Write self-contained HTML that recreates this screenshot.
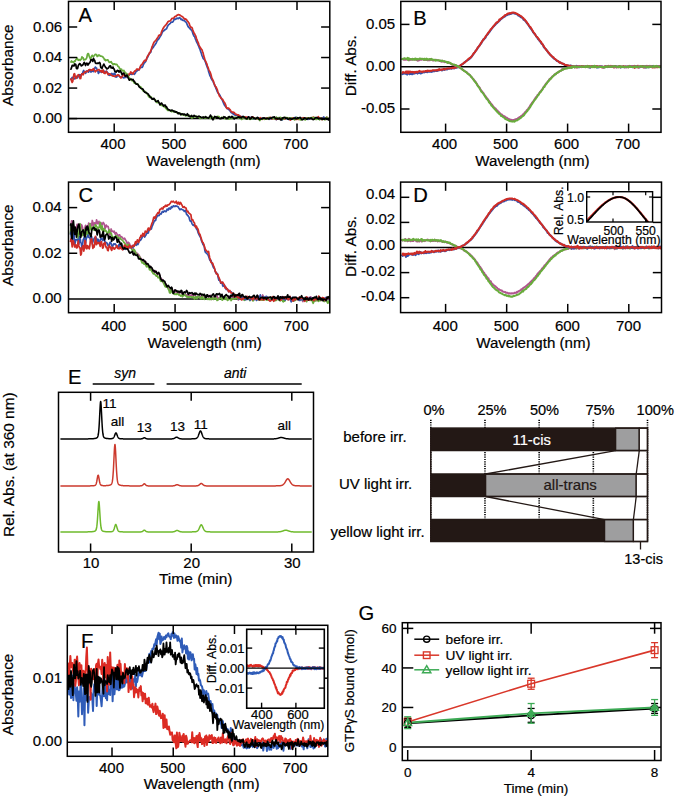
<!DOCTYPE html>
<html><head><meta charset="utf-8"><style>
html,body{margin:0;padding:0;background:#fff;}
svg{display:block;}
text{font-family:"Liberation Sans", sans-serif;}
</style></head><body>
<svg width="675" height="798" viewBox="0 0 675 798">
<defs><clipPath id="cA"><rect x="68.5" y="1.4" width="261.3" height="130.9"/></clipPath><clipPath id="cB"><rect x="400.8" y="1.4" width="260.2" height="130.9"/></clipPath><clipPath id="cC"><rect x="68.5" y="182.1" width="261.3" height="130.6"/></clipPath><clipPath id="cD"><rect x="400.6" y="182.1" width="260.9" height="130.5"/></clipPath><clipPath id="cID"><rect x="586.7" y="191.7" width="65.9" height="30.3"/></clipPath><clipPath id="cF"><rect x="67.3" y="625.3" width="260.5" height="131"/></clipPath><clipPath id="cIF"><rect x="246.7" y="629.3" width="77.6" height="78.9"/></clipPath></defs>
<rect x="0" y="0" width="675" height="798" fill="#fff"/>
<line x1="68.5" y1="118.6" x2="329.8" y2="118.6" stroke="#000" stroke-width="1.5" /><polyline points="70.33,79.71 70.94,79.11 71.55,78.67 72.16,77.34 72.77,77.46 73.37,78.72 73.98,78.75 74.59,78.84 75.2,77.59 75.81,76.82 76.42,77.14 77.03,76.24 77.64,77.83 78.25,75.59 78.86,75.69 79.47,74.64 80.08,76.63 80.69,74.89 81.3,75.68 81.91,73.55 82.51,73.55 83.12,71.45 83.73,70.47 84.34,72.01 84.95,72.38 85.56,73.4 86.17,71.88 86.78,71.05 87.39,70.79 88,71.46 88.61,72.1 89.22,70.76 89.83,70.79 90.44,70.43 91.05,72.1 91.65,70.23 92.26,71.34 92.87,70.74 93.48,71.54 94.09,70.2 94.7,68.24 95.31,67.06 95.92,67.91 96.53,68.11 97.14,70.11 97.75,70.79 98.36,73.41 98.97,72.57 99.58,71.06 100.19,71.69 100.79,71.69 101.4,72.39 102.01,70.63 102.62,71.36 103.23,70.78 103.84,71.08 104.45,71.8 105.06,71.67 105.67,72.12 106.28,71.17 106.89,71.56 107.5,72.59 108.11,73.38 108.72,74.96 109.33,75.23 109.93,75.31 110.54,74.89 111.15,73.81 111.76,73.41 112.37,73.86 112.98,75.33 113.59,74.46 114.2,73.38 114.81,73.11 115.42,75.57 116.03,77.1 116.64,76.97 117.25,75.9 117.86,75.21 118.47,75.2 119.07,76.01 119.68,76.5 120.29,76.93 120.9,76.8 121.51,76.96 122.12,76.53 122.73,77.51 123.34,77.59 123.95,77.92 124.56,77.43 125.17,77.21 125.78,77.42 126.39,77.01 127,76.87 127.61,76.28 128.21,76.02 128.82,75.14 129.43,74.69 130.04,74.04 130.65,74.17 131.26,74.28 131.87,74.5 132.48,73.88 133.09,73.38 133.7,73.37 134.31,74.25 134.92,73.57 135.53,72.68 136.14,71.35 136.75,71.22 137.35,70.64 137.96,70.23 138.57,70.04 139.18,69.4 139.79,68.43 140.4,67.14 141.01,67.21 141.62,67.45 142.23,67.49 142.84,66.17 143.45,64.55 144.06,63.08 144.67,62.7 145.28,62.03 145.89,60.86 146.49,59.38 147.1,57.69 147.71,57.14 148.32,55.49 148.93,54.23 149.54,53.33 150.15,52.73 150.76,52.21 151.37,49.48 151.98,48.86 152.59,47.73 153.2,47.65 153.81,46.09 154.42,45.52 155.03,44.77 155.63,43.73 156.24,42.9 156.85,41.19 157.46,40.53 158.07,39.3 158.68,39.17 159.29,38.02 159.9,36.94 160.51,36.08 161.12,35.13 161.73,33.67 162.34,32.16 162.95,31.32 163.56,30.76 164.17,30.58 164.77,29.59 165.38,29.64 165.99,29.02 166.6,28.68 167.21,27.05 167.82,25.9 168.43,24.77 169.04,24.53 169.65,23.89 170.26,23.36 170.87,22.58 171.48,22.1 172.09,22.03 172.7,22.04 173.31,21.15 173.91,19.82 174.52,18.88 175.13,19.46 175.74,19.04 176.35,18.83 176.96,18.07 177.57,18.49 178.18,18.69 178.79,18.07 179.4,17.58 180.01,17.98 180.62,18.87 181.23,19.6 181.84,19.06 182.45,20.17 183.05,20.31 183.66,20.57 184.27,20.27 184.88,21.12 185.49,21.83 186.1,22.2 186.71,23.35 187.32,24.97 187.93,26.28 188.54,27.19 189.15,27.71 189.76,28.51 190.37,29.01 190.98,29.83 191.59,30.14 192.19,31.25 192.8,33.39 193.41,34.81 194.02,36.26 194.63,36.56 195.24,38.59 195.85,39.84 196.46,41.69 197.07,42.91 197.68,43.93 198.29,45.47 198.9,46.74 199.51,48.45 200.12,49.69 200.73,51.89 201.33,53.23 201.94,55.52 202.55,56.74 203.16,58.53 203.77,58.92 204.38,59.67 204.99,60.82 205.6,62.39 206.21,64.45 206.82,65.94 207.43,67.86 208.04,68.92 208.65,71.71 209.26,73.5 209.87,75.63 210.47,76.35 211.08,78.34 211.69,79.32 212.3,80.42 212.91,80.74 213.52,82.63 214.13,83.88 214.74,85.74 215.35,86.61 215.96,88.51 216.57,89.65 217.18,91.34 217.79,92.6 218.4,93.45 219.01,94.1 219.61,94.78 220.22,96 220.83,97.4 221.44,98.83 222.05,99.58 222.66,100.99 223.27,102.36 223.88,103.9 224.49,105.24 225.1,105.96 225.71,106.83 226.32,107.4 226.93,108.28 227.54,108.73 228.15,109.14 228.75,109.55 229.36,110.05 229.97,110.76 230.58,111.73 231.19,112.63 231.8,112.75 232.41,113.44 233.02,113.64 233.63,114.31 234.24,114.21 234.85,115.11 235.46,115.41 236.07,115.24 236.68,115.06 237.29,114.98 237.89,115.72 238.5,115.58 239.11,115.65 239.72,115.73 240.33,117.42 240.94,118.02 241.55,117.2 242.16,116.43 242.77,116.93 243.38,117.41 243.99,117.71 244.6,117.26 245.21,117.67 245.82,118.04 246.43,118.23 247.03,118.14 247.64,117.79 248.25,117.66 248.86,118.13 249.47,117.69 250.08,117.31 250.69,117.72 251.3,118.22 251.91,118.76 252.52,118.62 253.13,118.84 253.74,119.12 254.35,119.02 254.96,118.98 255.57,118.76 256.17,118.4 256.78,117.92 257.39,117.81 258,117.68 258.61,118.44 259.22,118.72 259.83,119.08 260.44,118.42 261.05,118.95 261.66,118.35 262.27,118.85 262.88,118.19 263.49,118.59 264.1,117.89 264.71,118.22 265.31,118.67 265.92,118.92 266.53,118.47 267.14,117.96 267.75,118.11 268.36,118.56 268.97,119.35 269.58,118.71 270.19,118.95 270.8,118.23 271.41,118.75 272.02,117.99 272.63,117.9 273.24,117.52 273.85,117.81 274.45,118.01 275.06,119.17 275.67,119.14 276.28,119.6 276.89,118.96 277.5,118.54 278.11,118.18 278.72,117.74 279.33,118.25 279.94,118.14 280.55,118.67 281.16,119.5 281.77,119.89 282.38,119.84 282.99,118.89 283.59,118.63 284.2,118.58 284.81,118.31 285.42,118.09 286.03,118.18 286.64,118.21 287.25,119.13 287.86,119.09 288.47,119.45 289.08,118.29 289.69,118.37 290.3,118.84 290.91,119.24 291.52,118.45 292.13,118.01 292.73,118.1 293.34,118.77 293.95,118.68 294.56,118.18 295.17,117.42 295.78,117.27 296.39,117.77 297,117.8 297.61,117.93 298.22,117.87 298.83,118.65 299.44,118.8 300.05,118.74 300.66,118.71 301.27,118.45 301.87,118.51 302.48,118.21 303.09,118.49 303.7,118.59 304.31,118.7 304.92,118.54 305.53,118.44 306.14,118.11 306.75,118.51 307.36,119.23 307.97,119.39 308.58,119.1 309.19,117.94 309.8,118.22 310.41,118.55 311.01,118.25 311.62,118.08 312.23,117.83 312.84,118.87 313.45,118.81 314.06,118.89 314.67,118.49 315.28,118.27 315.89,118.53 316.5,118.79 317.11,119.03 317.72,117.96 318.33,117.5 318.94,117.83 319.55,117.9 320.15,118.36 320.76,118.25 321.37,118.64 321.98,118.9 322.59,117.76 323.2,117.47 323.81,117 324.42,118.29 325.03,119.12 325.64,119.07 326.25,118.62 326.86,118.35 327.47,118.55 328.08,118.6 328.69,118.48 329.29,119.07 329.9,119.03 330.51,119.01" fill="none" stroke="#3151ad" stroke-width="1.7" stroke-linejoin="round" clip-path="url(#cA)"/><polyline points="70.33,78.5 70.94,79.01 71.55,80.92 72.16,82.43 72.77,81.26 73.37,77.35 73.98,73.99 74.59,73.74 75.2,76.51 75.81,78.53 76.42,78.13 77.03,76.26 77.64,75.62 78.25,74.61 78.86,75.45 79.47,77.05 80.08,78.59 80.69,78.52 81.3,74.67 81.91,73.85 82.51,73.8 83.12,74.82 83.73,73.59 84.34,72.14 84.95,72.2 85.56,71.9 86.17,71.25 86.78,71.66 87.39,71.71 88,71.11 88.61,70.05 89.22,69.59 89.83,69.61 90.44,69.82 91.05,70.38 91.65,70.18 92.26,70.26 92.87,69.19 93.48,68.66 94.09,69.67 94.7,70.51 95.31,71.9 95.92,70.93 96.53,70.82 97.14,70.48 97.75,69.74 98.36,69.73 98.97,69.49 99.58,70.55 100.19,71.15 100.79,70.57 101.4,71.87 102.01,70.67 102.62,72.18 103.23,69.97 103.84,72.97 104.45,73.07 105.06,73.49 105.67,71.96 106.28,71.3 106.89,72.64 107.5,73.36 108.11,74.67 108.72,74.1 109.33,73.77 109.93,73.74 110.54,74.48 111.15,75.19 111.76,75.31 112.37,75.93 112.98,75.97 113.59,76.26 114.2,76.16 114.81,76.56 115.42,75.74 116.03,75.86 116.64,75.39 117.25,75.52 117.86,74.84 118.47,75.11 119.07,75.35 119.68,76.55 120.29,77.23 120.9,77.98 121.51,77.34 122.12,76.73 122.73,75.53 123.34,74.51 123.95,74.4 124.56,75.1 125.17,76.24 125.78,75.89 126.39,76.47 127,75.14 127.61,75.31 128.21,74.17 128.82,75.19 129.43,74.04 130.04,73.74 130.65,71.97 131.26,72.26 131.87,72.92 132.48,73.76 133.09,73.93 133.7,72.11 134.31,71.6 134.92,70.93 135.53,70.87 136.14,70.03 136.75,69.04 137.35,69.01 137.96,69.43 138.57,69.66 139.18,69.79 139.79,67.95 140.4,66.48 141.01,65.16 141.62,64.74 142.23,64.09 142.84,62.93 143.45,62.11 144.06,61.13 144.67,60.38 145.28,60.35 145.89,60.6 146.49,59.12 147.1,57.04 147.71,55.84 148.32,55.1 148.93,54.47 149.54,52.62 150.15,52.42 150.76,50.65 151.37,49.29 151.98,46.9 152.59,45.62 153.2,43.98 153.81,42.55 154.42,41.73 155.03,41.03 155.63,40.79 156.24,39.68 156.85,38.83 157.46,38.03 158.07,36.82 158.68,35.53 159.29,35.11 159.9,35.25 160.51,34.65 161.12,33.25 161.73,31.24 162.34,30.19 162.95,28.61 163.56,27.83 164.17,26.56 164.77,26.02 165.38,25.32 165.99,24.92 166.6,23.79 167.21,23.09 167.82,21.99 168.43,21.41 169.04,21.14 169.65,20.99 170.26,20.98 170.87,20.11 171.48,19.05 172.09,18.3 172.7,18.45 173.31,18.48 173.91,17.93 174.52,16.86 175.13,16.61 175.74,16.03 176.35,16.09 176.96,15.12 177.57,15.09 178.18,14.5 178.79,14.82 179.4,14.89 180.01,15.07 180.62,15.64 181.23,16 181.84,16.53 182.45,16.6 183.05,17.26 183.66,17.91 184.27,18.83 184.88,19.1 185.49,18.94 186.1,19.31 186.71,19.93 187.32,21.07 187.93,21.53 188.54,22.59 189.15,23.23 189.76,25.44 190.37,26.54 190.98,27.48 191.59,27.25 192.19,28.08 192.8,30.01 193.41,31.59 194.02,33.17 194.63,33.87 195.24,35.16 195.85,36.17 196.46,38.45 197.07,39.94 197.68,41.7 198.29,42.87 198.9,44.75 199.51,46.08 200.12,47.2 200.73,48.16 201.33,49.25 201.94,49.68 202.55,51.61 203.16,53.05 203.77,56.08 204.38,57.65 204.99,60.12 205.6,61.13 206.21,62.64 206.82,63.85 207.43,65.98 208.04,67.38 208.65,69.22 209.26,70.62 209.87,71.63 210.47,73.05 211.08,74.94 211.69,77.71 212.3,78.86 212.91,80.1 213.52,81.47 214.13,83.5 214.74,84.95 215.35,86.45 215.96,86.81 216.57,88.26 217.18,89.32 217.79,91.41 218.4,93.27 219.01,94.98 219.61,96.29 220.22,96.85 220.83,97.93 221.44,98.32 222.05,99.24 222.66,99.39 223.27,100.59 223.88,101.8 224.49,102.33 225.1,103.6 225.71,105.05 226.32,107.56 226.93,108.39 227.54,108.16 228.15,108.02 228.75,108.08 229.36,109.13 229.97,109.56 230.58,110.48 231.19,111.27 231.8,111.87 232.41,112.49 233.02,112.19 233.63,112.31 234.24,112.5 234.85,113.54 235.46,114.07 236.07,114.38 236.68,114.42 237.29,114.71 237.89,115.1 238.5,114.95 239.11,115.43 239.72,115.76 240.33,116.32 240.94,116.51 241.55,117.06 242.16,117.4 242.77,117.96 243.38,117.93 243.99,117.68 244.6,117.16 245.21,116.91 245.82,117.28 246.43,117.08 247.03,117.57 247.64,117.33 248.25,117.73 248.86,117.88 249.47,118.45 250.08,118.38 250.69,118.14 251.3,117.84 251.91,117.05 252.52,116.9 253.13,116.98 253.74,117.83 254.35,118.27 254.96,118.4 255.57,118.52 256.17,118.62 256.78,118.59 257.39,118.83 258,118.52 258.61,119.14 259.22,118.46 259.83,118.54 260.44,117.72 261.05,118.72 261.66,119.15 262.27,119.33 262.88,119.08 263.49,118.39 264.1,118.73 264.71,118.96 265.31,119.07 265.92,118.5 266.53,117.83 267.14,117.96 267.75,118.11 268.36,118.72 268.97,118.24 269.58,117.93 270.19,117.26 270.8,118.29 271.41,118.38 272.02,119.03 272.63,118.29 273.24,118.45 273.85,117.77 274.45,118.01 275.06,118.28 275.67,119.07 276.28,119.42 276.89,119.09 277.5,119.06 278.11,118.41 278.72,118.75 279.33,118.63 279.94,118.53 280.55,118.09 281.16,118.24 281.77,118.64 282.38,118.95 282.99,118.36 283.59,118.56 284.2,118.71 284.81,118.98 285.42,118.48 286.03,118.02 286.64,118.17 287.25,117.8 287.86,117.96 288.47,118.05 289.08,119.22 289.69,119.54 290.3,120.1 290.91,119.49 291.52,119.12 292.13,117.84 292.73,117.73 293.34,118.52 293.95,119.07 294.56,119 295.17,119.16 295.78,119.35 296.39,119.38 297,118.6 297.61,119.02 298.22,119.41 298.83,119.43 299.44,117.99 300.05,117.96 300.66,118.29 301.27,118.94 301.87,118.66 302.48,118.14 303.09,117.72 303.7,117.86 304.31,118.55 304.92,119.04 305.53,119.01 306.14,118.18 306.75,117.9 307.36,118.17 307.97,118.24 308.58,118.18 309.19,117.99 309.8,117.92 310.41,118.22 311.01,118.09 311.62,118.47 312.23,118.25 312.84,117.3 313.45,117.17 314.06,117.86 314.67,118.95 315.28,119.24 315.89,118.71 316.5,118.68 317.11,117.58 317.72,117.43 318.33,116.73 318.94,117.87 319.55,118.21 320.15,118.14 320.76,118.48 321.37,118.36 321.98,119.63 322.59,118.5 323.2,119.04 323.81,118.61 324.42,119.21 325.03,119.31 325.64,118.33 326.25,118.33 326.86,117.15 327.47,118.27 328.08,118.73 328.69,119.23 329.29,118.92 329.9,117.38 330.51,117.47" fill="none" stroke="#cf2c26" stroke-width="1.7" stroke-linejoin="round" clip-path="url(#cA)"/><polyline points="70.33,61.36 70.94,62.04 71.55,60.92 72.16,61.99 72.77,61.76 73.37,62.61 73.98,61.88 74.59,60.83 75.2,61.25 75.81,59.72 76.42,59.14 77.03,58.07 77.64,59.22 78.25,60.35 78.86,59.7 79.47,59.72 80.08,60.29 80.69,59.68 81.3,59.08 81.91,56.89 82.51,57.48 83.12,57.74 83.73,59.91 84.34,59.61 84.95,59.75 85.56,59.29 86.17,58.99 86.78,57.74 87.39,54.44 88,53.53 88.61,53.96 89.22,56.41 89.83,57.64 90.44,59.05 91.05,57.69 91.65,56.02 92.26,55.28 92.87,56.41 93.48,56.63 94.09,55.84 94.7,54.99 95.31,54.26 95.92,54.58 96.53,54.6 97.14,56.36 97.75,56.34 98.36,55.53 98.97,54.94 99.58,55.22 100.19,56.09 100.79,56.21 101.4,56.19 102.01,56.41 102.62,56.48 103.23,57.64 103.84,58.09 104.45,59.81 105.06,59.41 105.67,60.68 106.28,59.99 106.89,60.15 107.5,59.91 108.11,60.11 108.72,61.71 109.33,62.28 109.93,62.22 110.54,62.24 111.15,61.66 111.76,63.21 112.37,63.39 112.98,64.73 113.59,64.24 114.2,63.75 114.81,64.08 115.42,64.54 116.03,64.31 116.64,64.3 117.25,65.08 117.86,66.21 118.47,66.65 119.07,67.12 119.68,68.86 120.29,68.91 120.9,69.48 121.51,69.2 122.12,70.85 122.73,70.57 123.34,70.87 123.95,70.5 124.56,71.86 125.17,72.63 125.78,73.28 126.39,73.32 127,73.97 127.61,74.99 128.21,76.2 128.82,77.25 129.43,78.22 130.04,78.45 130.65,78.8 131.26,79.86 131.87,80.69 132.48,80.73 133.09,80.6 133.7,81.98 134.31,83.11 134.92,83.28 135.53,83.02 136.14,83.75 136.75,83.89 137.35,83.78 137.96,84.21 138.57,85.19 139.18,86.33 139.79,86.53 140.4,86.83 141.01,87.22 141.62,88.04 142.23,89.38 142.84,90.54 143.45,91.14 144.06,91.05 144.67,91.23 145.28,91.77 145.89,92.66 146.49,93.31 147.1,93.69 147.71,94.72 148.32,95.96 148.93,96.82 149.54,97.33 150.15,96.55 150.76,96.93 151.37,97.07 151.98,98.63 152.59,98.91 153.2,99.47 153.81,98.96 154.42,99.19 155.03,99.67 155.63,100.34 156.24,102.02 156.85,102.42 157.46,102.56 158.07,101.75 158.68,101.89 159.29,102.78 159.9,104 160.51,104.99 161.12,105.35 161.73,104.68 162.34,105.42 162.95,105.74 163.56,106.61 164.17,105.98 164.77,106.97 165.38,107.83 165.99,108.59 166.6,109.06 167.21,109.71 167.82,110.41 168.43,110.42 169.04,110.19 169.65,110.19 170.26,110.43 170.87,111.08 171.48,111.59 172.09,111.48 172.7,111.51 173.31,111.52 173.91,111.81 174.52,111.58 175.13,111.31 175.74,111.7 176.35,112.36 176.96,112.9 177.57,113.16 178.18,112.83 178.79,113.01 179.4,113.02 180.01,113.69 180.62,113.47 181.23,114.58 181.84,114.6 182.45,114.97 183.05,114.82 183.66,114.34 184.27,114.82 184.88,114.61 185.49,115.9 186.1,115.67 186.71,115.68 187.32,115.64 187.93,116 188.54,115.96 189.15,115.44 189.76,115.56 190.37,116.25 190.98,116.98 191.59,117.96 192.19,117.97 192.8,117.6 193.41,116.7 194.02,116.55 194.63,116.99 195.24,116.65 195.85,116.57 196.46,116.17 197.07,116.64 197.68,117.02 198.29,116.83 198.9,117.44 199.51,117.67 200.12,118.4 200.73,118.26 201.33,118.06 201.94,118.16 202.55,117.58 203.16,117.39 203.77,117.09 204.38,118.02 204.99,118.36 205.6,118.13 206.21,118.02 206.82,117.32 207.43,118.09 208.04,117.58 208.65,118.31 209.26,117.9 209.87,118.34 210.47,118.14 211.08,117.64 211.69,117.47 212.3,116.67 212.91,117.44 213.52,117.73 214.13,118.43 214.74,118.43 215.35,117.4 215.96,117.14 216.57,116.59 217.18,116.99 217.79,116.43 218.4,116.58 219.01,116.62 219.61,117.8 220.22,118.41 220.83,118.54 221.44,117.9 222.05,117.19 222.66,117.6 223.27,117.77 223.88,118.1 224.49,118.17 225.1,118.19 225.71,119.06 226.32,118.58 226.93,117.9 227.54,117.46 228.15,117.56 228.75,119.1 229.36,119.01 229.97,118.76 230.58,118.46 231.19,118.21 231.8,118.61 232.41,118.38 233.02,118.31 233.63,118.02 234.24,117.46 234.85,117.23 235.46,117.61 236.07,117.55 236.68,117.41 237.29,117.76 237.89,118.03 238.5,118.18 239.11,117.3 239.72,117.35 240.33,118.1 240.94,118.54 241.55,119.47 242.16,119.07 242.77,118.26 243.38,117.3 243.99,116.95 244.6,117.85 245.21,118.46 245.82,119.13 246.43,118.91 247.03,118.84 247.64,118.69 248.25,118.34 248.86,118.64 249.47,118.88 250.08,119.47 250.69,118.93 251.3,118.52 251.91,118.83 252.52,118.73 253.13,118.74 253.74,118.13 254.35,118.58 254.96,118.45 255.57,118.5 256.17,118.36 256.78,118.53 257.39,118.81 258,118.1 258.61,119.13 259.22,119.44 259.83,120.53 260.44,119.57 261.05,119.3 261.66,118.85 262.27,118.46 262.88,118.8 263.49,118.96 264.1,119.3 264.71,119.15 265.31,118.73 265.92,118.53 266.53,118.36 267.14,119.12 267.75,118.68 268.36,118.27 268.97,117.5 269.58,118.04 270.19,118.21 270.8,118.07 271.41,118.11 272.02,118.33 272.63,118.38 273.24,118.35 273.85,118.41 274.45,118.98 275.06,118.6 275.67,118.1 276.28,117.09 276.89,117.69 277.5,118.18 278.11,118.74 278.72,118.07 279.33,117.6 279.94,117.59 280.55,117.42 281.16,117.89 281.77,118.49 282.38,119.42 282.99,119.27 283.59,118.71 284.2,118.09 284.81,117.83 285.42,117.43 286.03,118.09 286.64,117.56 287.25,118.39 287.86,117.69 288.47,118.69 289.08,118.29 289.69,118.69 290.3,118.18 290.91,118.03 291.52,118.13 292.13,118.34 292.73,118.52 293.34,118.91 293.95,119.15 294.56,119.81 295.17,119.35 295.78,118.31 296.39,117.48 297,117.79 297.61,118.82 298.22,118.74 298.83,118.61 299.44,118.93 300.05,119.63 300.66,119.84 301.27,119.64 301.87,119.04 302.48,118.64 303.09,118.81 303.7,119.24 304.31,119.67 304.92,119.57 305.53,119.92 306.14,118.9 306.75,118.59 307.36,117.85 307.97,118.16 308.58,118.19 309.19,118.21 309.8,118.33 310.41,118.11 311.01,117.54 311.62,117.63 312.23,117.79 312.84,118.33 313.45,117.81 314.06,117.38 314.67,117.77 315.28,118.7 315.89,119.38 316.5,119.45 317.11,119.01 317.72,118.39 318.33,118.96 318.94,119.1 319.55,119.79 320.15,118.75 320.76,118.42 321.37,118.31 321.98,118.71 322.59,119.36 323.2,118.95 323.81,119.36 324.42,119.42 325.03,119.8 325.64,118.8 326.25,117.56 326.86,117.31 327.47,118.18 328.08,119 328.69,119.31 329.29,118.72 329.9,119.14 330.51,118.83" fill="none" stroke="#68ac3c" stroke-width="1.7" stroke-linejoin="round" clip-path="url(#cA)"/><polyline points="70.33,68.56 70.94,69.19 71.55,67.68 72.16,65.36 72.77,65.33 73.37,65.94 73.98,65.89 74.59,63.94 75.2,64.16 75.81,64.55 76.42,68.42 77.03,68.75 77.64,68.4 78.25,65.6 78.86,64.78 79.47,63.57 80.08,63.81 80.69,64.66 81.3,65.97 81.91,65.41 82.51,65.38 83.12,64.52 83.73,62.99 84.34,62.35 84.95,63.99 85.56,65.51 86.17,63.63 86.78,63.17 87.39,63.58 88,65.07 88.61,64.14 89.22,63.1 89.83,62.54 90.44,61.5 91.05,59.53 91.65,59.76 92.26,59.79 92.87,61.42 93.48,58.24 94.09,59.87 94.7,60.4 95.31,62.9 95.92,63.44 96.53,63.46 97.14,63.13 97.75,63.38 98.36,63.38 98.97,62.83 99.58,62.5 100.19,63.72 100.79,67.59 101.4,67.58 102.01,68.53 102.62,66.44 103.23,65.42 103.84,64.05 104.45,65.4 105.06,66.43 105.67,67.45 106.28,67.91 106.89,68.96 107.5,68.6 108.11,68.18 108.72,67.58 109.33,66.33 109.93,65.78 110.54,65.78 111.15,67.96 111.76,67.61 112.37,68.05 112.98,67.05 113.59,68.69 114.2,68.94 114.81,71.41 115.42,71.29 116.03,72.2 116.64,71.48 117.25,70.31 117.86,71 118.47,70.69 119.07,72.19 119.68,71.16 120.29,70.76 120.9,72.05 121.51,73.1 122.12,74.56 122.73,73.55 123.34,73.09 123.95,73.36 124.56,74.57 125.17,76.19 125.78,76.2 126.39,75.38 127,75.06 127.61,76.17 128.21,78.09 128.82,79.2 129.43,80.22 130.04,79.3 130.65,79.39 131.26,79.21 131.87,79.47 132.48,79.93 133.09,79.52 133.7,81.08 134.31,81.15 134.92,82.4 135.53,83.23 136.14,84.08 136.75,84.27 137.35,84.06 137.96,84.66 138.57,85.63 139.18,86.82 139.79,87.26 140.4,87.87 141.01,88.36 141.62,88.77 142.23,88.81 142.84,88.98 143.45,90.09 144.06,91.51 144.67,92.15 145.28,92.34 145.89,92.44 146.49,93.02 147.1,93.26 147.71,93.72 148.32,94.16 148.93,95.44 149.54,95.95 150.15,96.95 150.76,97.62 151.37,97.8 151.98,99.1 152.59,98.95 153.2,99.23 153.81,98.29 154.42,99.35 155.03,100 155.63,101.37 156.24,101.52 156.85,101.44 157.46,101.03 158.07,100.6 158.68,102.11 159.29,103.49 159.9,104.75 160.51,104.19 161.12,103.37 161.73,103.05 162.34,104.11 162.95,105 163.56,106 164.17,105.18 164.77,105.57 165.38,105.19 165.99,106.93 166.6,106.81 167.21,108.41 167.82,108.92 168.43,109.71 169.04,109.82 169.65,110.08 170.26,110.59 170.87,110.86 171.48,110.29 172.09,110 172.7,110.61 173.31,110.77 173.91,111.5 174.52,111.14 175.13,112.15 175.74,111.96 176.35,111.85 176.96,112.19 177.57,112.73 178.18,113.76 178.79,112.93 179.4,113.48 180.01,113.47 180.62,114.73 181.23,114.47 181.84,113.93 182.45,113.94 183.05,114.14 183.66,114.75 184.27,114.21 184.88,114.27 185.49,114.99 186.1,115.05 186.71,115.14 187.32,113.74 187.93,114.75 188.54,115.23 189.15,116.24 189.76,116.69 190.37,116.74 190.98,116.24 191.59,115.44 192.19,116.39 192.8,116.46 193.41,116.68 194.02,115.38 194.63,115.97 195.24,116.1 195.85,116.48 196.46,116.52 197.07,117.08 197.68,116.71 198.29,116.68 198.9,116.11 199.51,116.44 200.12,116.7 200.73,116.92 201.33,117.67 201.94,117.46 202.55,117.34 203.16,116.91 203.77,117.77 204.38,117.35 204.99,117.34 205.6,116.65 206.21,117.37 206.82,117.57 207.43,117.76 208.04,118.12 208.65,118.13 209.26,117.1 209.87,116.15 210.47,115.07 211.08,116.23 211.69,117.55 212.3,118.99 212.91,119.86 213.52,118.61 214.13,117.53 214.74,116.39 215.35,116.7 215.96,117.08 216.57,117.19 217.18,117.05 217.79,117.65 218.4,117.8 219.01,118.19 219.61,118.49 220.22,118.74 220.83,118.51 221.44,117.65 222.05,118.29 222.66,118.09 223.27,118.1 223.88,116.74 224.49,117.17 225.1,117.08 225.71,117.97 226.32,118.04 226.93,118.75 227.54,118.43 228.15,117.85 228.75,116.72 229.36,116.5 229.97,117.19 230.58,117.56 231.19,117.39 231.8,116.4 232.41,116.47 233.02,117.66 233.63,118.46 234.24,118.87 234.85,118.23 235.46,118.2 236.07,118.05 236.68,117.87 237.29,117.29 237.89,117.17 238.5,116.85 239.11,117.43 239.72,117.08 240.33,117.73 240.94,117.29 241.55,117.92 242.16,116.82 242.77,116.74 243.38,116.44 243.99,117.27 244.6,117.76 245.21,117.82 245.82,118.26 246.43,118.52 247.03,118.97 247.64,117.78 248.25,116.93 248.86,116.95 249.47,117.76 250.08,119.05 250.69,118.64 251.3,118.08 251.91,116.77 252.52,117.43 253.13,117.39 253.74,118.22 254.35,117.99 254.96,118.53 255.57,118.8 256.17,118.31 256.78,118.18 257.39,117.36 258,117.78 258.61,118.58 259.22,119.5 259.83,119.14 260.44,118.98 261.05,118.89 261.66,118.82 262.27,118.78 262.88,118.11 263.49,118.21 264.1,117.88 264.71,118.26 265.31,118.62 265.92,118.55 266.53,118.68 267.14,118.47 267.75,118.34 268.36,118.53 268.97,118.95 269.58,118.05 270.19,118.21 270.8,117.87 271.41,118.24 272.02,117.36 272.63,117.61 273.24,117.28 273.85,116.96 274.45,116.79 275.06,118.16 275.67,118.65 276.28,118.6 276.89,118.21 277.5,118.82 278.11,119 278.72,118.81 279.33,118.1 279.94,118.73 280.55,119.8 281.16,119.78 281.77,119.27 282.38,117.98 282.99,118.35 283.59,117.47 284.2,117.39 284.81,117.55 285.42,118.15 286.03,118.41 286.64,117.98 287.25,118.18 287.86,118.96 288.47,119.24 289.08,119 289.69,118.43 290.3,118.9 290.91,118.63 291.52,119.3 292.13,119.08 292.73,118.8 293.34,118.54 293.95,118.17 294.56,118.53 295.17,117.88 295.78,118.77 296.39,118.54 297,118.66 297.61,117.75 298.22,118.05 298.83,118.09 299.44,117.79 300.05,117.31 300.66,118.13 301.27,118.97 301.87,119.65 302.48,119.79 303.09,118.84 303.7,119.1 304.31,117.95 304.92,118.48 305.53,118.25 306.14,118.92 306.75,119.16 307.36,119.04 307.97,118.28 308.58,118.22 309.19,118.43 309.8,118.86 310.41,118.23 311.01,117.94 311.62,118.13 312.23,119.21 312.84,119.51 313.45,119.61 314.06,119.26 314.67,118.51 315.28,117.84 315.89,117.57 316.5,117.97 317.11,117.54 317.72,118.12 318.33,118.1 318.94,118.92 319.55,118.38 320.15,118.54 320.76,118.59 321.37,118.42 321.98,119.36 322.59,119.11 323.2,119.05 323.81,118.54 324.42,119.08 325.03,118.56 325.64,118.54 326.25,118.29 326.86,119.42 327.47,119.3 328.08,119.42 328.69,119.98 329.29,118.72 329.9,118.75 330.51,117.87" fill="none" stroke="#000" stroke-width="1.7" stroke-linejoin="round" clip-path="url(#cA)"/><rect x="68.5" y="1.4" width="261.3" height="130.9" fill="none" stroke="#000" stroke-width="1.5"/><line x1="114.2" y1="132.3" x2="114.2" y2="123.6" stroke="#000" stroke-width="1.5" /><line x1="114.2" y1="1.4" x2="114.2" y2="10.1" stroke="#000" stroke-width="1.5" /><line x1="175.13" y1="132.3" x2="175.13" y2="123.6" stroke="#000" stroke-width="1.5" /><line x1="175.13" y1="1.4" x2="175.13" y2="10.1" stroke="#000" stroke-width="1.5" /><line x1="236.07" y1="132.3" x2="236.07" y2="123.6" stroke="#000" stroke-width="1.5" /><line x1="236.07" y1="1.4" x2="236.07" y2="10.1" stroke="#000" stroke-width="1.5" /><line x1="297" y1="132.3" x2="297" y2="123.6" stroke="#000" stroke-width="1.5" /><line x1="297" y1="1.4" x2="297" y2="10.1" stroke="#000" stroke-width="1.5" /><line x1="68.5" y1="118.6" x2="77.2" y2="118.6" stroke="#000" stroke-width="1.5" /><line x1="329.8" y1="118.6" x2="321.1" y2="118.6" stroke="#000" stroke-width="1.5" /><line x1="68.5" y1="88.07" x2="77.2" y2="88.07" stroke="#000" stroke-width="1.5" /><line x1="329.8" y1="88.07" x2="321.1" y2="88.07" stroke="#000" stroke-width="1.5" /><line x1="68.5" y1="57.53" x2="77.2" y2="57.53" stroke="#000" stroke-width="1.5" /><line x1="329.8" y1="57.53" x2="321.1" y2="57.53" stroke="#000" stroke-width="1.5" /><line x1="68.5" y1="27" x2="77.2" y2="27" stroke="#000" stroke-width="1.5" /><line x1="329.8" y1="27" x2="321.1" y2="27" stroke="#000" stroke-width="1.5" /><text x="113" y="149" text-anchor="middle" fill="#000" stroke="#000" stroke-width="0.2" style="font-size:15px;" >400</text><text x="173.93" y="149" text-anchor="middle" fill="#000" stroke="#000" stroke-width="0.2" style="font-size:15px;" >500</text><text x="234.87" y="149" text-anchor="middle" fill="#000" stroke="#000" stroke-width="0.2" style="font-size:15px;" >600</text><text x="295.8" y="149" text-anchor="middle" fill="#000" stroke="#000" stroke-width="0.2" style="font-size:15px;" >700</text><text x="62.2" y="123.2" text-anchor="end" fill="#000" stroke="#000" stroke-width="0.2" style="font-size:15px;" >0.00</text><text x="62.2" y="92.67" text-anchor="end" fill="#000" stroke="#000" stroke-width="0.2" style="font-size:15px;" >0.02</text><text x="62.2" y="62.13" text-anchor="end" fill="#000" stroke="#000" stroke-width="0.2" style="font-size:15px;" >0.04</text><text x="62.2" y="31.6" text-anchor="end" fill="#000" stroke="#000" stroke-width="0.2" style="font-size:15px;" >0.06</text><text x="203.4" y="165.8" text-anchor="middle" fill="#000" stroke="#000" stroke-width="0.2" style="font-size:15.1px;" >Wavelength (nm)</text><text x="12.6" y="65.2" text-anchor="middle" fill="#000" stroke="#000" stroke-width="0.2" style="font-size:15.3px;" transform="rotate(-90 12.6 65.2)" >Absorbance</text><text x="78.6" y="21.5" text-anchor="start" fill="#000" stroke="#000" stroke-width="0.2" style="font-size:20.2px;" >A</text><line x1="400.8" y1="66.7" x2="661" y2="66.7" stroke="#000" stroke-width="1.5" /><polyline points="401.68,74.01 402.29,74.23 402.9,73.49 403.51,73.79 404.12,73.53 404.73,73.47 405.34,73.59 405.95,73.95 406.56,73.47 407.17,74.64 407.78,73.4 408.39,73.44 409,73.58 409.61,74.31 410.22,73 410.83,73.89 411.44,73.23 412.05,74.32 412.66,73.5 413.27,73.66 413.88,73.66 414.49,73.56 415.1,72.41 415.71,73.16 416.32,72.94 416.93,72.1 417.54,73.6 418.15,72.26 418.76,73.01 419.37,73.06 419.98,72.91 420.59,73.43 421.2,73.25 421.81,73.02 422.42,72.72 423.03,72.13 423.64,71.91 424.25,72.43 424.86,72.07 425.47,71.98 426.08,72.17 426.69,71.92 427.3,72.16 427.91,71.65 428.52,71.87 429.13,71.7 429.74,71.54 430.35,71.51 430.96,71.75 431.57,71.9 432.18,71.35 432.79,71.45 433.4,71.36 434.01,71.12 434.62,71.25 435.23,70.76 435.84,70.7 436.45,71.06 437.06,70.54 437.67,70.91 438.28,70.26 438.89,70.2 439.5,70.33 440.11,69.94 440.72,69.82 441.33,69.91 441.94,70.54 442.55,69.83 443.16,69.71 443.77,69.43 444.38,69.88 444.99,69.27 445.6,69.27 446.21,69.15 446.82,69.53 447.43,69.31 448.04,68.63 448.65,68.61 449.26,68.76 449.87,68.33 450.48,68.45 451.09,68.53 451.7,68.74 452.31,67.94 452.92,68.15 453.53,67.96 454.14,68.39 454.75,67.97 455.36,67.65 455.97,67.67 456.58,67.65 457.19,67.58 457.8,67.05 458.41,66.92 459.02,66.59 459.63,66.18 460.24,65.81 460.85,65.27 461.46,64.85 462.07,64.24 462.68,64.1 463.29,63.6 463.9,62.93 464.51,62.56 465.12,62.07 465.73,61.24 466.34,61.06 466.95,60.52 467.56,60.18 468.17,59.79 468.78,59.41 469.39,59.07 470,58.39 470.61,57.96 471.22,57.04 471.83,56.44 472.44,55.58 473.05,54.62 473.66,53.92 474.27,52.85 474.88,52.02 475.49,51.15 476.1,50.32 476.71,49.57 477.32,48.84 477.93,47.73 478.54,46.97 479.15,46.06 479.76,45.03 480.37,44.46 480.98,43.7 481.59,42.44 482.2,41.29 482.81,40.6 483.42,39.23 484.03,39.49 484.64,38.52 485.25,38.05 485.86,36.92 486.47,35.51 487.08,34.73 487.69,34.43 488.3,33.43 488.91,32.69 489.52,31.96 490.13,30.9 490.74,30.11 491.35,29.24 491.96,28.44 492.57,27.61 493.18,26.75 493.79,26.35 494.4,25.69 495.01,24.98 495.62,24.24 496.23,23.72 496.84,23.27 497.45,22.56 498.06,21.7 498.67,21.49 499.28,20.53 499.89,20.44 500.5,19.48 501.11,18.96 501.72,18.63 502.33,18.11 502.94,17.69 503.55,16.85 504.16,16.87 504.77,16.53 505.38,15.92 505.99,15.41 506.6,15.23 507.21,15.01 507.82,14.47 508.43,14.56 509.04,14.31 509.65,14.17 510.26,13.45 510.87,13.99 511.48,13.66 512.09,13.25 512.7,13.19 513.31,12.94 513.92,13.3 514.53,13.64 515.14,13.44 515.75,13.74 516.36,13.99 516.97,14.3 517.58,14.73 518.19,15.48 518.8,15.76 519.41,15.5 520.02,16.31 520.63,17.14 521.24,17.21 521.85,17.52 522.46,18.17 523.07,18.81 523.68,19.88 524.29,20 524.9,20.69 525.51,21 526.12,22.07 526.73,22.84 527.34,23.72 527.95,24.48 528.56,25.24 529.17,26.27 529.78,27.22 530.39,28.18 531,28.78 531.61,29.76 532.22,30.64 532.83,31.78 533.44,32.52 534.05,33.64 534.66,33.92 535.27,34.74 535.88,35.75 536.49,36.69 537.1,37.39 537.71,38.59 538.32,39.34 538.93,39.59 539.54,40.83 540.15,41.42 540.76,42.35 541.37,43.55 541.98,44.03 542.59,44.59 543.2,45.38 543.81,47.08 544.42,47.77 545.03,48.45 545.64,48.98 546.25,49.76 546.86,50.48 547.47,51.23 548.08,52.41 548.69,53.25 549.3,53.54 549.91,54.46 550.52,55.04 551.13,55.74 551.74,56.35 552.35,56.65 552.96,57.61 553.57,58.3 554.18,58.6 554.79,58.93 555.4,59.5 556.01,59.94 556.62,60.78 557.23,60.98 557.84,60.98 558.45,61.64 559.06,62.13 559.67,62.12 560.28,62.82 560.89,62.87 561.5,63.3 562.11,63.56 562.72,63.71 563.33,63.71 563.94,64.16 564.55,64.83 565.16,65.09 565.77,65.11 566.38,65.24 566.99,65.22 567.6,65.5 568.21,65.57 568.82,66.41 569.43,65.89 570.04,65.77 570.65,65.41 571.26,65.84 571.87,66.17 572.48,66.72 573.09,66.34 573.7,66.39 574.31,66.5 574.92,66.44 575.53,66.35 576.14,66.42 576.75,65.78 577.36,67.02 577.97,67.27 578.58,66.55 579.19,67.18 579.8,66.8 580.41,66.76 581.02,67.04 581.63,66.43 582.24,66.49 582.85,66.68 583.46,66.5 584.07,66.4 584.68,66.85 585.29,66.5 585.9,66.68 586.51,66.73 587.12,66.9 587.73,66.07 588.34,66.6 588.95,67.27 589.56,66.54 590.17,67.69 590.78,66.63 591.39,66.44 592,66.19 592.61,66.65 593.22,66.99 593.83,65.99 594.44,66.33 595.05,66.24 595.66,66.82 596.27,66.49 596.88,67.39 597.49,66.55 598.1,67.52 598.71,67.12 599.32,67.28 599.93,66.29 600.54,66.38 601.15,66.95 601.76,66.26 602.37,66.7 602.98,67.48 603.59,66.87 604.2,67.38 604.81,66.7 605.42,66.59 606.03,67.01 606.64,66.42 607.25,66.33 607.86,67.07 608.47,66.51 609.08,66.76 609.69,66.83 610.3,66.09 610.91,66.99 611.52,66.86 612.13,66.75 612.74,66.51 613.35,66.43 613.96,67.08 614.57,66.2 615.18,66.03 615.79,65.96 616.4,66.66 617.01,66.92 617.62,67.13 618.23,66.59 618.84,66.75 619.45,66.74 620.06,66.96 620.67,67.56 621.28,66.83 621.89,66.79 622.5,66.86 623.11,67.26 623.72,66.83 624.33,66.78 624.94,67.15 625.55,66.48 626.16,66.73 626.77,66.67 627.38,66.57 627.99,66.82 628.6,66.75 629.21,66.52 629.82,66.43 630.43,66.38 631.04,66.79 631.65,66.43 632.26,66.28 632.87,67.25 633.48,66.87 634.09,66.73 634.7,66.72 635.31,66.03 635.92,66.27 636.53,66.77 637.14,66.76 637.75,67.25 638.36,67.09 638.97,66.2 639.58,67.37 640.19,66.48 640.8,66.98 641.41,66.83 642.02,66.75 642.63,66.02 643.24,66.58 643.85,66.52 644.46,66.33 645.07,67.56 645.68,66 646.29,67.35 646.9,66.98 647.51,66.45 648.12,67.18 648.73,67.37 649.34,66.27 649.95,66.83 650.56,66.35 651.17,66.52 651.78,66.78 652.39,66.06 653,66.8 653.61,65.94 654.22,67.04 654.83,67.08 655.44,66.97 656.05,66.61 656.66,67.14 657.27,66.97 657.88,66.15 658.49,66.63 659.1,66.26 659.71,66.56 660.32,66.92 660.93,66.99 661.54,66.63 662.15,66.67" fill="none" stroke="#3151ad" stroke-width="2.0" stroke-linejoin="round" clip-path="url(#cB)"/><polyline points="401.68,72.96 402.29,72.97 402.9,71.93 403.51,72.12 404.12,72.46 404.73,72.76 405.34,72.77 405.95,71.54 406.56,72.79 407.17,71.34 407.78,72.75 408.39,73.12 409,71.4 409.61,72.39 410.22,71.58 410.83,72.06 411.44,72.34 412.05,71.75 412.66,72.29 413.27,71.92 413.88,72.14 414.49,72.83 415.1,71.82 415.71,72.19 416.32,71.98 416.93,71.69 417.54,72.45 418.15,71.55 418.76,71.49 419.37,70.88 419.98,71.3 420.59,71.46 421.2,71.83 421.81,71.52 422.42,72.04 423.03,71.25 423.64,71.44 424.25,71.46 424.86,71.25 425.47,71.02 426.08,71.05 426.69,71.55 427.3,70.52 427.91,70.97 428.52,70.79 429.13,70.86 429.74,71.15 430.35,70.64 430.96,70.82 431.57,70.92 432.18,70.5 432.79,70.21 433.4,70.2 434.01,70.28 434.62,70.5 435.23,70.33 435.84,70.19 436.45,70.57 437.06,69.73 437.67,69.91 438.28,70.29 438.89,69.3 439.5,69.09 440.11,70.06 440.72,69.63 441.33,69.76 441.94,69.18 442.55,69.77 443.16,69.11 443.77,69.06 444.38,68.76 444.99,69.57 445.6,69.15 446.21,68.89 446.82,68.46 447.43,68.62 448.04,68.34 448.65,68.33 449.26,68.61 449.87,68.3 450.48,68.28 451.09,68.17 451.7,68.24 452.31,67.7 452.92,67.74 453.53,68.23 454.14,67.47 454.75,67.71 455.36,67.85 455.97,67.08 456.58,67.26 457.19,67.02 457.8,66.94 458.41,66.66 459.02,66.76 459.63,65.78 460.24,65.69 460.85,65.05 461.46,64.61 462.07,64.34 462.68,63.97 463.29,63.3 463.9,62.59 464.51,62.57 465.12,62.13 465.73,61.55 466.34,61.23 466.95,60.37 467.56,60.06 468.17,59.12 468.78,59.07 469.39,58.08 470,58.07 470.61,57.27 471.22,56.87 471.83,56.02 472.44,55.27 473.05,54.31 473.66,53.36 474.27,52.89 474.88,52.31 475.49,51.16 476.1,50.32 476.71,49.5 477.32,48.31 477.93,47.34 478.54,46.81 479.15,45.9 479.76,45.39 480.37,44.08 480.98,42.89 481.59,42.4 482.2,41.16 482.81,40.37 483.42,39.55 484.03,38.72 484.64,38.05 485.25,36.98 485.86,36.14 486.47,35.45 487.08,34.67 487.69,33.53 488.3,32.63 488.91,32.22 489.52,31.06 490.13,30.39 490.74,29.09 491.35,28.85 491.96,28.15 492.57,27.46 493.18,26.34 493.79,26.05 494.4,24.99 495.01,24.56 495.62,23.51 496.23,22.81 496.84,22.27 497.45,22.3 498.06,21.59 498.67,21.26 499.28,19.55 499.89,19.67 500.5,19.08 501.11,18.46 501.72,17.83 502.33,17.54 502.94,16.99 503.55,16.56 504.16,16.41 504.77,15.35 505.38,14.98 505.99,14.97 506.6,14.66 507.21,13.91 507.82,13.49 508.43,13.72 509.04,13.34 509.65,13.31 510.26,12.94 510.87,13.38 511.48,13.17 512.09,12.52 512.7,12.62 513.31,12.53 513.92,12.69 514.53,12.72 515.14,12.98 515.75,13.31 516.36,13.46 516.97,13.98 517.58,13.86 518.19,14.71 518.8,14.95 519.41,15.06 520.02,15.74 520.63,15.9 521.24,16.26 521.85,16.91 522.46,17.7 523.07,17.77 523.68,18.67 524.29,19.6 524.9,19.62 525.51,20.7 526.12,21.34 526.73,22.05 527.34,23.15 527.95,23.68 528.56,24.99 529.17,25.81 529.78,26.57 530.39,26.91 531,28.14 531.61,28.92 532.22,30.15 532.83,30.85 533.44,32.31 534.05,32.81 534.66,33.55 535.27,34.64 535.88,35.8 536.49,36.57 537.1,36.91 537.71,37.57 538.32,38.73 538.93,39.1 539.54,40.5 540.15,40.89 540.76,41.77 541.37,42.45 541.98,43.85 542.59,44.2 543.2,45.29 543.81,46.41 544.42,47.23 545.03,48.07 545.64,48.83 546.25,49.91 546.86,50.72 547.47,51.3 548.08,52.08 548.69,52.69 549.3,53.31 549.91,54.57 550.52,54.85 551.13,55.41 551.74,56.05 552.35,56.88 552.96,57.06 553.57,57.39 554.18,58.32 554.79,58.96 555.4,59.12 556.01,59.75 556.62,60.19 557.23,60.61 557.84,61.17 558.45,61.48 559.06,62.02 559.67,62.65 560.28,62.37 560.89,62.86 561.5,63.26 562.11,63.26 562.72,63.86 563.33,63.86 563.94,64.17 564.55,64.63 565.16,65.04 565.77,64.86 566.38,65.09 566.99,65.08 567.6,65.77 568.21,65.62 568.82,65.61 569.43,65.67 570.04,65.86 570.65,65.88 571.26,66.97 571.87,66.27 572.48,66.48 573.09,66.88 573.7,66.3 574.31,66.55 574.92,66.9 575.53,67.04 576.14,66.42 576.75,67.55 577.36,66.65 577.97,67.07 578.58,66.61 579.19,65.94 579.8,66.29 580.41,66.71 581.02,66.12 581.63,65.97 582.24,66.31 582.85,65.98 583.46,66.61 584.07,66.45 584.68,66.72 585.29,66.84 585.9,66.68 586.51,66.99 587.12,66.73 587.73,65.84 588.34,66.42 588.95,66.76 589.56,66.03 590.17,66.13 590.78,67.1 591.39,66.96 592,66.02 592.61,66.65 593.22,66.62 593.83,66.89 594.44,67.12 595.05,66.25 595.66,67 596.27,66.48 596.88,65.97 597.49,66.48 598.1,66.77 598.71,66.45 599.32,66.47 599.93,66.87 600.54,66.59 601.15,67.16 601.76,67.37 602.37,66.9 602.98,67.37 603.59,66.94 604.2,66.74 604.81,66.62 605.42,65.98 606.03,67.05 606.64,66.87 607.25,66.87 607.86,67.09 608.47,65.91 609.08,67 609.69,66.79 610.3,66.77 610.91,65.76 611.52,66.82 612.13,67 612.74,66.22 613.35,66.96 613.96,67.52 614.57,66.26 615.18,66.34 615.79,67.26 616.4,67.18 617.01,66.72 617.62,67.08 618.23,67.29 618.84,67.17 619.45,66.01 620.06,66.29 620.67,67.12 621.28,66.77 621.89,66.67 622.5,66.84 623.11,66.73 623.72,66.03 624.33,66.96 624.94,67.01 625.55,66.73 626.16,66.98 626.77,66.89 627.38,66.89 627.99,67.11 628.6,66.25 629.21,66.98 629.82,66.2 630.43,67.05 631.04,67.08 631.65,66.62 632.26,66.82 632.87,66.39 633.48,66.46 634.09,65.82 634.7,67.87 635.31,67.13 635.92,66.74 636.53,66.81 637.14,66.74 637.75,65.71 638.36,67.61 638.97,66.46 639.58,66.81 640.19,66.72 640.8,66.3 641.41,66.75 642.02,66.41 642.63,66.22 643.24,66.25 643.85,67.45 644.46,66.98 645.07,67.23 645.68,67.03 646.29,66.8 646.9,65.91 647.51,66.98 648.12,66.84 648.73,66.79 649.34,66.14 649.95,66.95 650.56,66.55 651.17,66.4 651.78,66.5 652.39,67.52 653,67.24 653.61,66.47 654.22,67.43 654.83,66.83 655.44,67.33 656.05,66.58 656.66,66.76 657.27,67.35 657.88,66.84 658.49,67.16 659.1,66.96 659.71,66.26 660.32,66.64 660.93,66.61 661.54,66.15 662.15,66.71" fill="none" stroke="#cf2c26" stroke-width="2.0" stroke-linejoin="round" clip-path="url(#cB)"/><polyline points="401.68,58.54 402.29,59.04 402.9,59.13 403.51,59.49 404.12,59.75 404.73,59.86 405.34,59.83 405.95,59.11 406.56,59.18 407.17,59.82 407.78,58.81 408.39,59.75 409,59.64 409.61,60.13 410.22,59.87 410.83,59.06 411.44,59.28 412.05,59.8 412.66,58.93 413.27,59.56 413.88,59.5 414.49,59.06 415.1,59.35 415.71,59.72 416.32,60.05 416.93,59.01 417.54,60.65 418.15,59.88 418.76,60.39 419.37,59.89 419.98,59.28 420.59,59.8 421.2,59.85 421.81,59.7 422.42,58.87 423.03,59.13 423.64,59.63 424.25,60 424.86,59.92 425.47,59.63 426.08,59.89 426.69,59.86 427.3,60.24 427.91,60.38 428.52,60.3 429.13,59.8 429.74,60.27 430.35,58.98 430.96,59.76 431.57,59.75 432.18,59.66 432.79,60.46 433.4,60.55 434.01,60.25 434.62,60.01 435.23,60.09 435.84,59.77 436.45,59.93 437.06,60.13 437.67,60.19 438.28,60.57 438.89,60.46 439.5,60.94 440.11,61.08 440.72,60.74 441.33,61.69 441.94,60.82 442.55,60.79 443.16,61.66 443.77,61.39 444.38,61.7 444.99,62.19 445.6,61.91 446.21,62 446.82,62 447.43,62.55 448.04,62.58 448.65,63.01 449.26,62.79 449.87,63.37 450.48,63.38 451.09,64.1 451.7,64.17 452.31,64.72 452.92,64.93 453.53,64.68 454.14,65.24 454.75,65.43 455.36,65.44 455.97,66.05 456.58,65.58 457.19,66.49 457.8,66.64 458.41,66.29 459.02,67.51 459.63,67.01 460.24,67.76 460.85,68.19 461.46,69.01 462.07,69.18 462.68,69.93 463.29,69.85 463.9,70.53 464.51,71.04 465.12,71.42 465.73,71.78 466.34,71.99 466.95,72.58 467.56,73.31 468.17,73.83 468.78,74.39 469.39,74.56 470,75.21 470.61,76.17 471.22,76.94 471.83,77.3 472.44,78.14 473.05,78.66 473.66,79.58 474.27,80.27 474.88,81 475.49,81.79 476.1,82.91 476.71,83.59 477.32,84.75 477.93,85.78 478.54,86.38 479.15,87.07 479.76,87.92 480.37,89.12 480.98,90.34 481.59,90.75 482.2,91.71 482.81,92.36 483.42,93.08 484.03,94.21 484.64,95.09 485.25,95.83 485.86,96.72 486.47,97.62 487.08,98.2 487.69,99.25 488.3,100 488.91,100.86 489.52,101.76 490.13,102.32 490.74,103.35 491.35,104.06 491.96,104.63 492.57,105.57 493.18,106.56 493.79,107.06 494.4,107.74 495.01,108.18 495.62,108.61 496.23,109.56 496.84,110.25 497.45,110.52 498.06,111.58 498.67,111.95 499.28,112.49 499.89,113.15 500.5,113.72 501.11,114.17 501.72,114.38 502.33,115.06 502.94,115.77 503.55,116.02 504.16,116.3 504.77,116.53 505.38,117.11 505.99,117.6 506.6,117.69 507.21,118.11 507.82,118.57 508.43,119.01 509.04,119.11 509.65,119.17 510.26,119.8 510.87,120.09 511.48,119.78 512.09,120.29 512.7,120.27 513.31,120.01 513.92,119.93 514.53,119.73 515.14,119.52 515.75,119.21 516.36,119.08 516.97,118.93 517.58,119.04 518.19,117.85 518.8,117.59 519.41,117.24 520.02,116.98 520.63,116.72 521.24,115.97 521.85,115.59 522.46,115.34 523.07,114.28 523.68,114.21 524.29,113.38 524.9,112.28 525.51,112.14 526.12,111.21 526.73,110.27 527.34,109.7 527.95,109.18 528.56,108.14 529.17,107.19 529.78,106.62 530.39,105.13 531,104.49 531.61,103.52 532.22,102.73 532.83,101.82 533.44,101.09 534.05,100.44 534.66,99.11 535.27,98.38 535.88,97.21 536.49,96.96 537.1,95.87 537.71,94.65 538.32,94.61 538.93,93.81 539.54,92.73 540.15,91.64 540.76,91.44 541.37,90.36 541.98,89.56 542.59,88.77 543.2,87.82 543.81,86.61 544.42,85.95 545.03,85.38 545.64,84.38 546.25,83.4 546.86,82.92 547.47,82.01 548.08,81.21 548.69,80.85 549.3,79.32 549.91,79.39 550.52,78.39 551.13,77.82 551.74,77.32 552.35,76.36 552.96,76.05 553.57,75.7 554.18,74.76 554.79,74.39 555.4,74.24 556.01,73.88 556.62,72.92 557.23,72.7 557.84,72.57 558.45,71.74 559.06,71.78 559.67,71.26 560.28,70.95 560.89,70.86 561.5,69.98 562.11,69.09 562.72,69.41 563.33,69.2 563.94,69.1 564.55,68.84 565.16,68.56 565.77,68.3 566.38,68.37 566.99,68.1 567.6,68.01 568.21,67.63 568.82,67.37 569.43,67.19 570.04,67.68 570.65,67.6 571.26,67.08 571.87,67.36 572.48,67.28 573.09,66.96 573.7,66.93 574.31,66.51 574.92,67.43 575.53,66.49 576.14,67.05 576.75,66.58 577.36,67.29 577.97,66.82 578.58,66.99 579.19,66.06 579.8,67.09 580.41,66.29 581.02,67.02 581.63,67.14 582.24,66.6 582.85,66.31 583.46,66.73 584.07,66.48 584.68,66.62 585.29,66.73 585.9,66.18 586.51,66.71 587.12,66.38 587.73,67.15 588.34,66.78 588.95,66.35 589.56,66.88 590.17,67.52 590.78,66.42 591.39,66.48 592,66.81 592.61,66.66 593.22,66.83 593.83,66.55 594.44,66.28 595.05,66.58 595.66,66.73 596.27,66.88 596.88,66.76 597.49,66.89 598.1,66.33 598.71,67.1 599.32,66.92 599.93,66.56 600.54,66.57 601.15,66.6 601.76,66.86 602.37,66.62 602.98,67.24 603.59,67.28 604.2,67.18 604.81,66.55 605.42,66.17 606.03,66.86 606.64,66.91 607.25,66.8 607.86,66 608.47,66.61 609.08,66.65 609.69,66.9 610.3,66.5 610.91,66.19 611.52,66.61 612.13,66.99 612.74,66.18 613.35,66.69 613.96,66.01 614.57,67.09 615.18,66.74 615.79,66.58 616.4,67.35 617.01,66.65 617.62,66.45 618.23,66.73 618.84,66.52 619.45,66.62 620.06,67.01 620.67,66.41 621.28,66.97 621.89,66.8 622.5,66.97 623.11,66.45 623.72,66.87 624.33,66.87 624.94,67.5 625.55,66.8 626.16,66.31 626.77,67.48 627.38,66.55 627.99,66.71 628.6,67.35 629.21,66.85 629.82,66.33 630.43,66.7 631.04,66.56 631.65,66.27 632.26,66.82 632.87,66.36 633.48,67.17 634.09,67.02 634.7,66.14 635.31,66.18 635.92,66.34 636.53,67.26 637.14,66.78 637.75,67.03 638.36,65.96 638.97,67.2 639.58,67.17 640.19,66.91 640.8,66.56 641.41,66.91 642.02,66.8 642.63,66.57 643.24,66.67 643.85,67.4 644.46,67.16 645.07,66.07 645.68,66.67 646.29,66 646.9,66.13 647.51,66.26 648.12,66.66 648.73,66.1 649.34,66.85 649.95,65.83 650.56,66.45 651.17,66.45 651.78,66.82 652.39,66.89 653,66.76 653.61,66.86 654.22,66.99 654.83,67.07 655.44,66.59 656.05,66.21 656.66,65.92 657.27,66.37 657.88,66.7 658.49,66.42 659.1,66.01 659.71,66.6 660.32,66.27 660.93,66.51 661.54,66.6 662.15,66.86" fill="none" stroke="#b0558f" stroke-width="2.0" stroke-linejoin="round" clip-path="url(#cB)"/><polyline points="401.68,58.31 402.29,59.11 402.9,59.22 403.51,58.57 404.12,58.28 404.73,58.33 405.34,58.39 405.95,58.97 406.56,58.9 407.17,58.31 407.78,57.88 408.39,60.17 409,58.33 409.61,58.81 410.22,58.96 410.83,59.29 411.44,59.25 412.05,59.52 412.66,58.86 413.27,59.44 413.88,59.09 414.49,59.69 415.1,58.5 415.71,58.74 416.32,59.57 416.93,58.87 417.54,59.25 418.15,59.47 418.76,59.07 419.37,58.76 419.98,58.49 420.59,59.03 421.2,58.67 421.81,58.89 422.42,58.91 423.03,58.8 423.64,59.76 424.25,59.39 424.86,58.65 425.47,59.8 426.08,59.62 426.69,58.57 427.3,59.72 427.91,59.3 428.52,59.27 429.13,59.51 429.74,59.08 430.35,59.13 430.96,59.74 431.57,58.87 432.18,59.85 432.79,59.76 433.4,59.69 434.01,59.63 434.62,60.15 435.23,59.74 435.84,60.65 436.45,60.14 437.06,60.36 437.67,60.37 438.28,60.25 438.89,60.24 439.5,60.66 440.11,60.51 440.72,61.11 441.33,60.86 441.94,60.56 442.55,61.19 443.16,61.19 443.77,61.23 444.38,61.11 444.99,61.38 445.6,61.67 446.21,62.06 446.82,61.84 447.43,62.88 448.04,62.11 448.65,62.65 449.26,62.51 449.87,62.97 450.48,62.87 451.09,63.7 451.7,64.34 452.31,64.08 452.92,64.47 453.53,64.61 454.14,64.5 454.75,65.25 455.36,65.07 455.97,65.23 456.58,65.41 457.19,66.38 457.8,66.12 458.41,66.58 459.02,66.77 459.63,67.66 460.24,67.99 460.85,68.17 461.46,68.48 462.07,69.17 462.68,70.02 463.29,69.93 463.9,70.87 464.51,71.11 465.12,71.23 465.73,72.04 466.34,72.22 466.95,72.9 467.56,73.58 468.17,73.81 468.78,74.51 469.39,74.6 470,75.19 470.61,75.88 471.22,77.1 471.83,77.21 472.44,78.28 473.05,79.01 473.66,79.88 474.27,80.85 474.88,81.55 475.49,82.26 476.1,83 476.71,84.1 477.32,85.13 477.93,86.15 478.54,87.05 479.15,87.57 479.76,88.68 480.37,89.68 480.98,90.96 481.59,91.86 482.2,92.21 482.81,93.07 483.42,93.81 484.03,94.84 484.64,95.85 485.25,96.91 485.86,97.59 486.47,98.74 487.08,99.06 487.69,99.89 488.3,100.57 488.91,102.11 489.52,102.89 490.13,103.31 490.74,104.19 491.35,105.49 491.96,106 492.57,106.59 493.18,107.43 493.79,107.99 494.4,108.76 495.01,109.57 495.62,110.05 496.23,110.8 496.84,111.18 497.45,112.35 498.06,112.71 498.67,113.41 499.28,113.9 499.89,114.34 500.5,114.84 501.11,115.96 501.72,115.78 502.33,116.4 502.94,116.88 503.55,117.43 504.16,117.67 504.77,118.2 505.38,119.05 505.99,119.19 506.6,119.45 507.21,119.8 507.82,120.12 508.43,120.18 509.04,120.81 509.65,120.97 510.26,121.24 510.87,121.22 511.48,121.25 512.09,121.62 512.7,121.38 513.31,121.55 513.92,121.05 514.53,121.67 515.14,121.01 515.75,120.52 516.36,120.57 516.97,120.42 517.58,120.05 518.19,119.4 518.8,119.27 519.41,118.54 520.02,118.34 520.63,118.02 521.24,117.52 521.85,116.81 522.46,116.16 523.07,115.97 523.68,115.45 524.29,114.81 524.9,113.8 525.51,112.81 526.12,112.57 526.73,111.54 527.34,110.95 527.95,109.83 528.56,109.47 529.17,108.15 529.78,107.66 530.39,106.66 531,105.51 531.61,104.72 532.22,103.78 532.83,102.74 533.44,101.9 534.05,100.72 534.66,99.97 535.27,99.43 535.88,98.39 536.49,97.64 537.1,96.78 537.71,95.5 538.32,95.24 538.93,94.01 539.54,93.16 540.15,92.09 540.76,91.84 541.37,90.94 541.98,90.06 542.59,89.31 543.2,87.95 543.81,86.99 544.42,86.97 545.03,85.65 545.64,84.46 546.25,84.08 546.86,83.19 547.47,82.25 548.08,81.5 548.69,80.8 549.3,80.08 549.91,78.98 550.52,79.2 551.13,78.18 551.74,77.7 552.35,76.82 552.96,76.39 553.57,75.64 554.18,75.21 554.79,74.21 555.4,74.48 556.01,73.83 556.62,73.08 557.23,72.9 557.84,72.36 558.45,72.31 559.06,71.44 559.67,71.25 560.28,70.74 560.89,70.72 561.5,70.32 562.11,70.08 562.72,69.26 563.33,69.71 563.94,69 564.55,68.81 565.16,68.38 565.77,68.4 566.38,68.51 566.99,68.02 567.6,68.35 568.21,67.45 568.82,67.77 569.43,67.9 570.04,67.71 570.65,67.2 571.26,67.99 571.87,66.61 572.48,67.47 573.09,66.55 573.7,67.01 574.31,66.28 574.92,67.43 575.53,66.58 576.14,66.9 576.75,67.08 577.36,66.48 577.97,66.87 578.58,67.04 579.19,66.83 579.8,67.03 580.41,66.81 581.02,66.74 581.63,66.3 582.24,66.76 582.85,67.02 583.46,66.43 584.07,66.86 584.68,67.1 585.29,67.19 585.9,66.04 586.51,66.76 587.12,66.1 587.73,67.1 588.34,67.13 588.95,66.06 589.56,66.82 590.17,66.8 590.78,66.81 591.39,67.12 592,66.33 592.61,67.19 593.22,66.43 593.83,67.14 594.44,65.71 595.05,66.45 595.66,66.3 596.27,67.38 596.88,66.59 597.49,66.97 598.1,67.06 598.71,67.05 599.32,66.4 599.93,66.71 600.54,66.92 601.15,66.96 601.76,66.97 602.37,66.93 602.98,66.83 603.59,67.17 604.2,67.08 604.81,67.59 605.42,66.74 606.03,66.5 606.64,66.92 607.25,66.19 607.86,67.02 608.47,66.71 609.08,66.28 609.69,66.63 610.3,67.03 610.91,66.59 611.52,66.88 612.13,66.29 612.74,66.43 613.35,66.81 613.96,66.52 614.57,66.05 615.18,66.29 615.79,66.39 616.4,66.79 617.01,66.95 617.62,67.01 618.23,66.32 618.84,67.14 619.45,66.56 620.06,66.1 620.67,67.33 621.28,66.58 621.89,67.1 622.5,66.77 623.11,66.52 623.72,67.1 624.33,67.23 624.94,66.88 625.55,66.64 626.16,66.87 626.77,67.09 627.38,66.46 627.99,67.15 628.6,67.28 629.21,66.68 629.82,65.89 630.43,66.91 631.04,66.75 631.65,67.11 632.26,66.95 632.87,67.16 633.48,66.61 634.09,66.98 634.7,67.02 635.31,66.36 635.92,67.28 636.53,66.36 637.14,66.79 637.75,67.07 638.36,66.73 638.97,66.83 639.58,66.6 640.19,66.8 640.8,65.99 641.41,66.31 642.02,66.29 642.63,67.18 643.24,66.85 643.85,66.26 644.46,66.49 645.07,66.71 645.68,66.75 646.29,66.31 646.9,67.45 647.51,67.05 648.12,67.25 648.73,66.27 649.34,67.25 649.95,66.82 650.56,66.19 651.17,66.83 651.78,66.6 652.39,66.7 653,66.45 653.61,65.86 654.22,67.16 654.83,66.73 655.44,66.07 656.05,65.8 656.66,66.79 657.27,66.18 657.88,66.45 658.49,66.47 659.1,67.26 659.71,67.34 660.32,66.66 660.93,66.76 661.54,66.75 662.15,67.16" fill="none" stroke="#68ac3c" stroke-width="2.0" stroke-linejoin="round" clip-path="url(#cB)"/><rect x="400.8" y="1.4" width="260.2" height="130.9" fill="none" stroke="#000" stroke-width="1.5"/><line x1="445.6" y1="132.3" x2="445.6" y2="123.6" stroke="#000" stroke-width="1.5" /><line x1="445.6" y1="1.4" x2="445.6" y2="10.1" stroke="#000" stroke-width="1.5" /><line x1="506.6" y1="132.3" x2="506.6" y2="123.6" stroke="#000" stroke-width="1.5" /><line x1="506.6" y1="1.4" x2="506.6" y2="10.1" stroke="#000" stroke-width="1.5" /><line x1="567.6" y1="132.3" x2="567.6" y2="123.6" stroke="#000" stroke-width="1.5" /><line x1="567.6" y1="1.4" x2="567.6" y2="10.1" stroke="#000" stroke-width="1.5" /><line x1="628.6" y1="132.3" x2="628.6" y2="123.6" stroke="#000" stroke-width="1.5" /><line x1="628.6" y1="1.4" x2="628.6" y2="10.1" stroke="#000" stroke-width="1.5" /><line x1="400.8" y1="109" x2="409.5" y2="109" stroke="#000" stroke-width="1.5" /><line x1="661" y1="109" x2="652.3" y2="109" stroke="#000" stroke-width="1.5" /><line x1="400.8" y1="24.4" x2="409.5" y2="24.4" stroke="#000" stroke-width="1.5" /><line x1="661" y1="24.4" x2="652.3" y2="24.4" stroke="#000" stroke-width="1.5" /><text x="444.6" y="149" text-anchor="middle" fill="#000" stroke="#000" stroke-width="0.2" style="font-size:15px;" >400</text><text x="505.6" y="149" text-anchor="middle" fill="#000" stroke="#000" stroke-width="0.2" style="font-size:15px;" >500</text><text x="566.6" y="149" text-anchor="middle" fill="#000" stroke="#000" stroke-width="0.2" style="font-size:15px;" >600</text><text x="627.6" y="149" text-anchor="middle" fill="#000" stroke="#000" stroke-width="0.2" style="font-size:15px;" >700</text><text x="395.2" y="113.4" text-anchor="end" fill="#000" stroke="#000" stroke-width="0.2" style="font-size:15px;" >-0.05</text><text x="395.2" y="71.1" text-anchor="end" fill="#000" stroke="#000" stroke-width="0.2" style="font-size:15px;" >0.00</text><text x="395.2" y="28.8" text-anchor="end" fill="#000" stroke="#000" stroke-width="0.2" style="font-size:15px;" >0.05</text><text x="532.4" y="166" text-anchor="middle" fill="#000" stroke="#000" stroke-width="0.2" style="font-size:15.1px;" >Wavelength (nm)</text><text x="356.2" y="65.7" text-anchor="middle" fill="#000" stroke="#000" stroke-width="0.2" style="font-size:15.3px;" transform="rotate(-90 356.2 65.7)" >Diff. Abs.</text><text x="413.2" y="24.5" text-anchor="start" fill="#000" stroke="#000" stroke-width="0.2" style="font-size:20.2px;" >B</text><line x1="68.5" y1="298.9" x2="329.8" y2="298.9" stroke="#000" stroke-width="1.5" /><polyline points="70.38,223.87 70.98,224.53 71.59,220.82 72.2,221.04 72.81,227.86 73.42,225.05 74.03,227.1 74.64,232.02 75.25,232.58 75.85,229.74 76.46,229.55 77.07,224.27 77.68,224.35 78.29,227.56 78.9,224.13 79.51,225.66 80.11,230.42 80.72,229.57 81.33,224.57 81.94,225.41 82.55,227.6 83.16,233.06 83.77,235.5 84.38,230.71 84.98,227.59 85.59,225.28 86.2,226.18 86.81,227.2 87.42,228.49 88.03,227.2 88.64,223.18 89.24,224.43 89.85,223.59 90.46,223.62 91.07,226.16 91.68,225.72 92.29,220.47 92.9,222.65 93.51,225.68 94.11,222.98 94.72,222.9 95.33,224.77 95.94,223.56 96.55,219.84 97.16,221.71 97.77,223.74 98.37,223.42 98.98,221.42 99.59,224.35 100.2,223.98 100.81,222.45 101.42,223.74 102.03,224.94 102.64,223.66 103.24,222.48 103.85,223.19 104.46,224.87 105.07,228.64 105.68,226.58 106.29,225.12 106.9,226.55 107.5,226.23 108.11,226.5 108.72,228.86 109.33,232.07 109.94,234.73 110.55,231.97 111.16,228.96 111.77,231.12 112.37,231.51 112.98,231.1 113.59,232.03 114.2,231.16 114.81,233.25 115.42,234.26 116.03,232.55 116.63,233.51 117.24,234.29 117.85,235.62 118.46,236.06 119.07,234.91 119.68,234.85 120.29,236.51 120.9,236.98 121.5,236.66 122.11,237.3 122.72,238.1 123.33,238.66 123.94,239.01 124.55,238.21 125.16,239.14 125.76,240.63 126.37,240.98 126.98,243.36 127.59,243.55 128.2,242.27 128.81,242.66 129.42,243.53 130.03,245.13 130.63,246.04 131.24,247.03 131.85,246.69 132.46,245.41 133.07,247.92 133.68,249.89 134.29,250.72 134.89,251.69 135.5,251.92 136.11,252.96 136.72,253.74 137.33,253.33 137.94,254 138.55,254.73 139.16,255.43 139.76,256.61 140.37,258.09 140.98,258.29 141.59,258.95 142.2,260.51 142.81,261.32 143.42,261.44 144.02,261.97 144.63,262.6 145.24,261.3 145.85,262.11 146.46,265.49 147.07,265.7 147.68,264.73 148.29,265.58 148.89,266.02 149.5,266.24 150.11,266.4 150.72,267.76 151.33,269.78 151.94,270.33 152.55,269.53 153.15,271.22 153.76,272.15 154.37,272.64 154.98,272.55 155.59,270.71 156.2,271.45 156.81,273.55 157.42,274.24 158.02,273.75 158.63,273.84 159.24,274.49 159.85,275.59 160.46,277.9 161.07,279.42 161.68,279.2 162.28,279.85 162.89,282.18 163.5,283.06 164.11,282.98 164.72,283.47 165.33,283.52 165.94,285.35 166.55,286.82 167.15,286.52 167.76,287.44 168.37,288.29 168.98,288.84 169.59,289.94 170.2,289.42 170.81,289.61 171.41,291.05 172.02,290.4 172.63,290.63 173.24,291.99 173.85,292.05 174.46,290.28 175.07,290.09 175.68,291.7 176.28,292.52 176.89,292.69 177.5,291.85 178.11,293.31 178.72,293.89 179.33,292.16 179.94,291.36 180.54,292.38 181.15,292.16 181.76,292.87 182.37,293.79 182.98,293.08 183.59,294.54 184.2,294.32 184.81,294.55 185.41,295.73 186.02,295.03 186.63,295.48 187.24,294.73 187.85,294.32 188.46,295.99 189.07,295.61 189.67,294.88 190.28,295.86 190.89,296.29 191.5,295.07 192.11,294.26 192.72,295.97 193.33,295.95 193.94,294.35 194.54,294.31 195.15,295.34 195.76,296.68 196.37,296.5 196.98,296.5 197.59,296.68 198.2,296.71 198.8,296.8 199.41,296.8 200.02,296.65 200.63,296.28 201.24,296.54 201.85,297.06 202.46,295.89 203.07,294.97 203.67,295.75 204.28,296.99 204.89,296.94 205.5,296.51 206.11,296.56 206.72,296.34 207.33,295.1 207.93,295.27 208.54,297.61 209.15,296.94 209.76,295.54 210.37,295.39 210.98,297.88 211.59,299.39 212.2,298.23 212.8,298.72 213.41,298.11 214.02,296.62 214.63,296.01 215.24,295.86 215.85,296.57 216.46,296.16 217.06,296.03 217.67,298.91 218.28,299.3 218.89,297.97 219.5,297.55 220.11,297.35 220.72,297.8 221.33,296.63 221.93,296.93 222.54,298.75 223.15,298.1 223.76,296.79 224.37,297.03 224.98,297.48 225.59,297.8 226.19,298.68 226.8,298.8 227.41,298.65 228.02,297.34 228.63,296.82 229.24,296.71 229.85,296.64 230.46,298.18 231.06,297.98 231.67,297.25 232.28,296.51 232.89,297.99 233.5,299.15 234.11,297.56 234.72,297.78 235.32,297.98 235.93,297.69 236.54,296.83 237.15,295.81 237.76,298.13 238.37,299.99 238.98,299.16 239.59,298.2 240.19,297.78 240.8,298.09 241.41,297.59 242.02,296.68 242.63,297.03 243.24,297.81 243.85,297.85 244.45,298.21 245.06,297.7 245.67,296.61 246.28,297.78 246.89,297.38 247.5,296.81 248.11,297.23 248.72,297.21 249.32,297.88 249.93,297.42 250.54,297.95 251.15,298.59 251.76,298.75 252.37,298.27 252.98,297.64 253.58,298.19 254.19,298.39 254.8,297.76 255.41,297.25 256.02,297.83 256.63,298.32 257.24,297.01 257.85,295.72 258.45,297.65 259.06,297.85 259.67,296.77 260.28,297.37 260.89,297.44 261.5,298.56 262.11,297.22 262.71,294.97 263.32,296.58 263.93,297.93 264.54,297.87 265.15,298.33 265.76,298.08 266.37,297.67 266.98,298.75 267.58,299.07 268.19,298.8 268.8,298.89 269.41,298.69 270.02,297.9 270.63,297.96 271.24,299.45 271.84,298.24 272.45,297.57 273.06,297.58 273.67,297.04 274.28,297.64 274.89,298.37 275.5,298.67 276.11,298.38 276.71,298.49 277.32,297.93 277.93,298.16 278.54,297.93 279.15,298.62 279.76,299.88 280.37,298.67 280.97,297.63 281.58,297.22 282.19,296.51 282.8,296.92 283.41,297.49 284.02,297.63 284.63,298.03 285.24,298.27 285.84,298.3 286.45,298.61 287.06,298.79 287.67,297.91 288.28,297.49 288.89,297.26 289.5,297.91 290.1,298.91 290.71,298.32 291.32,298.66 291.93,299.54 292.54,298.58 293.15,298.21 293.76,298.06 294.37,297.81 294.97,298.68 295.58,299.43 296.19,298.37 296.8,297.75 297.41,299.13 298.02,300.08 298.63,300.32 299.23,299.62 299.84,298.01 300.45,298.36 301.06,298.99 301.67,298.26 302.28,300.64 302.89,301.63 303.5,298.94 304.1,299.46 304.71,299.27 305.32,297.93 305.93,299.78 306.54,298.58 307.15,297.57 307.76,297.77 308.36,297.56 308.97,299.1 309.58,298.51 310.19,296.85 310.8,296.75 311.41,298.72 312.02,299.16 312.63,299.16 313.23,299.97 313.84,298.32 314.45,298.88 315.06,298.13 315.67,298.22 316.28,300.73 316.89,299.22 317.49,298.51 318.1,299.11 318.71,299.6 319.32,299.03 319.93,298.28 320.54,298.82 321.15,299.52 321.76,300.46 322.36,299.94 322.97,300.4 323.58,300.83 324.19,298.99 324.8,298.11 325.41,298.8 326.02,300.97 326.62,300.34 327.23,298.06 327.84,298.39 328.45,298.14 329.06,297.5 329.67,299.46 330.28,300.29" fill="none" stroke="#b0558f" stroke-width="1.7" stroke-linejoin="round" clip-path="url(#cC)"/><polyline points="70.38,233.59 70.98,229.2 71.59,224.59 72.2,228.93 72.81,230.42 73.42,228.22 74.03,231.88 74.64,234.86 75.25,233.13 75.85,233.77 76.46,234.38 77.07,232.6 77.68,235.16 78.29,238.75 78.9,233.29 79.51,226.41 80.11,223.72 80.72,232.02 81.33,235.7 81.94,233.38 82.55,235.53 83.16,233.95 83.77,231.62 84.38,229.66 84.98,235.99 85.59,238.38 86.2,230.22 86.81,228.37 87.42,234.01 88.03,236.06 88.64,233.94 89.24,229.38 89.85,223.75 90.46,227.75 91.07,229.88 91.68,227.85 92.29,227.32 92.9,226.82 93.51,229.69 94.11,230.13 94.72,228.98 95.33,224.96 95.94,225.1 96.55,226.73 97.16,226.99 97.77,229.26 98.37,227.66 98.98,227.77 99.59,225.25 100.2,222.6 100.81,227.96 101.42,229.61 102.03,225.95 102.64,228.96 103.24,232.16 103.85,228.56 104.46,229.53 105.07,231.07 105.68,230.35 106.29,231.3 106.9,232.89 107.5,233.5 108.11,233 108.72,230.98 109.33,229.97 109.94,232.34 110.55,233.46 111.16,233.1 111.77,235.25 112.37,237.47 112.98,236.99 113.59,237.06 114.2,238.14 114.81,237.05 115.42,236.18 116.03,235.8 116.63,235.85 117.24,237.82 117.85,237.68 118.46,237.34 119.07,238.43 119.68,238.74 120.29,237.84 120.9,239.2 121.5,239.64 122.11,239.91 122.72,240.74 123.33,241.11 123.94,242.56 124.55,242.78 125.16,243.81 125.76,245.66 126.37,245.35 126.98,244.87 127.59,246.11 128.2,245.01 128.81,244.52 129.42,246.94 130.03,247.41 130.63,247.13 131.24,248.3 131.85,249.4 132.46,250.98 133.07,251.3 133.68,249.48 134.29,249.55 134.89,250.79 135.5,252.64 136.11,254.77 136.72,254.53 137.33,254.36 137.94,255.82 138.55,256.97 139.16,257 139.76,257.15 140.37,258.84 140.98,260.07 141.59,261.6 142.2,263.02 142.81,262.25 143.42,262.47 144.02,264.1 144.63,264.29 145.24,263.55 145.85,264.93 146.46,266.62 147.07,266.87 147.68,265.67 148.29,265.44 148.89,267.46 149.5,269.65 150.11,269.9 150.72,269.14 151.33,270.31 151.94,271.71 152.55,272.4 153.15,273.51 153.76,274 154.37,273.75 154.98,274.64 155.59,275.11 156.2,276.14 156.81,275.79 157.42,275.49 158.02,277.67 158.63,277.75 159.24,277.31 159.85,278.86 160.46,280.83 161.07,281.28 161.68,280.85 162.28,281.12 162.89,281.56 163.5,282.16 164.11,284.47 164.72,285.69 165.33,286.69 165.94,286.88 166.55,286.13 167.15,286.89 167.76,287.86 168.37,289.21 168.98,290.28 169.59,292.76 170.2,293.14 170.81,290.19 171.41,289.72 172.02,291.99 172.63,293 173.24,292.89 173.85,293.76 174.46,294.3 175.07,293.9 175.68,294.41 176.28,294.51 176.89,293.53 177.5,293.42 178.11,294.18 178.72,294.97 179.33,294.79 179.94,295.14 180.54,296.13 181.15,295.05 181.76,294.98 182.37,296.79 182.98,296.08 183.59,294.81 184.2,294.72 184.81,295.34 185.41,295.4 186.02,295.51 186.63,297 187.24,297.11 187.85,296.37 188.46,297.05 189.07,297.42 189.67,296.63 190.28,296.87 190.89,297.06 191.5,296.89 192.11,297.55 192.72,297.39 193.33,296.57 193.94,298.18 194.54,299.07 195.15,297.31 195.76,296.65 196.37,298.49 196.98,298.7 197.59,296.62 198.2,296.27 198.8,296.75 199.41,297.45 200.02,297.96 200.63,298.7 201.24,298.8 201.85,296.6 202.46,296.68 203.07,298.83 203.67,298.52 204.28,299.29 204.89,298.19 205.5,296.5 206.11,298.18 206.72,298.86 207.33,299.3 207.93,299.01 208.54,298.42 209.15,299.52 209.76,298.92 210.37,298.15 210.98,299.53 211.59,298.7 212.2,297.52 212.8,298.51 213.41,299.43 214.02,298.36 214.63,298.21 215.24,298.8 215.85,297.66 216.46,298.59 217.06,300.47 217.67,300.24 218.28,299.64 218.89,299.08 219.5,298.07 220.11,298.38 220.72,297.92 221.33,297.51 221.93,299.9 222.54,300.07 223.15,298.32 223.76,297.59 224.37,298.53 224.98,299.31 225.59,297.41 226.19,297.25 226.8,299.3 227.41,300.4 228.02,300.09 228.63,298.86 229.24,299.3 229.85,298.67 230.46,298.44 231.06,300.57 231.67,299.67 232.28,298.41 232.89,298.99 233.5,298.19 234.11,298.44 234.72,298.82 235.32,298.78 235.93,298.18 236.54,297.84 237.15,298.9 237.76,298.52 238.37,298.6 238.98,298.7 239.59,298.81 240.19,298.71 240.8,298.52 241.41,299.29 242.02,298.97 242.63,298.32 243.24,299.39 243.85,299.9 244.45,300.3 245.06,300.05 245.67,298.43 246.28,296.93 246.89,297.3 247.5,298.2 248.11,297.44 248.72,297.65 249.32,299.83 249.93,300.61 250.54,299.19 251.15,298.7 251.76,298.85 252.37,299.64 252.98,300.94 253.58,300.12 254.19,298.17 254.8,298.73 255.41,299.13 256.02,299.18 256.63,299.64 257.24,299.68 257.85,299.06 258.45,299.29 259.06,299.74 259.67,298.56 260.28,298.68 260.89,300.07 261.5,299.82 262.11,299.15 262.71,300.24 263.32,300.25 263.93,299.62 264.54,299.12 265.15,299.25 265.76,299.59 266.37,298.9 266.98,300.2 267.58,299.97 268.19,298.74 268.8,300.02 269.41,299.96 270.02,298.66 270.63,299.19 271.24,300.23 271.84,298.91 272.45,297.55 273.06,297.16 273.67,298.16 274.28,300.06 274.89,300.71 275.5,300.32 276.11,300.35 276.71,299.87 277.32,298.42 277.93,299.4 278.54,299.27 279.15,299.17 279.76,300.58 280.37,300.9 280.97,299.99 281.58,299.16 282.19,299.63 282.8,301.45 283.41,301.86 284.02,299.8 284.63,301.21 285.24,300.15 285.84,298.17 286.45,298.74 287.06,299.15 287.67,299.27 288.28,298.25 288.89,297.19 289.5,298.69 290.1,299 290.71,299.03 291.32,300.27 291.93,299.83 292.54,300.05 293.15,301.05 293.76,301.13 294.37,300.66 294.97,300.61 295.58,299.67 296.19,299.51 296.8,299.75 297.41,298.9 298.02,298.62 298.63,299.14 299.23,298.49 299.84,298.93 300.45,299.73 301.06,299.27 301.67,299.52 302.28,299.15 302.89,299.39 303.5,300.35 304.1,300.04 304.71,300.12 305.32,300.04 305.93,300.16 306.54,301.7 307.15,300.65 307.76,299.41 308.36,299.69 308.97,300.11 309.58,300.22 310.19,300.37 310.8,299.82 311.41,299.08 312.02,300.32 312.63,302.1 313.23,303.3 313.84,301.79 314.45,300.74 315.06,300.84 315.67,300.78 316.28,299.77 316.89,299.71 317.49,300.6 318.1,300.84 318.71,301.28 319.32,300.57 319.93,300.16 320.54,300.65 321.15,300.2 321.76,299.92 322.36,299.61 322.97,299.17 323.58,300.53 324.19,301.52 324.8,300.07 325.41,299.82 326.02,300.04 326.62,300.37 327.23,302.36 327.84,303.22 328.45,302.1 329.06,300.96 329.67,298.99 330.28,298.23" fill="none" stroke="#68ac3c" stroke-width="1.7" stroke-linejoin="round" clip-path="url(#cC)"/><polyline points="70.38,234.77 70.98,232.16 71.59,239.05 72.2,241.71 72.81,237.67 73.42,232.6 74.03,234.64 74.64,244.45 75.25,242.66 75.85,239.6 76.46,239.94 77.07,239.23 77.68,239.47 78.29,242.09 78.9,243.95 79.51,236.84 80.11,237.62 80.72,242.32 81.33,243.4 81.94,248.82 82.55,244.31 83.16,239.81 83.77,238.8 84.38,236.78 84.98,239.11 85.59,242.97 86.2,239.08 86.81,237.13 87.42,236.49 88.03,234.96 88.64,237.33 89.24,237.3 89.85,238.01 90.46,239.46 91.07,235.57 91.68,236.77 92.29,244.02 92.9,241.6 93.51,239.88 94.11,238.58 94.72,237.71 95.33,237.39 95.94,236.98 96.55,240.52 97.16,241.38 97.77,239.06 98.37,239.75 98.98,242.45 99.59,241.95 100.2,240.36 100.81,238.43 101.42,238.53 102.03,239.37 102.64,240.54 103.24,239.36 103.85,236.24 104.46,240.04 105.07,242.94 105.68,242.41 106.29,242.49 106.9,242.92 107.5,244.39 108.11,245.78 108.72,245.67 109.33,244.2 109.94,242.52 110.55,242.07 111.16,243.93 111.77,245.48 112.37,246.83 112.98,245.51 113.59,243.98 114.2,244.27 114.81,243.81 115.42,244.1 116.03,245.17 116.63,246.2 117.24,247.26 117.85,247.77 118.46,246.67 119.07,244.32 119.68,245.29 120.29,247.22 120.9,244.4 121.5,244.71 122.11,247.7 122.72,247.85 123.33,247.83 123.94,249.32 124.55,248.49 125.16,248.34 125.76,249.27 126.37,248.23 126.98,247.45 127.59,247.21 128.2,247.71 128.81,248.02 129.42,247.42 130.03,246.96 130.63,247.43 131.24,247.92 131.85,247.85 132.46,246.7 133.07,246.89 133.68,246.62 134.29,245.23 134.89,244.23 135.5,244.34 136.11,245.29 136.72,244.43 137.33,243.52 137.94,244.55 138.55,242.91 139.16,240.41 139.76,240.41 140.37,240.39 140.98,239.57 141.59,238.56 142.2,237.13 142.81,235.89 143.42,235.41 144.02,236.09 144.63,237.03 145.24,235.98 145.85,235.27 146.46,233.41 147.07,232.19 147.68,233.28 148.29,233 148.89,230.37 149.5,229.55 150.11,229.39 150.72,229.27 151.33,228.92 151.94,226.74 152.55,225.33 153.15,224.01 153.76,222.42 154.37,220.52 154.98,220.78 155.59,220.46 156.2,217.93 156.81,216.94 157.42,215.84 158.02,215.32 158.63,215.64 159.24,215.43 159.85,213.96 160.46,213.69 161.07,214.04 161.68,212.77 162.28,211.66 162.89,211.42 163.5,212.06 164.11,211.15 164.72,210.95 165.33,211.48 165.94,211.72 166.55,210.82 167.15,209.12 167.76,210.02 168.37,209.9 168.98,208.06 169.59,207.98 170.2,209.07 170.81,208.38 171.41,206.63 172.02,207.54 172.63,207.21 173.24,205.95 173.85,205.87 174.46,206.51 175.07,206.56 175.68,205.79 176.28,206.03 176.89,206.35 177.5,206.4 178.11,206.77 178.72,207.91 179.33,208.72 179.94,209.72 180.54,209.32 181.15,208.87 181.76,209.36 182.37,209.73 182.98,209.9 183.59,210.18 184.2,211.33 184.81,211.48 185.41,210.4 186.02,212.18 186.63,214.62 187.24,214.57 187.85,215.68 188.46,216.36 189.07,217.34 189.67,219.8 190.28,221.01 190.89,220.58 191.5,222.27 192.11,223.85 192.72,224.89 193.33,225.44 193.94,224.74 194.54,225.74 195.15,225.59 195.76,227.07 196.37,228.76 196.98,229.47 197.59,230.75 198.2,232.92 198.8,234.26 199.41,235.43 200.02,236.71 200.63,237.45 201.24,239.92 201.85,241.69 202.46,242.91 203.07,244.63 203.67,244.68 204.28,246.75 204.89,250.71 205.5,252.35 206.11,252.92 206.72,253.37 207.33,254.03 207.93,254.62 208.54,256.16 209.15,257.96 209.76,259.99 210.37,260.71 210.98,260.49 211.59,262.48 212.2,264.18 212.8,265.78 213.41,267.51 214.02,268.29 214.63,268.96 215.24,271.2 215.85,272.95 216.46,272.65 217.06,273.68 217.67,275.01 218.28,278.02 218.89,280.15 219.5,279.91 220.11,280.91 220.72,283.16 221.33,282.95 221.93,282.19 222.54,285.02 223.15,286.34 223.76,285.86 224.37,285.69 224.98,286.02 225.59,288 226.19,289.54 226.8,289.38 227.41,288.94 228.02,289.96 228.63,291.58 229.24,291.47 229.85,291.5 230.46,291.49 231.06,291.76 231.67,292.46 232.28,294.5 232.89,296.45 233.5,296.56 234.11,296.49 234.72,295.6 235.32,295.64 235.93,295.81 236.54,296.38 237.15,296.3 237.76,295.47 238.37,297.43 238.98,298.87 239.59,298.32 240.19,297.25 240.8,296.49 241.41,296 242.02,297.62 242.63,298.76 243.24,297.89 243.85,298.3 244.45,298.46 245.06,299.71 245.67,299.49 246.28,298.46 246.89,299.52 247.5,298.37 248.11,298.04 248.72,298.86 249.32,298.89 249.93,300.1 250.54,299.98 251.15,298.79 251.76,299.18 252.37,299.08 252.98,297.33 253.58,296.9 254.19,298.24 254.8,299.56 255.41,298.77 256.02,299.17 256.63,300.47 257.24,298.43 257.85,297.49 258.45,298.3 259.06,298.74 259.67,297.19 260.28,294.94 260.89,296.89 261.5,298.39 262.11,298.47 262.71,298.71 263.32,297.63 263.93,297.08 264.54,298.11 265.15,298.69 265.76,296.65 266.37,296.27 266.98,297.19 267.58,297.44 268.19,298.45 268.8,299.55 269.41,300.13 270.02,300.51 270.63,300.59 271.24,300.07 271.84,298.86 272.45,299.38 273.06,299.59 273.67,299.79 274.28,298.35 274.89,297.43 275.5,299.05 276.11,297.51 276.71,297.73 277.32,298.83 277.93,298.61 278.54,298.3 279.15,298.73 279.76,297.94 280.37,296.85 280.97,297.91 281.58,297.86 282.19,298.02 282.8,299.18 283.41,299.19 284.02,298.52 284.63,299.48 285.24,300.01 285.84,298.68 286.45,299.2 287.06,299.28 287.67,299.29 288.28,299.38 288.89,298.7 289.5,298.6 290.1,299.04 290.71,300.59 291.32,301.83 291.93,298.04 292.54,297.29 293.15,300.36 293.76,300.49 294.37,298.99 294.97,297.4 295.58,297.76 296.19,299 296.8,298.89 297.41,298.64 298.02,298.49 298.63,298.04 299.23,300.41 299.84,300.43 300.45,299.48 301.06,297.79 301.67,298.1 302.28,299.92 302.89,299.23 303.5,299.59 304.1,299.9 304.71,299.37 305.32,298.65 305.93,298.91 306.54,299.32 307.15,299.04 307.76,299.5 308.36,299.66 308.97,299 309.58,298.16 310.19,297.73 310.8,298.08 311.41,297.92 312.02,298.78 312.63,298.64 313.23,298.37 313.84,299.22 314.45,299.25 315.06,298.72 315.67,298.87 316.28,298.92 316.89,298.73 317.49,299.46 318.1,298.97 318.71,299.2 319.32,298.68 319.93,298.59 320.54,299.7 321.15,298.43 321.76,299.1 322.36,299.3 322.97,298.28 323.58,298.82 324.19,298.73 324.8,299.4 325.41,298.44 326.02,297.48 326.62,298.14 327.23,297.96 327.84,297.75 328.45,298.09 329.06,299.35 329.67,300.42 330.28,300.7" fill="none" stroke="#3151ad" stroke-width="1.7" stroke-linejoin="round" clip-path="url(#cC)"/><polyline points="70.38,242.12 70.98,238.78 71.59,242.02 72.2,247 72.81,240.6 73.42,240.9 74.03,244.19 74.64,247.01 75.25,245.93 75.85,244.72 76.46,247.95 77.07,247.74 77.68,244.71 78.29,240.78 78.9,245.92 79.51,247.71 80.11,247.82 80.72,255.09 81.33,253.86 81.94,248.28 82.55,246.55 83.16,245.66 83.77,251.17 84.38,248.2 84.98,240.24 85.59,242.13 86.2,248.49 86.81,248.81 87.42,245.7 88.03,247.9 88.64,246.33 89.24,248.87 89.85,245.95 90.46,239.34 91.07,239.88 91.68,238.85 92.29,244.6 92.9,248.37 93.51,245.13 94.11,247.15 94.72,244.52 95.33,236.25 95.94,240.37 96.55,244.63 97.16,242.35 97.77,243.32 98.37,243.39 98.98,242.48 99.59,244.07 100.2,246.31 100.81,242.13 101.42,241.56 102.03,244.81 102.64,248.13 103.24,247.39 103.85,243.39 104.46,243.9 105.07,242.45 105.68,246.33 106.29,247.54 106.9,247.05 107.5,250.17 108.11,250.75 108.72,247.95 109.33,245.27 109.94,247.22 110.55,247.07 111.16,249.48 111.77,250.41 112.37,247.36 112.98,247.43 113.59,247.86 114.2,249.21 114.81,249 115.42,247.53 116.03,247.6 116.63,245.55 117.24,245.89 117.85,248.49 118.46,248.27 119.07,248.94 119.68,247.72 120.29,246.67 120.9,248.43 121.5,248 122.11,249.27 122.72,249.74 123.33,248.73 123.94,246.68 124.55,245.13 125.16,245.34 125.76,246.44 126.37,247.72 126.98,246.69 127.59,247.18 128.2,248.56 128.81,246.55 129.42,245.23 130.03,245.84 130.63,247.31 131.24,247.76 131.85,246.51 132.46,246.43 133.07,245.5 133.68,245.33 134.29,246.14 134.89,243.48 135.5,241.74 136.11,243.58 136.72,241.75 137.33,239.9 137.94,240.64 138.55,242.5 139.16,240.88 139.76,237.87 140.37,237.3 140.98,235.33 141.59,236.57 142.2,235.74 142.81,233.4 143.42,234.11 144.02,235.93 144.63,233.86 145.24,231.2 145.85,231.65 146.46,232.21 147.07,231.56 147.68,229.48 148.29,228.02 148.89,228.36 149.5,230.33 150.11,229.08 150.72,227.06 151.33,225.19 151.94,223.3 152.55,222.06 153.15,219.65 153.76,217.22 154.37,216.95 154.98,218.36 155.59,217.33 156.2,215.24 156.81,214.36 157.42,213.45 158.02,212.59 158.63,213.44 159.24,212.28 159.85,209.51 160.46,209.06 161.07,208.98 161.68,208.02 162.28,208.77 162.89,209.11 163.5,206.92 164.11,206.8 164.72,206.94 165.33,205.44 165.94,205.16 166.55,206.28 167.15,206.16 167.76,204.81 168.37,204.86 168.98,204.75 169.59,203.86 170.2,203.45 170.81,202.2 171.41,201.37 172.02,201.66 172.63,201.87 173.24,201.2 173.85,201.92 174.46,202.42 175.07,202.76 175.68,202.03 176.28,201.2 176.89,203.32 177.5,203.97 178.11,202.61 178.72,202.26 179.33,204.39 179.94,203.55 180.54,202.42 181.15,203.84 181.76,204.66 182.37,206.02 182.98,207.43 183.59,207.21 184.2,206.65 184.81,207.61 185.41,207.71 186.02,208.04 186.63,210.26 187.24,211.74 187.85,211.07 188.46,212.85 189.07,213.14 189.67,213.58 190.28,214.33 190.89,214.65 191.5,218.93 192.11,219.97 192.72,219.69 193.33,221.38 193.94,222.41 194.54,223.06 195.15,226.66 195.76,227.23 196.37,226.09 196.98,227.85 197.59,228.38 198.2,229.78 198.8,232.74 199.41,233.64 200.02,234.54 200.63,236.62 201.24,238.57 201.85,240.5 202.46,242.31 203.07,242.53 203.67,244.1 204.28,246.03 204.89,248.09 205.5,250.02 206.11,250.15 206.72,250.93 207.33,251.86 207.93,252.19 208.54,251.42 209.15,254.92 209.76,257.98 210.37,259.63 210.98,262.24 211.59,262.89 212.2,262.77 212.8,263.54 213.41,265.68 214.02,266.62 214.63,268.68 215.24,271.53 215.85,271.95 216.46,273.93 217.06,274.07 217.67,274 218.28,276.5 218.89,277.23 219.5,279.14 220.11,280.66 220.72,281.98 221.33,283.01 221.93,282.54 222.54,282.08 223.15,283.03 223.76,284.04 224.37,284.84 224.98,287.91 225.59,288.04 226.19,287.43 226.8,289.13 227.41,289.11 228.02,290.09 228.63,291.71 229.24,290.9 229.85,290.5 230.46,292.08 231.06,293.01 231.67,292.92 232.28,293.13 232.89,293.8 233.5,296.33 234.11,296.82 234.72,294.34 235.32,295.02 235.93,296.63 236.54,295.6 237.15,295.86 237.76,297.56 238.37,297.61 238.98,297.12 239.59,297.95 240.19,298.09 240.8,298.64 241.41,299.88 242.02,299.81 242.63,298.86 243.24,298.08 243.85,298.5 244.45,297.73 245.06,296.87 245.67,297.74 246.28,297.37 246.89,296.31 247.5,296.68 248.11,298.32 248.72,298.24 249.32,296.92 249.93,297.29 250.54,298.33 251.15,298.47 251.76,298.16 252.37,299.82 252.98,298.88 253.58,297.45 254.19,297.16 254.8,297.16 255.41,299.35 256.02,298.78 256.63,298.1 257.24,298.06 257.85,298.48 258.45,299.53 259.06,299.73 259.67,299.92 260.28,299.07 260.89,299.52 261.5,299.72 262.11,297.89 262.71,298.78 263.32,299.8 263.93,299.66 264.54,299.79 265.15,299.08 265.76,298.25 266.37,297.68 266.98,298.73 267.58,298.9 268.19,298.86 268.8,300.29 269.41,300.56 270.02,301.18 270.63,300.4 271.24,300.33 271.84,300.21 272.45,296.73 273.06,297.6 273.67,301.28 274.28,300.27 274.89,299.46 275.5,299.78 276.11,298.97 276.71,298.76 277.32,296.97 277.93,296.9 278.54,298.47 279.15,298.79 279.76,299.55 280.37,299.96 280.97,300.21 281.58,299.05 282.19,298.34 282.8,298.49 283.41,298.11 284.02,296.88 284.63,297.2 285.24,298.45 285.84,298.85 286.45,298.42 287.06,298.1 287.67,298.96 288.28,299.87 288.89,299.46 289.5,297.09 290.1,296.46 290.71,298.6 291.32,298.96 291.93,298.66 292.54,300.63 293.15,301.05 293.76,298.79 294.37,298.06 294.97,299.98 295.58,299.46 296.19,298.26 296.8,298.77 297.41,298.65 298.02,298.7 298.63,298.12 299.23,297.22 299.84,298.24 300.45,298.56 301.06,297.81 301.67,298.18 302.28,298.48 302.89,298.49 303.5,299.16 304.1,300.56 304.71,301.29 305.32,300.6 305.93,299.6 306.54,296.77 307.15,297.55 307.76,299.95 308.36,300.23 308.97,300.2 309.58,299.38 310.19,298.54 310.8,299.45 311.41,299.6 312.02,298.33 312.63,298.95 313.23,300.12 313.84,300.71 314.45,299.9 315.06,298.63 315.67,298.56 316.28,299.59 316.89,299.29 317.49,299.52 318.1,299.12 318.71,296 319.32,297.07 319.93,298.55 320.54,298.85 321.15,299.6 321.76,298.41 322.36,297.53 322.97,297.92 323.58,297.81 324.19,298.82 324.8,300.04 325.41,299.06 326.02,298.82 326.62,298.91 327.23,297.53 327.84,297.73 328.45,298.38 329.06,297.75 329.67,296.93 330.28,297.43" fill="none" stroke="#cf2c26" stroke-width="1.7" stroke-linejoin="round" clip-path="url(#cC)"/><polyline points="70.38,225.7 70.98,223.82 71.59,237.96 72.2,238.74 72.81,224.31 73.42,220.85 74.03,228.32 74.64,234.39 75.25,227.08 75.85,230.4 76.46,237.2 77.07,231.91 77.68,227.43 78.29,225.35 78.9,224.25 79.51,227.92 80.11,234.63 80.72,237.25 81.33,234.21 81.94,231.27 82.55,231.15 83.16,229.97 83.77,232.23 84.38,235.58 84.98,236.96 85.59,230.27 86.2,227.19 86.81,229.86 87.42,226.09 88.03,227.65 88.64,231.25 89.24,233.28 89.85,233.34 90.46,236.2 91.07,236.7 91.68,230.67 92.29,228.68 92.9,228.5 93.51,227.35 94.11,227.65 94.72,229.21 95.33,230.4 95.94,228.77 96.55,230.09 97.16,234.97 97.77,232.69 98.37,230.14 98.98,229.97 99.59,231.65 100.2,237.23 100.81,236.6 101.42,235.03 102.03,236.81 102.64,233.21 103.24,231.38 103.85,236.46 104.46,239.94 105.07,238.35 105.68,234.98 106.29,234.62 106.9,233.95 107.5,234.14 108.11,235.45 108.72,239.02 109.33,237.99 109.94,236.2 110.55,236.91 111.16,238.52 111.77,241.21 112.37,237.68 112.98,238.34 113.59,239.87 114.2,239 114.81,237.29 115.42,236.65 116.03,237.52 116.63,238.36 117.24,242.16 117.85,240.18 118.46,239.37 119.07,241.99 119.68,241.91 120.29,244.11 120.9,243.88 121.5,243.26 122.11,246.27 122.72,247.89 123.33,248.93 123.94,248.83 124.55,247.53 125.16,248.27 125.76,248.7 126.37,248.74 126.98,248.83 127.59,249.07 128.2,250.13 128.81,251.27 129.42,252.55 130.03,253.1 130.63,252.34 131.24,252.47 131.85,252.06 132.46,251.48 133.07,254.14 133.68,254.86 134.29,253.23 134.89,254.5 135.5,254.91 136.11,255.36 136.72,255.46 137.33,254.83 137.94,256.63 138.55,258.74 139.16,259.02 139.76,258.69 140.37,258.72 140.98,259.24 141.59,259.6 142.2,259.76 142.81,260.17 143.42,259.68 144.02,260.56 144.63,261.4 145.24,261.28 145.85,263.04 146.46,264.05 147.07,263.73 147.68,263.55 148.29,264.49 148.89,265.57 149.5,267.33 150.11,267.66 150.72,266.51 151.33,267.7 151.94,267.82 152.55,269.6 153.15,270.96 153.76,270.4 154.37,270.96 154.98,271.95 155.59,271.49 156.2,271.62 156.81,273.16 157.42,273.78 158.02,273.22 158.63,272.48 159.24,273.38 159.85,275.19 160.46,277.86 161.07,279.46 161.68,279.9 162.28,280.96 162.89,280.03 163.5,280.51 164.11,281.1 164.72,281.26 165.33,283.17 165.94,284.14 166.55,285.88 167.15,286.75 167.76,285.66 168.37,285.47 168.98,286.66 169.59,287.27 170.2,287.83 170.81,288.55 171.41,287.23 172.02,287.81 172.63,291.37 173.24,293.4 173.85,292.83 174.46,291.17 175.07,289.96 175.68,290.26 176.28,291.03 176.89,290.62 177.5,291.57 178.11,292.16 178.72,291.19 179.33,291.53 179.94,292.5 180.54,291.83 181.15,290.37 181.76,290.78 182.37,293.54 182.98,294.27 183.59,292.82 184.2,291.91 184.81,292.02 185.41,292.76 186.02,291.69 186.63,290.43 187.24,291.21 187.85,293.15 188.46,294.25 189.07,292.98 189.67,292.72 190.28,293.34 190.89,292.98 191.5,292.94 192.11,292.63 192.72,293.65 193.33,294.53 193.94,293.68 194.54,293.26 195.15,294.57 195.76,293.19 196.37,293.33 196.98,294.12 197.59,294.4 198.2,294.57 198.8,294.78 199.41,294.92 200.02,293.49 200.63,293.68 201.24,294.49 201.85,295 202.46,294.3 203.07,294.46 203.67,295.16 204.28,294.3 204.89,295.35 205.5,297.68 206.11,297.46 206.72,295.19 207.33,294.78 207.93,296.51 208.54,296.42 209.15,296.13 209.76,295.79 210.37,295.95 210.98,296.96 211.59,296.27 212.2,295.1 212.8,294.26 213.41,293.95 214.02,295.22 214.63,296.69 215.24,296.57 215.85,294.99 216.46,293.76 217.06,293.93 217.67,294.63 218.28,294.48 218.89,293.84 219.5,293.42 220.11,294.67 220.72,296.72 221.33,295.49 221.93,294.29 222.54,296.21 223.15,297.43 223.76,298.2 224.37,296.88 224.98,295.63 225.59,295.61 226.19,294.53 226.8,295.27 227.41,296 228.02,295.95 228.63,296.88 229.24,298.23 229.85,298.18 230.46,295.58 231.06,295.38 231.67,296.01 232.28,295.52 232.89,294.18 233.5,293.13 234.11,295.25 234.72,296.76 235.32,295.37 235.93,294.85 236.54,295.68 237.15,294.96 237.76,294.62 238.37,295.44 238.98,293.51 239.59,293.33 240.19,296.8 240.8,296.88 241.41,295.64 242.02,294.6 242.63,294.57 243.24,296.43 243.85,296.43 244.45,296.93 245.06,297.54 245.67,296.33 246.28,296.75 246.89,298.66 247.5,298.84 248.11,297.93 248.72,296.7 249.32,296.48 249.93,297.02 250.54,297.43 251.15,297.36 251.76,297.15 252.37,296.8 252.98,296.16 253.58,295.5 254.19,295.26 254.8,296.69 255.41,297.87 256.02,297.48 256.63,296.26 257.24,295.23 257.85,296.28 258.45,298.57 259.06,299.6 259.67,299.38 260.28,298.13 260.89,297.6 261.5,297.72 262.11,297.57 262.71,297.09 263.32,298.4 263.93,298.65 264.54,297.49 265.15,297.69 265.76,297.92 266.37,299.26 266.98,298.57 267.58,297.5 268.19,297.98 268.8,297.38 269.41,297.27 270.02,297.2 270.63,296.91 271.24,297.97 271.84,299.22 272.45,297.87 273.06,297.59 273.67,296.55 274.28,296.82 274.89,298.4 275.5,297.61 276.11,297.54 276.71,298.24 277.32,298.2 277.93,295.93 278.54,296.63 279.15,299.93 279.76,299.01 280.37,296.97 280.97,296.97 281.58,297.94 282.19,298.15 282.8,296.84 283.41,297.55 284.02,298.22 284.63,297.45 285.24,296.92 285.84,297.51 286.45,297.95 287.06,296.23 287.67,294.81 288.28,297.2 288.89,297.09 289.5,296.58 290.1,297.46 290.71,298.14 291.32,299.13 291.93,298.69 292.54,297.91 293.15,297.26 293.76,297.57 294.37,297.43 294.97,297.63 295.58,297.23 296.19,297.31 296.8,298.1 297.41,298.7 298.02,299.35 298.63,299.28 299.23,298.31 299.84,297.11 300.45,297.5 301.06,296.75 301.67,295.69 302.28,297.22 302.89,297.93 303.5,297.99 304.1,299.69 304.71,299.05 305.32,297.46 305.93,299.41 306.54,298.9 307.15,298.05 307.76,298.92 308.36,299.83 308.97,299.68 309.58,298.03 310.19,298.34 310.8,298.68 311.41,299.83 312.02,299.43 312.63,298 313.23,298.45 313.84,297.9 314.45,297.07 315.06,297.66 315.67,297.77 316.28,296.28 316.89,297.84 317.49,299.21 318.1,299.63 318.71,299.44 319.32,297.11 319.93,297.49 320.54,299.46 321.15,299.78 321.76,298.57 322.36,299.32 322.97,300.74 323.58,299.22 324.19,299.18 324.8,299.49 325.41,299.26 326.02,300.57 326.62,299.11 327.23,296.97 327.84,298.22 328.45,297.29 329.06,296.55 329.67,297.93 330.28,297.91" fill="none" stroke="#000" stroke-width="1.7" stroke-linejoin="round" clip-path="url(#cC)"/><rect x="68.5" y="182.1" width="261.3" height="130.6" fill="none" stroke="#000" stroke-width="1.5"/><line x1="114.2" y1="312.7" x2="114.2" y2="304" stroke="#000" stroke-width="1.5" /><line x1="114.2" y1="182.1" x2="114.2" y2="190.8" stroke="#000" stroke-width="1.5" /><line x1="175.07" y1="312.7" x2="175.07" y2="304" stroke="#000" stroke-width="1.5" /><line x1="175.07" y1="182.1" x2="175.07" y2="190.8" stroke="#000" stroke-width="1.5" /><line x1="235.93" y1="312.7" x2="235.93" y2="304" stroke="#000" stroke-width="1.5" /><line x1="235.93" y1="182.1" x2="235.93" y2="190.8" stroke="#000" stroke-width="1.5" /><line x1="296.8" y1="312.7" x2="296.8" y2="304" stroke="#000" stroke-width="1.5" /><line x1="296.8" y1="182.1" x2="296.8" y2="190.8" stroke="#000" stroke-width="1.5" /><line x1="68.5" y1="253.25" x2="77.2" y2="253.25" stroke="#000" stroke-width="1.5" /><line x1="329.8" y1="253.25" x2="321.1" y2="253.25" stroke="#000" stroke-width="1.5" /><line x1="68.5" y1="207.6" x2="77.2" y2="207.6" stroke="#000" stroke-width="1.5" /><line x1="329.8" y1="207.6" x2="321.1" y2="207.6" stroke="#000" stroke-width="1.5" /><text x="113.7" y="331.2" text-anchor="middle" fill="#000" stroke="#000" stroke-width="0.2" style="font-size:15px;" >400</text><text x="174.57" y="331.2" text-anchor="middle" fill="#000" stroke="#000" stroke-width="0.2" style="font-size:15px;" >500</text><text x="235.43" y="331.2" text-anchor="middle" fill="#000" stroke="#000" stroke-width="0.2" style="font-size:15px;" >600</text><text x="296.3" y="331.2" text-anchor="middle" fill="#000" stroke="#000" stroke-width="0.2" style="font-size:15px;" >700</text><text x="61.6" y="303.4" text-anchor="end" fill="#000" stroke="#000" stroke-width="0.2" style="font-size:15px;" >0.00</text><text x="61.6" y="257.75" text-anchor="end" fill="#000" stroke="#000" stroke-width="0.2" style="font-size:15px;" >0.02</text><text x="61.6" y="212.1" text-anchor="end" fill="#000" stroke="#000" stroke-width="0.2" style="font-size:15px;" >0.04</text><text x="204.7" y="348.2" text-anchor="middle" fill="#000" stroke="#000" stroke-width="0.2" style="font-size:15.1px;" >Wavelength (nm)</text><text x="13.3" y="245.2" text-anchor="middle" fill="#000" stroke="#000" stroke-width="0.2" style="font-size:15.3px;" transform="rotate(-90 13.3 245.2)" >Absorbance</text><text x="78.4" y="201.9" text-anchor="start" fill="#000" stroke="#000" stroke-width="0.2" style="font-size:20.2px;" >C</text><line x1="400.6" y1="247.5" x2="661.5" y2="247.5" stroke="#000" stroke-width="1.5" /><polyline points="401.63,241.12 402.24,239.79 402.85,240.35 403.46,240.12 404.07,240.34 404.69,240.68 405.3,238.99 405.91,240.16 406.52,240.57 407.13,240.03 407.74,241.16 408.35,240.22 408.96,238.83 409.57,240.84 410.18,240.15 410.79,241.13 411.4,240.43 412.01,239.81 412.62,241.03 413.23,240.99 413.85,239.81 414.46,240.32 415.07,240.1 415.68,240.18 416.29,241.19 416.9,241.42 417.51,241.51 418.12,240.23 418.73,241.26 419.34,241.45 419.95,240.81 420.56,240.6 421.17,240.4 421.78,241.48 422.39,239.87 423.01,241.04 423.62,240.49 424.23,240.6 424.84,241.08 425.45,240.39 426.06,240.43 426.67,240.06 427.28,239.69 427.89,239.6 428.5,240.18 429.11,240.32 429.72,240.82 430.33,241.35 430.94,240.47 431.55,240.94 432.17,240.81 432.78,240.92 433.39,240.53 434,240.91 434.61,239.7 435.22,240.37 435.83,240.98 436.44,240.62 437.05,240.22 437.66,241.35 438.27,240.81 438.88,241.17 439.49,241 440.1,241.3 440.71,241.11 441.33,241.09 441.94,241.12 442.55,242.05 443.16,241.31 443.77,241.69 444.38,242.06 444.99,241.97 445.6,241.49 446.21,242.28 446.82,242.68 447.43,242.25 448.04,242.75 448.65,242.64 449.26,243.04 449.87,242.95 450.49,243.93 451.1,244.17 451.71,244.01 452.32,244.14 452.93,244.95 453.54,244.95 454.15,245.48 454.76,245.9 455.37,246.68 455.98,245.79 456.59,246.34 457.2,247.64 457.81,247.01 458.42,247.72 459.03,248.18 459.65,248.03 460.26,247.9 460.87,248.38 461.48,248.69 462.09,248.98 462.7,249.35 463.31,249.45 463.92,250.47 464.53,250.66 465.14,250.76 465.75,251.43 466.36,251.53 466.97,252.11 467.58,252.38 468.19,253 468.81,253.3 469.42,253.98 470.03,254.33 470.64,255.16 471.25,256.11 471.86,256.27 472.47,256.91 473.08,257.72 473.69,258.05 474.3,258.91 474.91,259.43 475.52,260.72 476.13,261.55 476.74,262.16 477.35,262.77 477.97,264.21 478.58,264.78 479.19,265.8 479.8,266.76 480.41,267.34 481.02,268.22 481.63,269.14 482.24,270.36 482.85,271.06 483.46,272.35 484.07,272.66 484.68,273.99 485.29,274.59 485.9,275.17 486.51,276.31 487.13,277.07 487.74,278.14 488.35,278.15 488.96,279.95 489.57,280.61 490.18,281.29 490.79,281.35 491.4,282.9 492.01,283.45 492.62,283.94 493.23,285.32 493.84,285.16 494.45,285.87 495.06,286.11 495.67,286.61 496.29,287.36 496.9,287.66 497.51,288.54 498.12,289.08 498.73,289.25 499.34,289.52 499.95,290.01 500.56,290.17 501.17,290.45 501.78,290.49 502.39,291.27 503,291.64 503.61,291.66 504.22,291.98 504.83,292.12 505.45,292.05 506.06,292.9 506.67,292.69 507.28,292.7 507.89,292.87 508.5,293.7 509.11,293.51 509.72,293.19 510.33,293.57 510.94,293.48 511.55,293.61 512.16,293.21 512.77,293.39 513.38,293.41 513.99,293.15 514.61,292.63 515.22,292.67 515.83,292.94 516.44,292.79 517.05,291.8 517.66,292.1 518.27,291.33 518.88,291.22 519.49,290.64 520.1,290.53 520.71,290.58 521.32,289.24 521.93,289.21 522.54,288.83 523.15,287.96 523.77,287.74 524.38,287.17 524.99,287.03 525.6,286.46 526.21,285.88 526.82,285.64 527.43,284.75 528.04,284.32 528.65,283.96 529.26,283.42 529.87,282.53 530.48,282.2 531.09,281.45 531.7,280.86 532.31,280.35 532.93,280.45 533.54,278.88 534.15,278.08 534.76,277.74 535.37,277.03 535.98,275.92 536.59,275.71 537.2,274.35 537.81,273.78 538.42,272.83 539.03,272.44 539.64,271.65 540.25,270.87 540.86,270.59 541.47,269.68 542.09,268.44 542.7,268.16 543.31,267.49 543.92,266.43 544.53,265.43 545.14,265.05 545.75,264.37 546.36,263.57 546.97,262.73 547.58,262.5 548.19,261.31 548.8,260.59 549.41,259.75 550.02,259.07 550.63,258.53 551.25,257.57 551.86,257.47 552.47,256.93 553.08,255.94 553.69,255.79 554.3,255.46 554.91,254.97 555.52,254.37 556.13,254.26 556.74,253.24 557.35,252.99 557.96,252.35 558.57,252.54 559.18,252 559.79,251.72 560.41,251.09 561.02,250.8 561.63,250.41 562.24,250.14 562.85,250.32 563.46,249.74 564.07,249.55 564.68,249.37 565.29,249.03 565.9,249.44 566.51,248.97 567.12,248.7 567.73,248.69 568.34,248.9 568.95,247.72 569.57,247.63 570.18,247.1 570.79,248.33 571.4,248.93 572.01,247.38 572.62,247.83 573.23,248.15 573.84,247.32 574.45,247.6 575.06,248.4 575.67,247.49 576.28,248.34 576.89,247.26 577.5,248.15 578.11,248.28 578.73,247.16 579.34,247.05 579.95,247.65 580.56,248.1 581.17,247.23 581.78,247.46 582.39,247.41 583,247.72 583.61,248.27 584.22,247.77 584.83,246.82 585.44,247.86 586.05,247.59 586.66,247.56 587.27,247.06 587.89,247.39 588.5,247.74 589.11,246.59 589.72,247.44 590.33,247.37 590.94,247.86 591.55,248.28 592.16,247.3 592.77,247.7 593.38,247.37 593.99,248.63 594.6,246.69 595.21,247.51 595.82,247.12 596.43,248.06 597.05,247.48 597.66,247.45 598.27,246.97 598.88,247.13 599.49,248.54 600.1,247.42 600.71,247.46 601.32,247.68 601.93,247.41 602.54,247.23 603.15,247.04 603.76,248.09 604.37,247.94 604.98,247.5 605.59,247.19 606.21,248 606.82,247.52 607.43,248.15 608.04,247.5 608.65,247.61 609.26,247.27 609.87,246.83 610.48,247.9 611.09,247.31 611.7,248.3 612.31,247.36 612.92,246.64 613.53,248.28 614.14,247.77 614.75,249.09 615.37,247.3 615.98,246.43 616.59,247.98 617.2,247.35 617.81,246.82 618.42,247.89 619.03,247.41 619.64,247.89 620.25,247.75 620.86,247.49 621.47,247.07 622.08,247.39 622.69,247.52 623.3,247.59 623.91,246.96 624.53,247.25 625.14,247.3 625.75,248.42 626.36,247.61 626.97,248.03 627.58,246.63 628.19,247.17 628.8,246.77 629.41,247.91 630.02,248.26 630.63,247.9 631.24,247.18 631.85,247.84 632.46,247.13 633.07,246.82 633.69,247.66 634.3,247 634.91,248.59 635.52,248.11 636.13,247.8 636.74,247.66 637.35,248.2 637.96,247.68 638.57,246.97 639.18,247.07 639.79,247.27 640.4,247.95 641.01,246.78 641.62,247.16 642.23,247.99 642.85,246.99 643.46,247.66 644.07,247.21 644.68,247.29 645.29,247.19 645.9,246.73 646.51,246.22 647.12,247.28 647.73,247.41 648.34,247.49 648.95,247.24 649.56,247.16 650.17,248.12 650.78,247.41 651.39,246.31 652.01,247.07 652.62,246.91 653.23,247.48 653.84,246.37 654.45,247.16 655.06,247.61 655.67,247.82 656.28,247.21 656.89,246.56 657.5,247.78 658.11,247.94 658.72,248.61 659.33,247.1 659.94,248 660.55,247.83 661.17,247.99 661.78,247.91 662.39,247.07" fill="none" stroke="#b0558f" stroke-width="2.0" stroke-linejoin="round" clip-path="url(#cD)"/><polyline points="401.63,240.41 402.24,239.83 402.85,240.39 403.46,240.17 404.07,239.53 404.69,239.54 405.3,240.66 405.91,239.94 406.52,240.52 407.13,239.53 407.74,240.33 408.35,240.52 408.96,239.48 409.57,240.31 410.18,239.9 410.79,239.57 411.4,240.3 412.01,240.17 412.62,239.66 413.23,238.72 413.85,239.67 414.46,239.6 415.07,240 415.68,240.04 416.29,239.21 416.9,240.43 417.51,240.42 418.12,239.25 418.73,240.46 419.34,240.72 419.95,239.81 420.56,239.55 421.17,239.17 421.78,238.95 422.39,241.24 423.01,240.2 423.62,240.27 424.23,239.93 424.84,240.55 425.45,240.12 426.06,240.01 426.67,240.06 427.28,240.57 427.89,240.06 428.5,240.6 429.11,240.59 429.72,240.33 430.33,239.85 430.94,241.15 431.55,240.27 432.17,239.63 432.78,240.2 433.39,240.52 434,240.18 434.61,239.62 435.22,240.39 435.83,240.64 436.44,240.03 437.05,240.5 437.66,240.72 438.27,240.14 438.88,240.88 439.49,240.73 440.1,240.15 440.71,240.7 441.33,240.36 441.94,241.65 442.55,241.64 443.16,241.47 443.77,241.34 444.38,242.13 444.99,241.46 445.6,241.88 446.21,242.01 446.82,241.95 447.43,242.19 448.04,242.7 448.65,242.57 449.26,243.15 449.87,242.57 450.49,243.48 451.1,243.73 451.71,244.19 452.32,244.3 452.93,244.56 453.54,244.99 454.15,245.57 454.76,245.17 455.37,245.79 455.98,246.61 456.59,246.98 457.2,246.91 457.81,247.2 458.42,247.65 459.03,247.78 459.65,247.79 460.26,247.79 460.87,248.35 461.48,248.61 462.09,248.71 462.7,248.78 463.31,249.42 463.92,249.94 464.53,250.53 465.14,251.17 465.75,251.25 466.36,251.51 466.97,252.21 467.58,252.92 468.19,253.15 468.81,253.85 469.42,254.53 470.03,255.45 470.64,255.41 471.25,256.34 471.86,256.54 472.47,257.68 473.08,258.22 473.69,259.14 474.3,259.34 474.91,260.26 475.52,261.46 476.13,261.98 476.74,263.56 477.35,263.99 477.97,265.23 478.58,266.07 479.19,267.09 479.8,267.77 480.41,269.31 481.02,269.91 481.63,270.38 482.24,272.23 482.85,272.63 483.46,273.84 484.07,275.1 484.68,275.24 485.29,276.38 485.9,276.86 486.51,278.57 487.13,278.92 487.74,279.52 488.35,281.3 488.96,281.55 489.57,282.4 490.18,283.37 490.79,283.89 491.4,284.86 492.01,285.96 492.62,286.7 493.23,287.22 493.84,287.41 494.45,288.47 495.06,288.78 495.67,289.59 496.29,289.91 496.9,290.42 497.51,290.7 498.12,290.99 498.73,292.01 499.34,292.58 499.95,292.7 500.56,293.06 501.17,293.34 501.78,293.49 502.39,294.17 503,294.36 503.61,294.64 504.22,294.63 504.83,295.27 505.45,295.09 506.06,295.12 506.67,295.87 507.28,295.63 507.89,296.01 508.5,296.31 509.11,295.89 509.72,296.17 510.33,296.63 510.94,296.43 511.55,296.73 512.16,296.86 512.77,296.15 513.38,296.29 513.99,295.7 514.61,295.88 515.22,295.61 515.83,295.45 516.44,295.1 517.05,295.04 517.66,294.57 518.27,294.62 518.88,294.29 519.49,293.81 520.1,293.24 520.71,292.71 521.32,292.33 521.93,291.55 522.54,290.78 523.15,291.57 523.77,290.11 524.38,289.76 524.99,289.64 525.6,288.93 526.21,288.94 526.82,287.96 527.43,286.94 528.04,287.08 528.65,286.35 529.26,285.57 529.87,284.82 530.48,284.35 531.09,283.86 531.7,282.9 532.31,282.53 532.93,281.08 533.54,280.66 534.15,280.21 534.76,279.7 535.37,278.88 535.98,278.15 536.59,277.27 537.2,276.29 537.81,275.93 538.42,274.77 539.03,274.02 539.64,273.47 540.25,272.11 540.86,271.53 541.47,270.78 542.09,270.23 542.7,269.48 543.31,268.5 543.92,268.1 544.53,266.85 545.14,266.45 545.75,265.38 546.36,264.43 546.97,263.89 547.58,263.21 548.19,262.48 548.8,261.51 549.41,261.1 550.02,260.12 550.63,259.18 551.25,259.24 551.86,258.33 552.47,257.45 553.08,257.21 553.69,256.64 554.3,256.15 554.91,255.1 555.52,255.37 556.13,254.38 556.74,253.95 557.35,253.45 557.96,253.22 558.57,252.6 559.18,252.35 559.79,252.07 560.41,250.84 561.02,250.9 561.63,251.11 562.24,250.71 562.85,250.14 563.46,249.62 564.07,249.79 564.68,249.33 565.29,249.25 565.9,248.8 566.51,249.05 567.12,248.93 567.73,248.5 568.34,248.28 568.95,248.26 569.57,247.53 570.18,247.68 570.79,247.87 571.4,248.42 572.01,247.41 572.62,247.26 573.23,247.97 573.84,247.64 574.45,248.13 575.06,247.49 575.67,247.65 576.28,248.42 576.89,247.52 577.5,247.68 578.11,247.69 578.73,246.99 579.34,247.27 579.95,247.07 580.56,247.67 581.17,246.83 581.78,247.9 582.39,247.14 583,248.26 583.61,247.4 584.22,248.02 584.83,248.24 585.44,247.17 586.05,247.41 586.66,247.25 587.27,247.49 587.89,247.37 588.5,247.52 589.11,247.59 589.72,247.44 590.33,246.34 590.94,248.01 591.55,248.26 592.16,247.96 592.77,247.84 593.38,247.23 593.99,246.94 594.6,246.92 595.21,247.6 595.82,247.12 596.43,246.55 597.05,247.16 597.66,246.82 598.27,247.96 598.88,247.03 599.49,247.07 600.1,248.09 600.71,247.45 601.32,247.16 601.93,247.92 602.54,247.02 603.15,246.98 603.76,247.32 604.37,247.53 604.98,247.57 605.59,247.29 606.21,246.91 606.82,248.16 607.43,247.38 608.04,247.35 608.65,247.92 609.26,248.13 609.87,247.59 610.48,248.33 611.09,247.37 611.7,247.63 612.31,248.05 612.92,247.49 613.53,247.92 614.14,247.86 614.75,246.9 615.37,247.89 615.98,248.79 616.59,247.35 617.2,248.03 617.81,247.95 618.42,246.72 619.03,247.54 619.64,247.09 620.25,248.21 620.86,248.03 621.47,247.93 622.08,247.14 622.69,247.85 623.3,248.49 623.91,247.13 624.53,247.78 625.14,247.47 625.75,247.13 626.36,246.42 626.97,247.53 627.58,246.71 628.19,248.21 628.8,247.43 629.41,247.36 630.02,248.64 630.63,248.01 631.24,247.88 631.85,247.26 632.46,247.76 633.07,247.73 633.69,247.86 634.3,247.28 634.91,247.55 635.52,247.55 636.13,247.63 636.74,247.17 637.35,247.87 637.96,247.52 638.57,247.5 639.18,247.31 639.79,246.99 640.4,247.33 641.01,248.17 641.62,246.99 642.23,246.88 642.85,246.85 643.46,247.05 644.07,248.27 644.68,247.54 645.29,247.08 645.9,247.06 646.51,247.52 647.12,247.4 647.73,248.02 648.34,247.27 648.95,248.51 649.56,247.58 650.17,246.98 650.78,248.07 651.39,246.82 652.01,246.47 652.62,247.2 653.23,247.72 653.84,247.7 654.45,248.07 655.06,247.09 655.67,248.01 656.28,247.36 656.89,248.01 657.5,247.18 658.11,248.15 658.72,247.52 659.33,247.82 659.94,246.94 660.55,247.66 661.17,247.54 661.78,246.89 662.39,248.02" fill="none" stroke="#68ac3c" stroke-width="2.0" stroke-linejoin="round" clip-path="url(#cD)"/><polyline points="401.63,256.1 402.24,255.34 402.85,255.92 403.46,254.19 404.07,255.1 404.69,254.98 405.3,255.29 405.91,256.95 406.52,254.2 407.13,254.98 407.74,256.06 408.35,255.42 408.96,254.73 409.57,253.92 410.18,254.37 410.79,254.29 411.4,254.23 412.01,254.86 412.62,254.65 413.23,254.19 413.85,254.87 414.46,254.02 415.07,253.59 415.68,255.18 416.29,253.93 416.9,253.87 417.51,253.59 418.12,252.63 418.73,254.22 419.34,252.39 419.95,252.97 420.56,251.96 421.17,253.37 421.78,252.92 422.39,253.09 423.01,252.7 423.62,253.33 424.23,253.2 424.84,252.83 425.45,252.36 426.06,253.24 426.67,252.7 427.28,252.77 427.89,252.27 428.5,251.95 429.11,252.97 429.72,252.68 430.33,252.31 430.94,252.55 431.55,251.38 432.17,251.2 432.78,251.56 433.39,251.6 434,252.25 434.61,252.12 435.22,251.46 435.83,250.94 436.44,251.66 437.05,251.32 437.66,250.7 438.27,250.59 438.88,251.64 439.49,251.05 440.1,250.79 440.71,251.67 441.33,251.13 441.94,250.8 442.55,251 443.16,250.52 443.77,250.78 444.38,251.2 444.99,250.94 445.6,251.17 446.21,250.78 446.82,250.01 447.43,250.02 448.04,249.85 448.65,249.48 449.26,250.23 449.87,249.9 450.49,249.59 451.1,248.97 451.71,249.32 452.32,249.34 452.93,249.08 453.54,249.33 454.15,249.53 454.76,248.63 455.37,248.76 455.98,248.34 456.59,248.67 457.2,248.41 457.81,247.74 458.42,247.7 459.03,247.27 459.65,247.5 460.26,247.04 460.87,246.6 461.48,246.25 462.09,246.19 462.7,245.76 463.31,245.5 463.92,245.14 464.53,244.72 465.14,244.18 465.75,244.2 466.36,243.42 466.97,243.2 467.58,242.46 468.19,242.03 468.81,241.4 469.42,240.97 470.03,240.38 470.64,240.11 471.25,238.8 471.86,238.85 472.47,238.31 473.08,237.03 473.69,236.23 474.3,235.62 474.91,234.87 475.52,234.24 476.13,232.62 476.74,232.63 477.35,230.7 477.97,230.77 478.58,229.71 479.19,228.58 479.8,227.7 480.41,226.54 481.02,225.96 481.63,224.91 482.24,224.31 482.85,222.7 483.46,222.17 484.07,221.38 484.68,220.28 485.29,219.15 485.9,218.38 486.51,217.75 487.13,216.62 487.74,215.68 488.35,214.77 488.96,214.09 489.57,212.98 490.18,212.6 490.79,211.49 491.4,210.95 492.01,209.99 492.62,209.44 493.23,208.45 493.84,208.09 494.45,207.1 495.06,207.07 495.67,206.04 496.29,206.01 496.9,205.95 497.51,205.12 498.12,204.22 498.73,203.98 499.34,203.51 499.95,203.35 500.56,202.8 501.17,202.79 501.78,201.77 502.39,201.5 503,201.48 503.61,201.46 504.22,201.22 504.83,200.65 505.45,200.49 506.06,200.59 506.67,199.98 507.28,199.77 507.89,199.69 508.5,199.59 509.11,199.52 509.72,199.49 510.33,199.5 510.94,199.55 511.55,199.1 512.16,199.85 512.77,199.52 513.38,199.46 513.99,199.26 514.61,200.12 515.22,199.91 515.83,200.19 516.44,200.55 517.05,200.62 517.66,201.81 518.27,201.47 518.88,202.09 519.49,202.31 520.1,202.82 520.71,203.38 521.32,204.04 521.93,203.88 522.54,204.47 523.15,205.19 523.77,205.36 524.38,206.08 524.99,206.51 525.6,206.75 526.21,207.12 526.82,208.34 527.43,208.42 528.04,208.8 528.65,209.84 529.26,210.18 529.87,210.62 530.48,211.07 531.09,212.23 531.7,212.99 532.31,213.4 532.93,214.06 533.54,214.64 534.15,215.34 534.76,216.57 535.37,216.65 535.98,218 536.59,218.26 537.2,219 537.81,219.8 538.42,220.6 539.03,221.37 539.64,222.43 540.25,223.22 540.86,223.25 541.47,224.16 542.09,224.98 542.7,225.89 543.31,227.26 543.92,227.16 544.53,228.46 545.14,229.19 545.75,229.76 546.36,230.89 546.97,231.16 547.58,232.86 548.19,232.68 548.8,233.6 549.41,234.66 550.02,234.93 550.63,235.52 551.25,236.27 551.86,236.86 552.47,237.76 553.08,238.01 553.69,238.56 554.3,239.03 554.91,239.7 555.52,240.77 556.13,240.69 556.74,241.61 557.35,241.91 557.96,242.16 558.57,242.49 559.18,243 559.79,243.22 560.41,243.52 561.02,243.94 561.63,244.28 562.24,244.51 562.85,244.7 563.46,245.37 564.07,245.76 564.68,245.33 565.29,245.78 565.9,246.6 566.51,245.91 567.12,246.08 567.73,247 568.34,247.31 568.95,247.12 569.57,247.6 570.18,247.42 570.79,247.23 571.4,246.78 572.01,248.62 572.62,247.37 573.23,246.91 573.84,248.74 574.45,247.37 575.06,247.58 575.67,247.85 576.28,247.17 576.89,246.89 577.5,247 578.11,246.52 578.73,247.93 579.34,248.61 579.95,247.83 580.56,247.47 581.17,246.96 581.78,247.28 582.39,247.86 583,246.85 583.61,247.32 584.22,247.42 584.83,247.64 585.44,247.33 586.05,247.25 586.66,247.52 587.27,248.76 587.89,247.98 588.5,247.31 589.11,246.73 589.72,246.93 590.33,246.96 590.94,246.64 591.55,247.18 592.16,246.84 592.77,247 593.38,247.39 593.99,247.97 594.6,248.35 595.21,247.29 595.82,248.14 596.43,247.56 597.05,247.13 597.66,247.87 598.27,247.04 598.88,247.47 599.49,247.96 600.1,247.2 600.71,247.13 601.32,247.75 601.93,247.24 602.54,248.07 603.15,247.43 603.76,247.34 604.37,248.02 604.98,247.44 605.59,246.75 606.21,247.82 606.82,248.07 607.43,248.22 608.04,247.88 608.65,248.05 609.26,248.33 609.87,247.43 610.48,247.31 611.09,247.98 611.7,247.45 612.31,247 612.92,247.29 613.53,247.38 614.14,247.12 614.75,247.81 615.37,247.01 615.98,246.51 616.59,247.8 617.2,248.43 617.81,247.84 618.42,247.98 619.03,247.35 619.64,246.84 620.25,247.17 620.86,246.58 621.47,247.23 622.08,247.42 622.69,248.45 623.3,247.26 623.91,247.78 624.53,247.73 625.14,247.59 625.75,246.63 626.36,247.01 626.97,247.44 627.58,248.19 628.19,247.67 628.8,247.59 629.41,247.01 630.02,247.18 630.63,247.19 631.24,247.94 631.85,246.97 632.46,246.08 633.07,248.17 633.69,247.99 634.3,247.43 634.91,246.96 635.52,247.33 636.13,247.41 636.74,246.71 637.35,248.02 637.96,248.52 638.57,248.25 639.18,247.06 639.79,246.99 640.4,247.68 641.01,248.22 641.62,247.93 642.23,247.29 642.85,247 643.46,247.81 644.07,247.92 644.68,247.97 645.29,247.82 645.9,247.16 646.51,247.41 647.12,247.33 647.73,247.46 648.34,247.41 648.95,248.18 649.56,248.06 650.17,247.33 650.78,247.31 651.39,246.96 652.01,247.55 652.62,247.95 653.23,247.61 653.84,247.63 654.45,247.23 655.06,247.59 655.67,247.24 656.28,247.22 656.89,247.22 657.5,247.19 658.11,247.99 658.72,246.9 659.33,246.63 659.94,247.04 660.55,246.64 661.17,247.23 661.78,247.72 662.39,247.16" fill="none" stroke="#3151ad" stroke-width="2.0" stroke-linejoin="round" clip-path="url(#cD)"/><polyline points="401.63,254.57 402.24,254.6 402.85,253.46 403.46,255.01 404.07,253.69 404.69,254.71 405.3,255.39 405.91,253.8 406.52,254.13 407.13,254.01 407.74,253.92 408.35,253.36 408.96,253.73 409.57,254.03 410.18,253.86 410.79,253.47 411.4,253.99 412.01,253.38 412.62,254.69 413.23,253.53 413.85,253.4 414.46,252.92 415.07,253.85 415.68,253.29 416.29,252.86 416.9,251.5 417.51,252.87 418.12,252.57 418.73,253.11 419.34,251.62 419.95,252.8 420.56,252.74 421.17,252.47 421.78,253.15 422.39,252.93 423.01,252.54 423.62,252.7 424.23,251.75 424.84,252.42 425.45,251.03 426.06,251.93 426.67,252.35 427.28,251.87 427.89,251.56 428.5,251.83 429.11,251.57 429.72,251.83 430.33,252.02 430.94,251.66 431.55,250.78 432.17,251.68 432.78,251.48 433.39,252.06 434,251.62 434.61,251.15 435.22,251.38 435.83,250.69 436.44,250.71 437.05,251.24 437.66,251.04 438.27,250.67 438.88,250.73 439.49,250.93 440.1,251.47 440.71,250.14 441.33,250.6 441.94,250.48 442.55,250.74 443.16,249.84 443.77,250.36 444.38,250.18 444.99,250.9 445.6,250.26 446.21,250.03 446.82,249.79 447.43,249.6 448.04,249.82 448.65,249.31 449.26,249.61 449.87,249.53 450.49,249.38 451.1,249.82 451.71,249.88 452.32,248.47 452.93,249.49 453.54,249.01 454.15,248.51 454.76,248.76 455.37,248.08 455.98,248.85 456.59,248.07 457.2,247.76 457.81,247.13 458.42,247.14 459.03,247.55 459.65,246.88 460.26,246.79 460.87,246.92 461.48,246.44 462.09,245.71 462.7,245.73 463.31,245.53 463.92,245.07 464.53,244.82 465.14,244.48 465.75,243.56 466.36,243.08 466.97,242.46 467.58,242.61 468.19,241.99 468.81,241.08 469.42,240.6 470.03,240.1 470.64,239.76 471.25,238.92 471.86,238.53 472.47,237.12 473.08,236.6 473.69,236.26 474.3,234.92 474.91,234.66 475.52,233.41 476.13,232.63 476.74,231.87 477.35,230.52 477.97,230.33 478.58,229.07 479.19,228.12 479.8,227.54 480.41,226.53 481.02,225.19 481.63,224.23 482.24,223.61 482.85,222.3 483.46,221.4 484.07,220.41 484.68,219.74 485.29,218.78 485.9,217.68 486.51,217.05 487.13,216.2 487.74,215.39 488.35,214.06 488.96,212.99 489.57,212.89 490.18,211.65 490.79,210.58 491.4,209.61 492.01,209.15 492.62,208.69 493.23,207.63 493.84,206.59 494.45,206.45 495.06,205.8 495.67,205 496.29,205.27 496.9,204.22 497.51,203.59 498.12,203.26 498.73,203.03 499.34,202.76 499.95,202.42 500.56,202.23 501.17,201.68 501.78,201.51 502.39,200.92 503,200.65 503.61,200.45 504.22,200.14 504.83,199.78 505.45,199.86 506.06,199.19 506.67,199.1 507.28,198.82 507.89,198.89 508.5,198.71 509.11,198.51 509.72,198.43 510.33,198.5 510.94,198.46 511.55,198.52 512.16,198.53 512.77,198.71 513.38,198.85 513.99,199.07 514.61,198.7 515.22,199.42 515.83,199.55 516.44,200.04 517.05,200.07 517.66,200.14 518.27,200.94 518.88,201.08 519.49,201.5 520.1,201.66 520.71,202.28 521.32,202.69 521.93,203.15 522.54,204 523.15,203.75 523.77,204.07 524.38,205.15 524.99,205.25 525.6,205.97 526.21,206.15 526.82,207.17 527.43,207.49 528.04,207.85 528.65,208.62 529.26,209.29 529.87,209.96 530.48,210.72 531.09,211.18 531.7,212.11 532.31,212.15 532.93,213.11 533.54,214 534.15,215.05 534.76,215.18 535.37,215.88 535.98,216.86 536.59,217.54 537.2,218.32 537.81,219.33 538.42,220.18 539.03,220.88 539.64,221.4 540.25,222.63 540.86,223.65 541.47,224.04 542.09,224.82 542.7,225.65 543.31,226.37 543.92,227.48 544.53,228.19 545.14,228.87 545.75,229.58 546.36,230.22 546.97,230.95 547.58,231.84 548.19,232.68 548.8,233.63 549.41,234.23 550.02,235.2 550.63,235.69 551.25,236.09 551.86,236.69 552.47,237.68 553.08,237.74 553.69,239.14 554.3,239 554.91,239.64 555.52,240.17 556.13,240.52 556.74,241.17 557.35,240.98 557.96,242.05 558.57,242.43 559.18,242.67 559.79,243.59 560.41,243.51 561.02,244.15 561.63,243.82 562.24,244.56 562.85,244.76 563.46,245.41 564.07,244.81 564.68,245.87 565.29,246.02 565.9,246.06 566.51,246.61 567.12,246.56 567.73,246.51 568.34,246.04 568.95,246.16 569.57,247.37 570.18,247.21 570.79,246.72 571.4,246.57 572.01,247.61 572.62,247.4 573.23,247.33 573.84,247.3 574.45,247.51 575.06,246.56 575.67,247.53 576.28,246.87 576.89,247.18 577.5,245.76 578.11,246.73 578.73,248.35 579.34,247.13 579.95,248.42 580.56,246.79 581.17,247.58 581.78,248.45 582.39,247.92 583,247.61 583.61,246.76 584.22,247.4 584.83,247.22 585.44,247.77 586.05,247.69 586.66,248.17 587.27,247.66 587.89,247.6 588.5,247.51 589.11,247.88 589.72,247.59 590.33,247.71 590.94,247.38 591.55,247.81 592.16,247.79 592.77,247.94 593.38,247.84 593.99,247.65 594.6,248.01 595.21,246.92 595.82,247.03 596.43,247.34 597.05,247.15 597.66,248.11 598.27,247.83 598.88,247.75 599.49,247.41 600.1,247.13 600.71,247.11 601.32,248.22 601.93,247.55 602.54,246.98 603.15,247.64 603.76,247.29 604.37,248.33 604.98,247.5 605.59,247.65 606.21,248.48 606.82,247.14 607.43,246.86 608.04,247.12 608.65,247.68 609.26,247.58 609.87,247.83 610.48,247.22 611.09,247.29 611.7,246.82 612.31,247.51 612.92,247.06 613.53,247.62 614.14,247.85 614.75,247.52 615.37,247.92 615.98,247.93 616.59,247.15 617.2,247.18 617.81,247.89 618.42,247.95 619.03,247.61 619.64,247.88 620.25,247.18 620.86,247.68 621.47,248.16 622.08,247.93 622.69,247.32 623.3,246.54 623.91,247.28 624.53,248.19 625.14,247.97 625.75,247.45 626.36,247.61 626.97,247.46 627.58,246.56 628.19,248.03 628.8,248 629.41,247.56 630.02,247.51 630.63,247.43 631.24,247.13 631.85,247.54 632.46,247.02 633.07,247.44 633.69,247.34 634.3,248.35 634.91,247.94 635.52,247.71 636.13,247.21 636.74,247.83 637.35,247.99 637.96,247.89 638.57,246.7 639.18,248.24 639.79,247.41 640.4,247.5 641.01,246.83 641.62,247.19 642.23,247.68 642.85,247.11 643.46,246.89 644.07,247.68 644.68,248.32 645.29,248.09 645.9,247.49 646.51,248 647.12,247.45 647.73,246.96 648.34,247.41 648.95,246.46 649.56,247.57 650.17,248.1 650.78,247.41 651.39,247.03 652.01,248.17 652.62,247.29 653.23,246.71 653.84,247.4 654.45,246.63 655.06,248.23 655.67,247.23 656.28,248.31 656.89,248.35 657.5,248.21 658.11,247 658.72,247.36 659.33,246.84 659.94,247.92 660.55,248.33 661.17,247.09 661.78,247.85 662.39,248.25" fill="none" stroke="#cf2c26" stroke-width="2.0" stroke-linejoin="round" clip-path="url(#cD)"/><rect x="400.6" y="182.1" width="260.9" height="130.5" fill="none" stroke="#000" stroke-width="1.5"/><line x1="445.6" y1="312.6" x2="445.6" y2="303.9" stroke="#000" stroke-width="1.5" /><line x1="445.6" y1="182.1" x2="445.6" y2="190.8" stroke="#000" stroke-width="1.5" /><line x1="506.67" y1="312.6" x2="506.67" y2="303.9" stroke="#000" stroke-width="1.5" /><line x1="506.67" y1="182.1" x2="506.67" y2="190.8" stroke="#000" stroke-width="1.5" /><line x1="567.73" y1="312.6" x2="567.73" y2="303.9" stroke="#000" stroke-width="1.5" /><line x1="567.73" y1="182.1" x2="567.73" y2="190.8" stroke="#000" stroke-width="1.5" /><line x1="628.8" y1="312.6" x2="628.8" y2="303.9" stroke="#000" stroke-width="1.5" /><line x1="628.8" y1="182.1" x2="628.8" y2="190.8" stroke="#000" stroke-width="1.5" /><line x1="400.6" y1="297.7" x2="409.3" y2="297.7" stroke="#000" stroke-width="1.5" /><line x1="661.5" y1="297.7" x2="652.8" y2="297.7" stroke="#000" stroke-width="1.5" /><line x1="400.6" y1="272.6" x2="409.3" y2="272.6" stroke="#000" stroke-width="1.5" /><line x1="661.5" y1="272.6" x2="652.8" y2="272.6" stroke="#000" stroke-width="1.5" /><line x1="400.6" y1="222.4" x2="409.3" y2="222.4" stroke="#000" stroke-width="1.5" /><line x1="661.5" y1="222.4" x2="652.8" y2="222.4" stroke="#000" stroke-width="1.5" /><line x1="400.6" y1="197.3" x2="409.3" y2="197.3" stroke="#000" stroke-width="1.5" /><line x1="661.5" y1="197.3" x2="652.8" y2="197.3" stroke="#000" stroke-width="1.5" /><text x="445.3" y="331.2" text-anchor="middle" fill="#000" stroke="#000" stroke-width="0.2" style="font-size:15px;" >400</text><text x="506.37" y="331.2" text-anchor="middle" fill="#000" stroke="#000" stroke-width="0.2" style="font-size:15px;" >500</text><text x="567.43" y="331.2" text-anchor="middle" fill="#000" stroke="#000" stroke-width="0.2" style="font-size:15px;" >600</text><text x="628.5" y="331.2" text-anchor="middle" fill="#000" stroke="#000" stroke-width="0.2" style="font-size:15px;" >700</text><text x="395.2" y="301.1" text-anchor="end" fill="#000" stroke="#000" stroke-width="0.2" style="font-size:15px;" >-0.04</text><text x="395.2" y="275.7" text-anchor="end" fill="#000" stroke="#000" stroke-width="0.2" style="font-size:15px;" >-0.02</text><text x="395.2" y="249.9" text-anchor="end" fill="#000" stroke="#000" stroke-width="0.2" style="font-size:15px;" >0.00</text><text x="395.2" y="224.3" text-anchor="end" fill="#000" stroke="#000" stroke-width="0.2" style="font-size:15px;" >0.02</text><text x="395.2" y="198.9" text-anchor="end" fill="#000" stroke="#000" stroke-width="0.2" style="font-size:15px;" >0.04</text><text x="533.4" y="348.4" text-anchor="middle" fill="#000" stroke="#000" stroke-width="0.2" style="font-size:15.1px;" >Wavelength (nm)</text><text x="356.2" y="246.4" text-anchor="middle" fill="#000" stroke="#000" stroke-width="0.2" style="font-size:15.3px;" transform="rotate(-90 356.2 246.4)" >Diff. Abs.</text><text x="413.2" y="201.6" text-anchor="start" fill="#000" stroke="#000" stroke-width="0.2" style="font-size:20.2px;" >D</text><rect x="586.7" y="191.7" width="65.9" height="30.3" fill="#fff" stroke="none" stroke-width="1"/><polyline points="583.57,223.93 584.22,223.28 584.88,222.62 585.53,221.96 586.19,221.29 586.84,220.61 587.49,219.93 588.15,219.25 588.8,218.57 589.46,217.88 590.11,217.19 590.76,216.51 591.42,215.82 592.07,215.13 592.73,214.44 593.38,213.76 594.03,213.08 594.69,212.4 595.34,211.73 596,211.06 596.65,210.4 597.3,209.74 597.96,209.09 598.61,208.46 599.27,207.83 599.92,207.21 600.57,206.6 601.23,206.01 601.88,205.42 602.54,204.85 603.19,204.3 603.84,203.76 604.5,203.24 605.15,202.73 605.81,202.24 606.46,201.77 607.11,201.32 607.77,200.88 608.42,200.47 609.08,200.08 609.73,199.71 610.38,199.36 611.04,199.03 611.69,198.73 612.35,198.45 613,198.19 613.65,197.96 614.31,197.75 614.96,197.57 615.62,197.41 616.27,197.28 616.92,197.17 617.58,197.09 618.23,197.03 618.89,197 619.54,197 620.19,197.04 620.85,197.1 621.5,197.21 622.16,197.35 622.81,197.52 623.46,197.73 624.12,197.98 624.77,198.26 625.43,198.57 626.08,198.91 626.73,199.29 627.39,199.7 628.04,200.14 628.7,200.6 629.35,201.1 630,201.62 630.66,202.17 631.31,202.75 631.97,203.34 632.62,203.97 633.27,204.61 633.93,205.27 634.58,205.95 635.24,206.65 635.89,207.37 636.54,208.1 637.2,208.85 637.85,209.6 638.51,210.37 639.16,211.15 639.81,211.94 640.47,212.73 641.12,213.53 641.78,214.34 642.43,215.14 643.08,215.95 643.74,216.76 644.39,217.57 645.05,218.38 645.7,219.18 646.35,219.98 647.01,220.78 647.66,221.57 648.32,222.35 648.97,223.13 649.62,223.9 650.28,224.66 650.93,225.4 651.59,226.14 652.24,226.87 652.89,227.58 653.55,228.28 654.2,228.97 654.86,229.64 655.51,230.3" fill="none" stroke="#cf2c26" stroke-width="2.2" stroke-linejoin="round" clip-path="url(#cID)"/><polyline points="583.57,225.18 584.22,224.52 584.88,223.85 585.53,223.17 586.19,222.49 586.84,221.8 587.49,221.11 588.15,220.41 588.8,219.71 589.46,219 590.11,218.29 590.76,217.58 591.42,216.87 592.07,216.15 592.73,215.44 593.38,214.73 594.03,214.02 594.69,213.31 595.34,212.61 596,211.91 596.65,211.22 597.3,210.53 597.96,209.85 598.61,209.18 599.27,208.52 599.92,207.86 600.57,207.22 601.23,206.59 601.88,205.98 602.54,205.37 603.19,204.79 603.84,204.21 604.5,203.66 605.15,203.12 605.81,202.6 606.46,202.1 607.11,201.61 607.77,201.15 608.42,200.71 609.08,200.29 609.73,199.9 610.38,199.52 611.04,199.17 611.69,198.85 612.35,198.55 613,198.27 613.65,198.02 614.31,197.8 614.96,197.61 615.62,197.44 616.27,197.3 616.92,197.18 617.58,197.09 618.23,197.04 618.89,197.01 619.54,197 620.19,197.04 620.85,197.11 621.5,197.21 622.16,197.36 622.81,197.54 623.46,197.75 624.12,198 624.77,198.29 625.43,198.61 626.08,198.97 626.73,199.35 627.39,199.77 628.04,200.22 628.7,200.7 629.35,201.21 630,201.74 630.66,202.31 631.31,202.89 631.97,203.51 632.62,204.14 633.27,204.8 633.93,205.48 634.58,206.18 635.24,206.89 635.89,207.62 636.54,208.37 637.2,209.13 637.85,209.9 638.51,210.69 639.16,211.48 639.81,212.28 640.47,213.09 641.12,213.9 641.78,214.72 642.43,215.53 643.08,216.36 643.74,217.18 644.39,218 645.05,218.81 645.7,219.63 646.35,220.44 647.01,221.24 647.66,222.04 648.32,222.83 648.97,223.61 649.62,224.38 650.28,225.14 650.93,225.89 651.59,226.63 652.24,227.36 652.89,228.07 653.55,228.77 654.2,229.46 654.86,230.13 655.51,230.79" fill="none" stroke="#000" stroke-width="1.7" stroke-linejoin="round" clip-path="url(#cID)"/><rect x="586.7" y="191.7" width="65.9" height="30.3" fill="none" stroke="#000" stroke-width="1.4"/><line x1="613" y1="222" x2="613" y2="218.5" stroke="#000" stroke-width="1.2" /><line x1="613" y1="191.7" x2="613" y2="195.2" stroke="#000" stroke-width="1.2" /><line x1="645.7" y1="222" x2="645.7" y2="218.5" stroke="#000" stroke-width="1.2" /><line x1="645.7" y1="191.7" x2="645.7" y2="195.2" stroke="#000" stroke-width="1.2" /><line x1="586.7" y1="197" x2="590.2" y2="197" stroke="#000" stroke-width="1.2" /><line x1="652.6" y1="197" x2="649.1" y2="197" stroke="#000" stroke-width="1.2" /><text x="584" y="201.9" text-anchor="end" fill="#000" stroke="#000" stroke-width="0.2" style="font-size:12.3px;" >1.0</text><text x="584" y="224.2" text-anchor="end" fill="#000" stroke="#000" stroke-width="0.2" style="font-size:12.3px;" >0.5</text><text x="613.7" y="235" text-anchor="middle" fill="#000" stroke="#000" stroke-width="0.2" style="font-size:12.2px;" >500</text><text x="645.7" y="235" text-anchor="middle" fill="#000" stroke="#000" stroke-width="0.2" style="font-size:12.2px;" >550</text><text x="613.9" y="243.6" text-anchor="middle" fill="#000" stroke="#000" stroke-width="0.2" style="font-size:12.3px;" >Wavelength (nm)</text><text x="562.9" y="210.8" text-anchor="middle" fill="#000" stroke="#000" stroke-width="0.2" style="font-size:12.2px;" transform="rotate(-90 562.9 210.8)" >Rel. Abs.</text><polyline points="60.42,438.99 60.62,438.99 60.82,438.99 61.02,438.99 61.22,438.99 61.43,438.99 61.63,438.99 61.83,438.99 62.03,438.99 62.23,438.99 62.43,438.99 62.63,438.99 62.83,438.98 63.04,438.98 63.24,438.98 63.44,438.98 63.64,438.98 63.84,438.98 64.04,438.98 64.24,438.98 64.44,438.98 64.65,438.98 64.85,438.98 65.05,438.98 65.25,438.98 65.45,438.98 65.65,438.98 65.85,438.98 66.05,438.98 66.25,438.98 66.46,438.98 66.66,438.98 66.86,438.98 67.06,438.98 67.26,438.98 67.46,438.98 67.66,438.98 67.86,438.98 68.07,438.98 68.27,438.98 68.47,438.98 68.67,438.98 68.87,438.98 69.07,438.98 69.27,438.98 69.47,438.98 69.68,438.98 69.88,438.98 70.08,438.98 70.28,438.98 70.48,438.98 70.68,438.98 70.88,438.98 71.08,438.98 71.28,438.98 71.49,438.98 71.69,438.98 71.89,438.97 72.09,438.97 72.29,438.97 72.49,438.97 72.69,438.97 72.89,438.97 73.1,438.97 73.3,438.97 73.5,438.97 73.7,438.97 73.9,438.97 74.1,438.97 74.3,438.97 74.5,438.97 74.71,438.97 74.91,438.97 75.11,438.97 75.31,438.97 75.51,438.97 75.71,438.97 75.91,438.97 76.11,438.97 76.31,438.97 76.52,438.96 76.72,438.96 76.92,438.96 77.12,438.96 77.32,438.96 77.52,438.96 77.72,438.96 77.92,438.96 78.13,438.96 78.33,438.96 78.53,438.96 78.73,438.96 78.93,438.96 79.13,438.96 79.33,438.96 79.53,438.95 79.74,438.95 79.94,438.95 80.14,438.95 80.34,438.95 80.54,438.95 80.74,438.95 80.94,438.95 81.14,438.95 81.34,438.95 81.55,438.95 81.75,438.94 81.95,438.94 82.15,438.94 82.35,438.94 82.55,438.94 82.75,438.94 82.95,438.94 83.16,438.94 83.36,438.93 83.56,438.93 83.76,438.93 83.96,438.93 84.16,438.93 84.36,438.93 84.56,438.92 84.77,438.92 84.97,438.92 85.17,438.92 85.37,438.92 85.57,438.91 85.77,438.91 85.97,438.91 86.17,438.91 86.37,438.91 86.58,438.9 86.78,438.9 86.98,438.9 87.18,438.89 87.38,438.89 87.58,438.89 87.78,438.88 87.98,438.88 88.19,438.88 88.39,438.87 88.59,438.87 88.79,438.86 88.99,438.86 89.19,438.86 89.39,438.85 89.59,438.85 89.8,438.84 90,438.83 90.2,438.83 90.4,438.82 90.6,438.81 90.8,438.81 91,438.8 91.2,438.79 91.4,438.78 91.61,438.77 91.81,438.76 92.01,438.75 92.21,438.74 92.41,438.73 92.61,438.72 92.81,438.7 93.01,438.69 93.22,438.67 93.42,438.65 93.62,438.63 93.82,438.61 94.02,438.59 94.22,438.56 94.42,438.54 94.62,438.51 94.83,438.48 95.03,438.44 95.23,438.4 95.43,438.36 95.63,438.31 95.83,438.25 96.03,438.19 96.23,438.12 96.43,438.03 96.64,437.94 96.84,437.82 97.04,437.67 97.24,437.48 97.44,437.22 97.64,436.87 97.84,436.38 98.04,435.7 98.25,434.76 98.45,433.49 98.65,431.8 98.85,429.63 99.05,426.95 99.25,423.74 99.45,420.06 99.65,416.04 99.86,411.91 100.06,407.95 100.26,404.59 100.46,402.3 100.66,401.48 100.86,402.3 101.06,404.59 101.26,407.95 101.46,411.9 101.67,416.04 101.87,420.05 102.07,423.73 102.27,426.94 102.47,429.62 102.67,431.79 102.87,433.48 103.07,434.75 103.28,435.69 103.48,436.37 103.68,436.86 103.88,437.21 104.08,437.46 104.28,437.65 104.48,437.8 104.68,437.91 104.89,438.01 105.09,438.09 105.29,438.16 105.49,438.22 105.69,438.28 105.89,438.32 106.09,438.36 106.29,438.4 106.49,438.44 106.7,438.47 106.9,438.49 107.1,438.52 107.3,438.54 107.5,438.56 107.7,438.58 107.9,438.59 108.1,438.61 108.31,438.62 108.51,438.63 108.71,438.64 108.91,438.65 109.11,438.66 109.31,438.66 109.51,438.67 109.71,438.67 109.92,438.67 110.12,438.68 110.32,438.67 110.52,438.67 110.72,438.67 110.92,438.66 111.12,438.66 111.32,438.65 111.52,438.63 111.73,438.61 111.93,438.59 112.13,438.55 112.33,438.5 112.53,438.44 112.73,438.35 112.93,438.23 113.13,438.09 113.34,437.9 113.54,437.66 113.74,437.37 113.94,437.03 114.14,436.63 114.34,436.18 114.54,435.68 114.74,435.15 114.95,434.62 115.15,434.1 115.35,433.63 115.55,433.25 115.75,433 115.95,432.92 116.15,433.01 116.35,433.26 116.55,433.64 116.76,434.11 116.96,434.64 117.16,435.18 117.36,435.71 117.56,436.21 117.76,436.66 117.96,437.07 118.16,437.42 118.37,437.71 118.57,437.95 118.77,438.15 118.97,438.3 119.17,438.42 119.37,438.51 119.57,438.58 119.77,438.64 119.98,438.68 120.18,438.71 120.38,438.74 120.58,438.76 120.78,438.77 120.98,438.79 121.18,438.8 121.38,438.81 121.58,438.82 121.79,438.83 121.99,438.84 122.19,438.85 122.39,438.86 122.59,438.86 122.79,438.87 122.99,438.87 123.19,438.88 123.4,438.88 123.6,438.89 123.8,438.89 124,438.9 124.2,438.9 124.4,438.9 124.6,438.91 124.8,438.91 125.01,438.91 125.21,438.91 125.41,438.92 125.61,438.92 125.81,438.92 126.01,438.92 126.21,438.93 126.41,438.93 126.61,438.93 126.82,438.93 127.02,438.93 127.22,438.93 127.42,438.94 127.62,438.94 127.82,438.94 128.02,438.94 128.22,438.94 128.43,438.94 128.63,438.94 128.83,438.94 129.03,438.95 129.23,438.95 129.43,438.95 129.63,438.95 129.83,438.95 130.04,438.95 130.24,438.95 130.44,438.95 130.64,438.95 130.84,438.95 131.04,438.95 131.24,438.95 131.44,438.95 131.64,438.96 131.85,438.96 132.05,438.96 132.25,438.96 132.45,438.96 132.65,438.96 132.85,438.96 133.05,438.96 133.25,438.96 133.46,438.96 133.66,438.96 133.86,438.96 134.06,438.96 134.26,438.96 134.46,438.96 134.66,438.96 134.86,438.96 135.07,438.96 135.27,438.96 135.47,438.96 135.67,438.96 135.87,438.96 136.07,438.96 136.27,438.96 136.47,438.96 136.67,438.96 136.88,438.96 137.08,438.96 137.28,438.96 137.48,438.96 137.68,438.96 137.88,438.96 138.08,438.96 138.28,438.95 138.49,438.95 138.69,438.95 138.89,438.95 139.09,438.95 139.29,438.95 139.49,438.94 139.69,438.94 139.89,438.94 140.1,438.94 140.3,438.93 140.5,438.92 140.7,438.92 140.9,438.91 141.1,438.89 141.3,438.87 141.5,438.85 141.7,438.81 141.91,438.77 142.11,438.72 142.31,438.65 142.51,438.57 142.71,438.48 142.91,438.38 143.11,438.27 143.31,438.16 143.52,438.04 143.72,437.94 143.92,437.86 144.12,437.8 144.32,437.78 144.52,437.8 144.72,437.86 144.92,437.94 145.13,438.04 145.33,438.16 145.53,438.27 145.73,438.38 145.93,438.49 146.13,438.58 146.33,438.65 146.53,438.72 146.73,438.77 146.94,438.82 147.14,438.85 147.34,438.88 147.54,438.9 147.74,438.91 147.94,438.92 148.14,438.93 148.34,438.94 148.55,438.94 148.75,438.94 148.95,438.95 149.15,438.95 149.35,438.95 149.55,438.96 149.75,438.96 149.95,438.96 150.16,438.96 150.36,438.96 150.56,438.96 150.76,438.96 150.96,438.97 151.16,438.97 151.36,438.97 151.56,438.97 151.76,438.97 151.97,438.97 152.17,438.97 152.37,438.97 152.57,438.97 152.77,438.97 152.97,438.97 153.17,438.97 153.37,438.97 153.58,438.97 153.78,438.97 153.98,438.97 154.18,438.97 154.38,438.97 154.58,438.97 154.78,438.97 154.98,438.98 155.19,438.98 155.39,438.98 155.59,438.98 155.79,438.98 155.99,438.98 156.19,438.98 156.39,438.98 156.59,438.98 156.79,438.98 157,438.98 157.2,438.98 157.4,438.98 157.6,438.98 157.8,438.98 158,438.98 158.2,438.98 158.4,438.98 158.61,438.98 158.81,438.98 159.01,438.98 159.21,438.98 159.41,438.98 159.61,438.98 159.81,438.98 160.01,438.98 160.22,438.98 160.42,438.98 160.62,438.98 160.82,438.98 161.02,438.98 161.22,438.98 161.42,438.98 161.62,438.97 161.82,438.97 162.03,438.97 162.23,438.97 162.43,438.97 162.63,438.97 162.83,438.97 163.03,438.97 163.23,438.97 163.43,438.97 163.64,438.97 163.84,438.97 164.04,438.97 164.24,438.97 164.44,438.97 164.64,438.97 164.84,438.97 165.04,438.97 165.25,438.97 165.45,438.97 165.65,438.97 165.85,438.97 166.05,438.97 166.25,438.97 166.45,438.96 166.65,438.96 166.85,438.96 167.06,438.96 167.26,438.96 167.46,438.96 167.66,438.96 167.86,438.96 168.06,438.96 168.26,438.96 168.46,438.95 168.67,438.95 168.87,438.95 169.07,438.95 169.27,438.95 169.47,438.95 169.67,438.94 169.87,438.94 170.07,438.94 170.28,438.94 170.48,438.93 170.68,438.93 170.88,438.92 171.08,438.92 171.28,438.91 171.48,438.91 171.68,438.9 171.88,438.89 172.09,438.87 172.29,438.86 172.49,438.84 172.69,438.81 172.89,438.78 173.09,438.74 173.29,438.7 173.49,438.64 173.7,438.58 173.9,438.51 174.1,438.42 174.3,438.33 174.5,438.22 174.7,438.1 174.9,437.98 175.1,437.85 175.31,437.72 175.51,437.6 175.71,437.48 175.91,437.37 176.11,437.28 176.31,437.22 176.51,437.18 176.71,437.18 176.91,437.22 177.12,437.28 177.32,437.37 177.52,437.47 177.72,437.59 177.92,437.72 178.12,437.85 178.32,437.98 178.52,438.1 178.73,438.21 178.93,438.32 179.13,438.41 179.33,438.5 179.53,438.57 179.73,438.64 179.93,438.69 180.13,438.73 180.34,438.77 180.54,438.8 180.74,438.83 180.94,438.85 181.14,438.86 181.34,438.87 181.54,438.88 181.74,438.89 181.94,438.9 182.15,438.9 182.35,438.91 182.55,438.91 182.75,438.91 182.95,438.92 183.15,438.92 183.35,438.92 183.55,438.92 183.76,438.92 183.96,438.93 184.16,438.93 184.36,438.93 184.56,438.93 184.76,438.93 184.96,438.93 185.16,438.93 185.37,438.93 185.57,438.93 185.77,438.93 185.97,438.93 186.17,438.93 186.37,438.93 186.57,438.93 186.77,438.93 186.97,438.93 187.18,438.93 187.38,438.93 187.58,438.92 187.78,438.92 187.98,438.92 188.18,438.92 188.38,438.92 188.58,438.92 188.79,438.92 188.99,438.91 189.19,438.91 189.39,438.91 189.59,438.91 189.79,438.91 189.99,438.9 190.19,438.9 190.4,438.9 190.6,438.89 190.8,438.89 191,438.89 191.2,438.88 191.4,438.88 191.6,438.87 191.8,438.87 192,438.86 192.21,438.86 192.41,438.85 192.61,438.85 192.81,438.84 193.01,438.83 193.21,438.82 193.41,438.81 193.61,438.81 193.82,438.79 194.02,438.78 194.22,438.77 194.42,438.75 194.62,438.74 194.82,438.72 195.02,438.69 195.22,438.66 195.43,438.63 195.63,438.59 195.83,438.54 196.03,438.47 196.23,438.39 196.43,438.29 196.63,438.17 196.83,438.02 197.03,437.83 197.24,437.61 197.44,437.35 197.64,437.05 197.84,436.7 198.04,436.3 198.24,435.85 198.44,435.36 198.64,434.83 198.85,434.27 199.05,433.7 199.25,433.13 199.45,432.58 199.65,432.07 199.85,431.63 200.05,431.28 200.25,431.07 200.46,430.99 200.66,431.07 200.86,431.28 201.06,431.63 201.26,432.07 201.46,432.58 201.66,433.13 201.86,433.7 202.06,434.28 202.27,434.83 202.47,435.36 202.67,435.85 202.87,436.3 203.07,436.7 203.27,437.05 203.47,437.36 203.67,437.62 203.88,437.84 204.08,438.02 204.28,438.17 204.48,438.29 204.68,438.39 204.88,438.47 205.08,438.54 205.28,438.59 205.49,438.63 205.69,438.67 205.89,438.7 206.09,438.72 206.29,438.74 206.49,438.76 206.69,438.77 206.89,438.79 207.09,438.8 207.3,438.81 207.5,438.82 207.7,438.83 207.9,438.84 208.1,438.85 208.3,438.85 208.5,438.86 208.7,438.87 208.91,438.87 209.11,438.88 209.31,438.88 209.51,438.89 209.71,438.89 209.91,438.9 210.11,438.9 210.31,438.9 210.52,438.91 210.72,438.91 210.92,438.91 211.12,438.92 211.32,438.92 211.52,438.92 211.72,438.92 211.92,438.93 212.12,438.93 212.33,438.93 212.53,438.93 212.73,438.94 212.93,438.94 213.13,438.94 213.33,438.94 213.53,438.94 213.73,438.94 213.94,438.95 214.14,438.95 214.34,438.95 214.54,438.95 214.74,438.95 214.94,438.95 215.14,438.95 215.34,438.95 215.55,438.96 215.75,438.96 215.95,438.96 216.15,438.96 216.35,438.96 216.55,438.96 216.75,438.96 216.95,438.96 217.15,438.96 217.36,438.96 217.56,438.96 217.76,438.97 217.96,438.97 218.16,438.97 218.36,438.97 218.56,438.97 218.76,438.97 218.97,438.97 219.17,438.97 219.37,438.97 219.57,438.97 219.77,438.97 219.97,438.97 220.17,438.97 220.37,438.97 220.58,438.97 220.78,438.97 220.98,438.97 221.18,438.97 221.38,438.97 221.58,438.98 221.78,438.98 221.98,438.98 222.18,438.98 222.39,438.98 222.59,438.98 222.79,438.98 222.99,438.98 223.19,438.98 223.39,438.98 223.59,438.98 223.79,438.98 224,438.98 224.2,438.98 224.4,438.98 224.6,438.98 224.8,438.98 225,438.98 225.2,438.98 225.4,438.98 225.61,438.98 225.81,438.98 226.01,438.98 226.21,438.98 226.41,438.98 226.61,438.98 226.81,438.98 227.01,438.98 227.21,438.98 227.42,438.98 227.62,438.98 227.82,438.98 228.02,438.98 228.22,438.98 228.42,438.98 228.62,438.98 228.82,438.98 229.03,438.98 229.23,438.98 229.43,438.98 229.63,438.99 229.83,438.99 230.03,438.99 230.23,438.99 230.43,438.99 230.64,438.99 230.84,438.99 231.04,438.99 231.24,438.99 231.44,438.99 231.64,438.99 231.84,438.99 232.04,438.99 232.24,438.99 232.45,438.99 232.65,438.99 232.85,438.99 233.05,438.99 233.25,438.99 233.45,438.99 233.65,438.99 233.85,438.99 234.06,438.99 234.26,438.99 234.46,438.99 234.66,438.99 234.86,438.99 235.06,438.99 235.26,438.99 235.46,438.99 235.67,438.99 235.87,438.99 236.07,438.99 236.27,438.99 236.47,438.99 236.67,438.99 236.87,438.99 237.07,438.99 237.27,438.99 237.48,438.99 237.68,438.99 237.88,438.99 238.08,438.99 238.28,438.99 238.48,438.99 238.68,438.99 238.88,438.99 239.09,438.99 239.29,438.99 239.49,438.99 239.69,438.99 239.89,438.99 240.09,438.99 240.29,438.99 240.49,438.99 240.7,438.99 240.9,438.99 241.1,438.99 241.3,438.99 241.5,438.99 241.7,438.99 241.9,438.99 242.1,438.99 242.3,438.99 242.51,438.99 242.71,438.99 242.91,438.99 243.11,438.99 243.31,438.99 243.51,438.99 243.71,438.99 243.91,438.99 244.12,438.99 244.32,438.99 244.52,438.99 244.72,438.99 244.92,438.99 245.12,438.99 245.32,438.99 245.52,438.99 245.73,438.99 245.93,438.99 246.13,438.99 246.33,438.99 246.53,438.99 246.73,438.99 246.93,438.99 247.13,438.99 247.33,438.99 247.54,438.99 247.74,438.99 247.94,438.99 248.14,438.99 248.34,438.99 248.54,438.99 248.74,438.99 248.94,438.99 249.15,438.99 249.35,438.99 249.55,438.99 249.75,438.99 249.95,438.99 250.15,438.99 250.35,438.99 250.55,438.99 250.76,438.99 250.96,438.99 251.16,438.99 251.36,438.99 251.56,438.99 251.76,438.99 251.96,438.99 252.16,438.99 252.36,438.99 252.57,438.99 252.77,438.99 252.97,438.99 253.17,438.99 253.37,438.99 253.57,438.99 253.77,438.99 253.97,438.99 254.18,438.99 254.38,438.99 254.58,438.99 254.78,438.99 254.98,438.99 255.18,438.99 255.38,438.99 255.58,438.99 255.79,438.99 255.99,438.99 256.19,438.99 256.39,438.99 256.59,438.99 256.79,438.99 256.99,438.99 257.19,438.99 257.39,438.99 257.6,438.99 257.8,438.99 258,438.99 258.2,438.99 258.4,438.99 258.6,438.99 258.8,438.99 259,438.99 259.21,438.99 259.41,438.99 259.61,438.99 259.81,438.98 260.01,438.98 260.21,438.98 260.41,438.98 260.61,438.98 260.82,438.98 261.02,438.98 261.22,438.98 261.42,438.98 261.62,438.98 261.82,438.98 262.02,438.98 262.22,438.98 262.42,438.98 262.63,438.98 262.83,438.98 263.03,438.98 263.23,438.98 263.43,438.98 263.63,438.98 263.83,438.98 264.03,438.98 264.24,438.98 264.44,438.98 264.64,438.98 264.84,438.98 265.04,438.98 265.24,438.98 265.44,438.98 265.64,438.98 265.85,438.98 266.05,438.97 266.25,438.97 266.45,438.97 266.65,438.97 266.85,438.97 267.05,438.97 267.25,438.97 267.45,438.97 267.66,438.97 267.86,438.97 268.06,438.97 268.26,438.97 268.46,438.97 268.66,438.97 268.86,438.96 269.06,438.96 269.27,438.96 269.47,438.96 269.67,438.96 269.87,438.96 270.07,438.96 270.27,438.96 270.47,438.95 270.67,438.95 270.88,438.95 271.08,438.95 271.28,438.95 271.48,438.94 271.68,438.94 271.88,438.94 272.08,438.94 272.28,438.93 272.48,438.93 272.69,438.92 272.89,438.92 273.09,438.91 273.29,438.91 273.49,438.9 273.69,438.89 273.89,438.88 274.09,438.87 274.3,438.86 274.5,438.85 274.7,438.83 274.9,438.81 275.1,438.8 275.3,438.77 275.5,438.75 275.7,438.73 275.91,438.7 276.11,438.67 276.31,438.63 276.51,438.6 276.71,438.56 276.91,438.51 277.11,438.47 277.31,438.42 277.51,438.37 277.72,438.32 277.92,438.26 278.12,438.2 278.32,438.14 278.52,438.08 278.72,438.02 278.92,437.96 279.12,437.9 279.33,437.84 279.53,437.78 279.73,437.72 279.93,437.67 280.13,437.63 280.33,437.59 280.53,437.55 280.73,437.53 280.94,437.51 281.14,437.5 281.34,437.5 281.54,437.51 281.74,437.53 281.94,437.55 282.14,437.59 282.34,437.63 282.54,437.67 282.75,437.73 282.95,437.78 283.15,437.84 283.35,437.9 283.55,437.96 283.75,438.02 283.95,438.08 284.15,438.14 284.36,438.2 284.56,438.26 284.76,438.32 284.96,438.37 285.16,438.42 285.36,438.47 285.56,438.51 285.76,438.56 285.97,438.6 286.17,438.63 286.37,438.67 286.57,438.7 286.77,438.73 286.97,438.75 287.17,438.78 287.37,438.8 287.57,438.82 287.78,438.83 287.98,438.85 288.18,438.86 288.38,438.87 288.58,438.88 288.78,438.89 288.98,438.9 289.18,438.91 289.39,438.91 289.59,438.92 289.79,438.92 289.99,438.93 290.19,438.93 290.39,438.94 290.59,438.94 290.79,438.94 291,438.95 291.2,438.95 291.4,438.95 291.6,438.95 291.8,438.95 292,438.96 292.2,438.96 292.4,438.96 292.6,438.96 292.81,438.96 293.01,438.96 293.21,438.96 293.41,438.96 293.61,438.97 293.81,438.97 294.01,438.97 294.21,438.97 294.42,438.97 294.62,438.97 294.82,438.97 295.02,438.97 295.22,438.97 295.42,438.97 295.62,438.97 295.82,438.97 296.03,438.98 296.23,438.98 296.43,438.98 296.63,438.98 296.83,438.98 297.03,438.98 297.23,438.98 297.43,438.98 297.63,438.98 297.84,438.98 298.04,438.98 298.24,438.98 298.44,438.98 298.64,438.98 298.84,438.98 299.04,438.98 299.24,438.98 299.45,438.98 299.65,438.98 299.85,438.98 300.05,438.98 300.25,438.98 300.45,438.98 300.65,438.98 300.85,438.98 301.06,438.99 301.26,438.99 301.46,438.99 301.66,438.99 301.86,438.99 302.06,438.99 302.26,438.99 302.46,438.99 302.66,438.99 302.87,438.99 303.07,438.99 303.27,438.99 303.47,438.99 303.67,438.99 303.87,438.99 304.07,438.99 304.27,438.99 304.48,438.99 304.68,438.99 304.88,438.99 305.08,438.99 305.28,438.99 305.48,438.99 305.68,438.99 305.88,438.99 306.09,438.99 306.29,438.99 306.49,438.99 306.69,438.99 306.89,438.99 307.09,438.99 307.29,438.99 307.49,438.99 307.69,438.99 307.9,438.99 308.1,438.99 308.3,438.99 308.5,438.99 308.7,438.99 308.9,438.99 309.1,438.99 309.3,438.99 309.51,438.99 309.71,438.99 309.91,438.99 310.11,438.99 310.31,438.99 310.51,438.99 310.71,438.99 310.91,438.99 311.12,438.99 311.32,438.99 311.52,438.99 311.72,438.99" fill="none" stroke="#000" stroke-width="1.5" stroke-linejoin="round"/><polyline points="60.42,485.99 60.62,485.99 60.82,485.99 61.02,485.99 61.22,485.99 61.43,485.99 61.63,485.99 61.83,485.99 62.03,485.99 62.23,485.99 62.43,485.99 62.63,485.99 62.83,485.99 63.04,485.99 63.24,485.99 63.44,485.99 63.64,485.99 63.84,485.99 64.04,485.99 64.24,485.99 64.44,485.99 64.65,485.99 64.85,485.99 65.05,485.98 65.25,485.98 65.45,485.98 65.65,485.98 65.85,485.98 66.05,485.98 66.25,485.98 66.46,485.98 66.66,485.98 66.86,485.98 67.06,485.98 67.26,485.98 67.46,485.98 67.66,485.98 67.86,485.98 68.07,485.98 68.27,485.98 68.47,485.98 68.67,485.98 68.87,485.98 69.07,485.98 69.27,485.98 69.47,485.98 69.68,485.98 69.88,485.98 70.08,485.98 70.28,485.98 70.48,485.98 70.68,485.98 70.88,485.98 71.08,485.98 71.28,485.98 71.49,485.98 71.69,485.98 71.89,485.98 72.09,485.98 72.29,485.98 72.49,485.98 72.69,485.98 72.89,485.98 73.1,485.98 73.3,485.98 73.5,485.98 73.7,485.98 73.9,485.98 74.1,485.98 74.3,485.98 74.5,485.98 74.71,485.98 74.91,485.97 75.11,485.97 75.31,485.97 75.51,485.97 75.71,485.97 75.91,485.97 76.11,485.97 76.31,485.97 76.52,485.97 76.72,485.97 76.92,485.97 77.12,485.97 77.32,485.97 77.52,485.97 77.72,485.97 77.92,485.97 78.13,485.97 78.33,485.97 78.53,485.97 78.73,485.97 78.93,485.97 79.13,485.97 79.33,485.97 79.53,485.97 79.74,485.96 79.94,485.96 80.14,485.96 80.34,485.96 80.54,485.96 80.74,485.96 80.94,485.96 81.14,485.96 81.34,485.96 81.55,485.96 81.75,485.96 81.95,485.96 82.15,485.96 82.35,485.96 82.55,485.96 82.75,485.95 82.95,485.95 83.16,485.95 83.36,485.95 83.56,485.95 83.76,485.95 83.96,485.95 84.16,485.95 84.36,485.95 84.56,485.95 84.77,485.94 84.97,485.94 85.17,485.94 85.37,485.94 85.57,485.94 85.77,485.94 85.97,485.94 86.17,485.93 86.37,485.93 86.58,485.93 86.78,485.93 86.98,485.93 87.18,485.93 87.38,485.92 87.58,485.92 87.78,485.92 87.98,485.92 88.19,485.91 88.39,485.91 88.59,485.91 88.79,485.91 88.99,485.9 89.19,485.9 89.39,485.9 89.59,485.89 89.8,485.89 90,485.88 90.2,485.88 90.4,485.87 90.6,485.87 90.8,485.86 91,485.86 91.2,485.85 91.4,485.84 91.61,485.84 91.81,485.83 92.01,485.82 92.21,485.81 92.41,485.8 92.61,485.79 92.81,485.78 93.01,485.76 93.22,485.75 93.42,485.73 93.62,485.71 93.82,485.68 94.02,485.66 94.22,485.63 94.42,485.59 94.62,485.54 94.83,485.47 95.03,485.39 95.23,485.27 95.43,485.1 95.63,484.87 95.83,484.55 96.03,484.12 96.23,483.57 96.43,482.87 96.64,482.02 96.84,481.02 97.04,479.91 97.24,478.72 97.44,477.54 97.64,476.47 97.84,475.64 98.04,475.18 98.25,475.17 98.45,475.63 98.65,476.46 98.85,477.53 99.05,478.7 99.25,479.89 99.45,481 99.65,481.99 99.86,482.84 100.06,483.53 100.26,484.08 100.46,484.5 100.66,484.82 100.86,485.04 101.06,485.21 101.26,485.32 101.46,485.4 101.67,485.46 101.87,485.51 102.07,485.54 102.27,485.57 102.47,485.59 102.67,485.6 102.87,485.62 103.07,485.63 103.28,485.64 103.48,485.65 103.68,485.65 103.88,485.66 104.08,485.66 104.28,485.66 104.48,485.66 104.68,485.66 104.89,485.66 105.09,485.66 105.29,485.65 105.49,485.65 105.69,485.64 105.89,485.63 106.09,485.62 106.29,485.62 106.49,485.6 106.7,485.59 106.9,485.58 107.1,485.56 107.3,485.55 107.5,485.53 107.7,485.51 107.9,485.49 108.1,485.46 108.31,485.44 108.51,485.41 108.71,485.38 108.91,485.34 109.11,485.3 109.31,485.26 109.51,485.21 109.71,485.15 109.92,485.09 110.12,485.02 110.32,484.94 110.52,484.85 110.72,484.74 110.92,484.61 111.12,484.44 111.32,484.23 111.52,483.95 111.73,483.56 111.93,483.05 112.13,482.34 112.33,481.39 112.53,480.12 112.73,478.47 112.93,476.37 113.13,473.78 113.34,470.69 113.54,467.12 113.74,463.16 113.94,458.96 114.14,454.72 114.34,450.77 114.54,447.47 114.74,445.26 114.95,444.48 115.15,445.26 115.35,447.48 115.55,450.77 115.75,454.73 115.95,458.96 116.15,463.17 116.35,467.13 116.55,470.7 116.76,473.79 116.96,476.38 117.16,478.48 117.36,480.13 117.56,481.4 117.76,482.35 117.96,483.06 118.16,483.58 118.37,483.96 118.57,484.24 118.77,484.46 118.97,484.63 119.17,484.76 119.37,484.87 119.57,484.97 119.77,485.05 119.98,485.12 120.18,485.18 120.38,485.24 120.58,485.29 120.78,485.33 120.98,485.37 121.18,485.41 121.38,485.44 121.58,485.48 121.79,485.5 121.99,485.53 122.19,485.55 122.39,485.58 122.59,485.6 122.79,485.62 122.99,485.64 123.19,485.65 123.4,485.67 123.6,485.68 123.8,485.7 124,485.71 124.2,485.72 124.4,485.73 124.6,485.74 124.8,485.75 125.01,485.76 125.21,485.77 125.41,485.78 125.61,485.78 125.81,485.79 126.01,485.8 126.21,485.81 126.41,485.81 126.61,485.82 126.82,485.82 127.02,485.83 127.22,485.83 127.42,485.84 127.62,485.84 127.82,485.85 128.02,485.85 128.22,485.86 128.43,485.86 128.63,485.86 128.83,485.87 129.03,485.87 129.23,485.87 129.43,485.88 129.63,485.88 129.83,485.88 130.04,485.88 130.24,485.89 130.44,485.89 130.64,485.89 130.84,485.89 131.04,485.9 131.24,485.9 131.44,485.9 131.64,485.9 131.85,485.9 132.05,485.9 132.25,485.91 132.45,485.91 132.65,485.91 132.85,485.91 133.05,485.91 133.25,485.91 133.46,485.91 133.66,485.92 133.86,485.92 134.06,485.92 134.26,485.92 134.46,485.92 134.66,485.92 134.86,485.92 135.07,485.92 135.27,485.92 135.47,485.92 135.67,485.92 135.87,485.92 136.07,485.92 136.27,485.92 136.47,485.92 136.67,485.92 136.88,485.92 137.08,485.92 137.28,485.92 137.48,485.92 137.68,485.92 137.88,485.92 138.08,485.92 138.28,485.91 138.49,485.91 138.69,485.91 138.89,485.91 139.09,485.91 139.29,485.9 139.49,485.9 139.69,485.89 139.89,485.89 140.1,485.88 140.3,485.87 140.5,485.86 140.7,485.85 140.9,485.83 141.1,485.8 141.3,485.77 141.5,485.72 141.7,485.66 141.91,485.58 142.11,485.49 142.31,485.37 142.51,485.22 142.71,485.06 142.91,484.87 143.11,484.67 143.31,484.46 143.52,484.25 143.72,484.06 143.92,483.91 144.12,483.8 144.32,483.77 144.52,483.8 144.72,483.91 144.92,484.06 145.13,484.25 145.33,484.46 145.53,484.67 145.73,484.87 145.93,485.06 146.13,485.23 146.33,485.37 146.53,485.49 146.73,485.59 146.94,485.67 147.14,485.73 147.34,485.78 147.54,485.82 147.74,485.84 147.94,485.86 148.14,485.88 148.34,485.89 148.55,485.9 148.75,485.91 148.95,485.91 149.15,485.92 149.35,485.92 149.55,485.93 149.75,485.93 149.95,485.93 150.16,485.94 150.36,485.94 150.56,485.94 150.76,485.94 150.96,485.94 151.16,485.95 151.36,485.95 151.56,485.95 151.76,485.95 151.97,485.95 152.17,485.95 152.37,485.96 152.57,485.96 152.77,485.96 152.97,485.96 153.17,485.96 153.37,485.96 153.58,485.96 153.78,485.96 153.98,485.96 154.18,485.96 154.38,485.96 154.58,485.96 154.78,485.97 154.98,485.97 155.19,485.97 155.39,485.97 155.59,485.97 155.79,485.97 155.99,485.97 156.19,485.97 156.39,485.97 156.59,485.97 156.79,485.97 157,485.97 157.2,485.97 157.4,485.97 157.6,485.97 157.8,485.97 158,485.97 158.2,485.97 158.4,485.97 158.61,485.97 158.81,485.97 159.01,485.97 159.21,485.97 159.41,485.97 159.61,485.97 159.81,485.97 160.01,485.97 160.22,485.97 160.42,485.97 160.62,485.97 160.82,485.97 161.02,485.97 161.22,485.97 161.42,485.97 161.62,485.97 161.82,485.97 162.03,485.97 162.23,485.97 162.43,485.97 162.63,485.97 162.83,485.97 163.03,485.97 163.23,485.97 163.43,485.97 163.64,485.97 163.84,485.97 164.04,485.97 164.24,485.97 164.44,485.97 164.64,485.97 164.84,485.97 165.04,485.97 165.25,485.97 165.45,485.97 165.65,485.97 165.85,485.97 166.05,485.97 166.25,485.97 166.45,485.97 166.65,485.97 166.85,485.97 167.06,485.97 167.26,485.97 167.46,485.97 167.66,485.97 167.86,485.97 168.06,485.97 168.26,485.97 168.46,485.97 168.67,485.96 168.87,485.96 169.07,485.96 169.27,485.96 169.47,485.96 169.67,485.96 169.87,485.96 170.07,485.96 170.28,485.96 170.48,485.95 170.68,485.95 170.88,485.95 171.08,485.95 171.28,485.94 171.48,485.94 171.68,485.94 171.88,485.93 172.09,485.93 172.29,485.92 172.49,485.91 172.69,485.9 172.89,485.89 173.09,485.87 173.29,485.85 173.49,485.83 173.7,485.8 173.9,485.76 174.1,485.72 174.3,485.67 174.5,485.61 174.7,485.55 174.9,485.47 175.1,485.4 175.31,485.31 175.51,485.22 175.71,485.13 175.91,485.03 176.11,484.94 176.31,484.86 176.51,484.79 176.71,484.73 176.91,484.7 177.12,484.69 177.32,484.7 177.52,484.73 177.72,484.79 177.92,484.86 178.12,484.94 178.32,485.03 178.52,485.13 178.73,485.22 178.93,485.31 179.13,485.39 179.33,485.47 179.53,485.55 179.73,485.61 179.93,485.67 180.13,485.72 180.34,485.76 180.54,485.8 180.74,485.83 180.94,485.85 181.14,485.87 181.34,485.89 181.54,485.9 181.74,485.91 181.94,485.92 182.15,485.93 182.35,485.93 182.55,485.94 182.75,485.94 182.95,485.94 183.15,485.94 183.35,485.95 183.55,485.95 183.76,485.95 183.96,485.95 184.16,485.95 184.36,485.96 184.56,485.96 184.76,485.96 184.96,485.96 185.16,485.96 185.37,485.96 185.57,485.96 185.77,485.96 185.97,485.96 186.17,485.96 186.37,485.96 186.57,485.96 186.77,485.96 186.97,485.96 187.18,485.96 187.38,485.96 187.58,485.96 187.78,485.96 187.98,485.96 188.18,485.96 188.38,485.96 188.58,485.96 188.79,485.96 188.99,485.96 189.19,485.96 189.39,485.96 189.59,485.96 189.79,485.96 189.99,485.96 190.19,485.96 190.4,485.96 190.6,485.96 190.8,485.96 191,485.96 191.2,485.96 191.4,485.96 191.6,485.96 191.8,485.96 192,485.95 192.21,485.95 192.41,485.95 192.61,485.95 192.81,485.95 193.01,485.95 193.21,485.95 193.41,485.94 193.61,485.94 193.82,485.94 194.02,485.94 194.22,485.93 194.42,485.93 194.62,485.93 194.82,485.92 195.02,485.92 195.22,485.91 195.43,485.91 195.63,485.9 195.83,485.9 196.03,485.89 196.23,485.88 196.43,485.86 196.63,485.85 196.83,485.83 197.03,485.8 197.24,485.77 197.44,485.73 197.64,485.69 197.84,485.63 198.04,485.56 198.24,485.48 198.44,485.38 198.64,485.27 198.85,485.15 199.05,485.01 199.25,484.85 199.45,484.69 199.65,484.52 199.85,484.34 200.05,484.16 200.25,483.99 200.46,483.83 200.66,483.69 200.86,483.58 201.06,483.51 201.26,483.49 201.46,483.51 201.66,483.58 201.86,483.69 202.06,483.83 202.27,483.99 202.47,484.16 202.67,484.34 202.87,484.52 203.07,484.69 203.27,484.86 203.47,485.01 203.67,485.15 203.88,485.27 204.08,485.38 204.28,485.48 204.48,485.56 204.68,485.63 204.88,485.69 205.08,485.73 205.28,485.77 205.49,485.8 205.69,485.83 205.89,485.85 206.09,485.87 206.29,485.88 206.49,485.89 206.69,485.9 206.89,485.91 207.09,485.91 207.3,485.92 207.5,485.92 207.7,485.93 207.9,485.93 208.1,485.93 208.3,485.94 208.5,485.94 208.7,485.94 208.91,485.95 209.11,485.95 209.31,485.95 209.51,485.95 209.71,485.95 209.91,485.96 210.11,485.96 210.31,485.96 210.52,485.96 210.72,485.96 210.92,485.96 211.12,485.96 211.32,485.96 211.52,485.97 211.72,485.97 211.92,485.97 212.12,485.97 212.33,485.97 212.53,485.97 212.73,485.97 212.93,485.97 213.13,485.97 213.33,485.97 213.53,485.97 213.73,485.97 213.94,485.97 214.14,485.98 214.34,485.98 214.54,485.98 214.74,485.98 214.94,485.98 215.14,485.98 215.34,485.98 215.55,485.98 215.75,485.98 215.95,485.98 216.15,485.98 216.35,485.98 216.55,485.98 216.75,485.98 216.95,485.98 217.15,485.98 217.36,485.98 217.56,485.98 217.76,485.98 217.96,485.98 218.16,485.98 218.36,485.98 218.56,485.98 218.76,485.98 218.97,485.98 219.17,485.98 219.37,485.98 219.57,485.98 219.77,485.98 219.97,485.98 220.17,485.98 220.37,485.98 220.58,485.98 220.78,485.98 220.98,485.99 221.18,485.99 221.38,485.99 221.58,485.99 221.78,485.99 221.98,485.99 222.18,485.99 222.39,485.99 222.59,485.99 222.79,485.99 222.99,485.99 223.19,485.99 223.39,485.99 223.59,485.99 223.79,485.99 224,485.99 224.2,485.99 224.4,485.99 224.6,485.99 224.8,485.99 225,485.99 225.2,485.99 225.4,485.99 225.61,485.99 225.81,485.99 226.01,485.99 226.21,485.99 226.41,485.99 226.61,485.99 226.81,485.99 227.01,485.99 227.21,485.99 227.42,485.99 227.62,485.99 227.82,485.99 228.02,485.99 228.22,485.99 228.42,485.99 228.62,485.99 228.82,485.99 229.03,485.99 229.23,485.99 229.43,485.99 229.63,485.99 229.83,485.99 230.03,485.99 230.23,485.99 230.43,485.99 230.64,485.99 230.84,485.99 231.04,485.99 231.24,485.99 231.44,485.99 231.64,485.99 231.84,485.99 232.04,485.99 232.24,485.99 232.45,485.99 232.65,485.99 232.85,485.99 233.05,485.99 233.25,485.99 233.45,485.99 233.65,485.99 233.85,485.99 234.06,485.99 234.26,485.99 234.46,485.99 234.66,485.99 234.86,485.99 235.06,485.99 235.26,485.99 235.46,485.99 235.67,485.99 235.87,485.99 236.07,485.99 236.27,485.99 236.47,485.99 236.67,485.99 236.87,485.99 237.07,485.99 237.27,485.99 237.48,485.99 237.68,485.99 237.88,485.99 238.08,485.99 238.28,485.99 238.48,485.99 238.68,485.99 238.88,485.99 239.09,485.99 239.29,485.99 239.49,485.99 239.69,485.99 239.89,485.99 240.09,485.99 240.29,485.99 240.49,485.99 240.7,485.99 240.9,485.99 241.1,485.99 241.3,485.99 241.5,485.99 241.7,485.99 241.9,485.99 242.1,485.99 242.3,485.99 242.51,485.99 242.71,485.99 242.91,485.99 243.11,485.99 243.31,485.99 243.51,485.99 243.71,485.99 243.91,485.99 244.12,485.99 244.32,485.99 244.52,485.99 244.72,485.99 244.92,485.99 245.12,485.99 245.32,485.99 245.52,485.99 245.73,485.99 245.93,485.99 246.13,485.99 246.33,485.99 246.53,485.99 246.73,485.99 246.93,485.99 247.13,485.99 247.33,485.99 247.54,485.99 247.74,485.99 247.94,485.99 248.14,485.98 248.34,485.98 248.54,485.98 248.74,485.98 248.94,485.98 249.15,485.98 249.35,485.98 249.55,485.98 249.75,485.98 249.95,485.98 250.15,485.98 250.35,485.98 250.55,485.98 250.76,485.98 250.96,485.98 251.16,485.98 251.36,485.98 251.56,485.98 251.76,485.98 251.96,485.98 252.16,485.98 252.36,485.98 252.57,485.98 252.77,485.98 252.97,485.98 253.17,485.98 253.37,485.98 253.57,485.98 253.77,485.98 253.97,485.98 254.18,485.98 254.38,485.98 254.58,485.98 254.78,485.98 254.98,485.98 255.18,485.98 255.38,485.98 255.58,485.98 255.79,485.98 255.99,485.98 256.19,485.98 256.39,485.98 256.59,485.98 256.79,485.98 256.99,485.98 257.19,485.98 257.39,485.98 257.6,485.98 257.8,485.98 258,485.98 258.2,485.98 258.4,485.98 258.6,485.98 258.8,485.98 259,485.98 259.21,485.97 259.41,485.97 259.61,485.97 259.81,485.97 260.01,485.97 260.21,485.97 260.41,485.97 260.61,485.97 260.82,485.97 261.02,485.97 261.22,485.97 261.42,485.97 261.62,485.97 261.82,485.97 262.02,485.97 262.22,485.97 262.42,485.97 262.63,485.97 262.83,485.97 263.03,485.97 263.23,485.97 263.43,485.97 263.63,485.97 263.83,485.97 264.03,485.97 264.24,485.96 264.44,485.96 264.64,485.96 264.84,485.96 265.04,485.96 265.24,485.96 265.44,485.96 265.64,485.96 265.85,485.96 266.05,485.96 266.25,485.96 266.45,485.96 266.65,485.96 266.85,485.96 267.05,485.96 267.25,485.95 267.45,485.95 267.66,485.95 267.86,485.95 268.06,485.95 268.26,485.95 268.46,485.95 268.66,485.95 268.86,485.95 269.06,485.95 269.27,485.94 269.47,485.94 269.67,485.94 269.87,485.94 270.07,485.94 270.27,485.94 270.47,485.94 270.67,485.94 270.88,485.93 271.08,485.93 271.28,485.93 271.48,485.93 271.68,485.93 271.88,485.93 272.08,485.92 272.28,485.92 272.48,485.92 272.69,485.92 272.89,485.92 273.09,485.91 273.29,485.91 273.49,485.91 273.69,485.91 273.89,485.91 274.09,485.9 274.3,485.9 274.5,485.9 274.7,485.89 274.9,485.89 275.1,485.89 275.3,485.88 275.5,485.88 275.7,485.88 275.91,485.87 276.11,485.87 276.31,485.86 276.51,485.86 276.71,485.85 276.91,485.85 277.11,485.84 277.31,485.84 277.51,485.83 277.72,485.83 277.92,485.82 278.12,485.81 278.32,485.8 278.52,485.8 278.72,485.79 278.92,485.78 279.12,485.76 279.33,485.75 279.53,485.74 279.73,485.72 279.93,485.7 280.13,485.68 280.33,485.66 280.53,485.64 280.73,485.61 280.94,485.57 281.14,485.53 281.34,485.48 281.54,485.43 281.74,485.37 281.94,485.3 282.14,485.22 282.34,485.12 282.54,485.02 282.75,484.9 282.95,484.76 283.15,484.61 283.35,484.44 283.55,484.25 283.75,484.04 283.95,483.82 284.15,483.57 284.36,483.31 284.56,483.03 284.76,482.73 284.96,482.41 285.16,482.09 285.36,481.75 285.56,481.41 285.76,481.06 285.97,480.72 286.17,480.39 286.37,480.06 286.57,479.76 286.77,479.49 286.97,479.25 287.17,479.06 287.37,478.92 287.57,478.83 287.78,478.8 287.98,478.83 288.18,478.92 288.38,479.06 288.58,479.25 288.78,479.49 288.98,479.76 289.18,480.06 289.39,480.39 289.59,480.72 289.79,481.06 289.99,481.41 290.19,481.75 290.39,482.09 290.59,482.41 290.79,482.73 291,483.03 291.2,483.31 291.4,483.57 291.6,483.82 291.8,484.04 292,484.25 292.2,484.44 292.4,484.61 292.6,484.76 292.81,484.9 293.01,485.02 293.21,485.12 293.41,485.22 293.61,485.3 293.81,485.37 294.01,485.43 294.21,485.48 294.42,485.53 294.62,485.57 294.82,485.61 295.02,485.64 295.22,485.66 295.42,485.69 295.62,485.71 295.82,485.72 296.03,485.74 296.23,485.75 296.43,485.76 296.63,485.78 296.83,485.79 297.03,485.8 297.23,485.8 297.43,485.81 297.63,485.82 297.84,485.83 298.04,485.83 298.24,485.84 298.44,485.84 298.64,485.85 298.84,485.86 299.04,485.86 299.24,485.86 299.45,485.87 299.65,485.87 299.85,485.88 300.05,485.88 300.25,485.88 300.45,485.89 300.65,485.89 300.85,485.89 301.06,485.9 301.26,485.9 301.46,485.9 301.66,485.91 301.86,485.91 302.06,485.91 302.26,485.91 302.46,485.92 302.66,485.92 302.87,485.92 303.07,485.92 303.27,485.92 303.47,485.93 303.67,485.93 303.87,485.93 304.07,485.93 304.27,485.93 304.48,485.93 304.68,485.94 304.88,485.94 305.08,485.94 305.28,485.94 305.48,485.94 305.68,485.94 305.88,485.94 306.09,485.94 306.29,485.95 306.49,485.95 306.69,485.95 306.89,485.95 307.09,485.95 307.29,485.95 307.49,485.95 307.69,485.95 307.9,485.95 308.1,485.95 308.3,485.96 308.5,485.96 308.7,485.96 308.9,485.96 309.1,485.96 309.3,485.96 309.51,485.96 309.71,485.96 309.91,485.96 310.11,485.96 310.31,485.96 310.51,485.96 310.71,485.96 310.91,485.96 311.12,485.97 311.32,485.97 311.52,485.97 311.72,485.97" fill="none" stroke="#cc3a2e" stroke-width="1.5" stroke-linejoin="round"/><polyline points="60.42,531.99 60.62,531.99 60.82,531.99 61.02,531.99 61.22,531.99 61.43,531.99 61.63,531.99 61.83,531.99 62.03,531.99 62.23,531.99 62.43,531.99 62.63,531.99 62.83,531.99 63.04,531.99 63.24,531.99 63.44,531.99 63.64,531.99 63.84,531.99 64.04,531.99 64.24,531.98 64.44,531.98 64.65,531.98 64.85,531.98 65.05,531.98 65.25,531.98 65.45,531.98 65.65,531.98 65.85,531.98 66.05,531.98 66.25,531.98 66.46,531.98 66.66,531.98 66.86,531.98 67.06,531.98 67.26,531.98 67.46,531.98 67.66,531.98 67.86,531.98 68.07,531.98 68.27,531.98 68.47,531.98 68.67,531.98 68.87,531.98 69.07,531.98 69.27,531.98 69.47,531.98 69.68,531.98 69.88,531.98 70.08,531.98 70.28,531.98 70.48,531.98 70.68,531.98 70.88,531.98 71.08,531.98 71.28,531.98 71.49,531.98 71.69,531.98 71.89,531.98 72.09,531.98 72.29,531.98 72.49,531.98 72.69,531.97 72.89,531.97 73.1,531.97 73.3,531.97 73.5,531.97 73.7,531.97 73.9,531.97 74.1,531.97 74.3,531.97 74.5,531.97 74.71,531.97 74.91,531.97 75.11,531.97 75.31,531.97 75.51,531.97 75.71,531.97 75.91,531.97 76.11,531.97 76.31,531.97 76.52,531.97 76.72,531.97 76.92,531.96 77.12,531.96 77.32,531.96 77.52,531.96 77.72,531.96 77.92,531.96 78.13,531.96 78.33,531.96 78.53,531.96 78.73,531.96 78.93,531.96 79.13,531.96 79.33,531.96 79.53,531.96 79.74,531.95 79.94,531.95 80.14,531.95 80.34,531.95 80.54,531.95 80.74,531.95 80.94,531.95 81.14,531.95 81.34,531.95 81.55,531.95 81.75,531.94 81.95,531.94 82.15,531.94 82.35,531.94 82.55,531.94 82.75,531.94 82.95,531.94 83.16,531.93 83.36,531.93 83.56,531.93 83.76,531.93 83.96,531.93 84.16,531.93 84.36,531.92 84.56,531.92 84.77,531.92 84.97,531.92 85.17,531.91 85.37,531.91 85.57,531.91 85.77,531.91 85.97,531.9 86.17,531.9 86.37,531.9 86.58,531.9 86.78,531.89 86.98,531.89 87.18,531.89 87.38,531.88 87.58,531.88 87.78,531.87 87.98,531.87 88.19,531.86 88.39,531.86 88.59,531.85 88.79,531.85 88.99,531.84 89.19,531.84 89.39,531.83 89.59,531.82 89.8,531.81 90,531.81 90.2,531.8 90.4,531.79 90.6,531.78 90.8,531.77 91,531.76 91.2,531.74 91.4,531.73 91.61,531.72 91.81,531.7 92.01,531.68 92.21,531.66 92.41,531.64 92.61,531.62 92.81,531.6 93.01,531.57 93.22,531.54 93.42,531.51 93.62,531.47 93.82,531.43 94.02,531.39 94.22,531.34 94.42,531.28 94.62,531.21 94.83,531.13 95.03,531.04 95.23,530.92 95.43,530.76 95.63,530.55 95.83,530.27 96.03,529.87 96.23,529.32 96.43,528.55 96.64,527.52 96.84,526.14 97.04,524.38 97.24,522.19 97.44,519.58 97.64,516.59 97.84,513.33 98.04,509.96 98.25,506.74 98.45,504.01 98.65,502.15 98.85,501.48 99.05,502.15 99.25,504.01 99.45,506.74 99.65,509.96 99.86,513.32 100.06,516.59 100.26,519.58 100.46,522.19 100.66,524.37 100.86,526.13 101.06,527.51 101.26,528.54 101.46,529.31 101.67,529.86 101.87,530.25 102.07,530.54 102.27,530.75 102.47,530.9 102.67,531.02 102.87,531.12 103.07,531.19 103.28,531.26 103.48,531.32 103.68,531.37 103.88,531.41 104.08,531.45 104.28,531.48 104.48,531.51 104.68,531.54 104.89,531.57 105.09,531.59 105.29,531.61 105.49,531.63 105.69,531.64 105.89,531.66 106.09,531.67 106.29,531.68 106.49,531.7 106.7,531.7 106.9,531.71 107.1,531.72 107.3,531.73 107.5,531.73 107.7,531.74 107.9,531.74 108.1,531.75 108.31,531.75 108.51,531.75 108.71,531.75 108.91,531.75 109.11,531.75 109.31,531.75 109.51,531.75 109.71,531.75 109.92,531.74 110.12,531.74 110.32,531.73 110.52,531.72 110.72,531.71 110.92,531.7 111.12,531.69 111.32,531.67 111.52,531.65 111.73,531.62 111.93,531.58 112.13,531.54 112.33,531.47 112.53,531.38 112.73,531.26 112.93,531.11 113.13,530.9 113.34,530.64 113.54,530.3 113.74,529.89 113.94,529.4 114.14,528.84 114.34,528.2 114.54,527.51 114.74,526.8 114.95,526.09 115.15,525.45 115.35,524.92 115.55,524.57 115.75,524.44 115.95,524.57 116.15,524.92 116.35,525.45 116.55,526.1 116.76,526.81 116.96,527.53 117.16,528.22 117.36,528.86 117.56,529.43 117.76,529.92 117.96,530.33 118.16,530.67 118.37,530.93 118.57,531.14 118.77,531.3 118.97,531.42 119.17,531.51 119.37,531.58 119.57,531.63 119.77,531.67 119.98,531.71 120.18,531.73 120.38,531.75 120.58,531.77 120.78,531.79 120.98,531.8 121.18,531.81 121.38,531.82 121.58,531.83 121.79,531.84 121.99,531.85 122.19,531.86 122.39,531.86 122.59,531.87 122.79,531.88 122.99,531.88 123.19,531.89 123.4,531.89 123.6,531.89 123.8,531.9 124,531.9 124.2,531.91 124.4,531.91 124.6,531.91 124.8,531.91 125.01,531.92 125.21,531.92 125.41,531.92 125.61,531.92 125.81,531.93 126.01,531.93 126.21,531.93 126.41,531.93 126.61,531.93 126.82,531.94 127.02,531.94 127.22,531.94 127.42,531.94 127.62,531.94 127.82,531.94 128.02,531.94 128.22,531.94 128.43,531.95 128.63,531.95 128.83,531.95 129.03,531.95 129.23,531.95 129.43,531.95 129.63,531.95 129.83,531.95 130.04,531.95 130.24,531.95 130.44,531.95 130.64,531.95 130.84,531.96 131.04,531.96 131.24,531.96 131.44,531.96 131.64,531.96 131.85,531.96 132.05,531.96 132.25,531.96 132.45,531.96 132.65,531.96 132.85,531.96 133.05,531.96 133.25,531.96 133.46,531.96 133.66,531.96 133.86,531.96 134.06,531.96 134.26,531.96 134.46,531.96 134.66,531.96 134.86,531.96 135.07,531.96 135.27,531.96 135.47,531.96 135.67,531.96 135.87,531.96 136.07,531.96 136.27,531.96 136.47,531.96 136.67,531.96 136.88,531.95 137.08,531.95 137.28,531.95 137.48,531.95 137.68,531.95 137.88,531.95 138.08,531.95 138.28,531.95 138.49,531.94 138.69,531.94 138.89,531.94 139.09,531.94 139.29,531.94 139.49,531.93 139.69,531.93 139.89,531.92 140.1,531.92 140.3,531.91 140.5,531.9 140.7,531.89 140.9,531.87 141.1,531.85 141.3,531.82 141.5,531.78 141.7,531.73 141.91,531.67 142.11,531.59 142.31,531.49 142.51,531.37 142.71,531.24 142.91,531.09 143.11,530.92 143.31,530.75 143.52,530.58 143.72,530.42 143.92,530.3 144.12,530.21 144.32,530.18 144.52,530.21 144.72,530.3 144.92,530.42 145.13,530.58 145.33,530.75 145.53,530.92 145.73,531.09 145.93,531.24 146.13,531.38 146.33,531.49 146.53,531.59 146.73,531.67 146.94,531.74 147.14,531.79 147.34,531.83 147.54,531.85 147.74,531.88 147.94,531.89 148.14,531.9 148.34,531.91 148.55,531.92 148.75,531.93 148.95,531.93 149.15,531.94 149.35,531.94 149.55,531.94 149.75,531.95 149.95,531.95 150.16,531.95 150.36,531.95 150.56,531.96 150.76,531.96 150.96,531.96 151.16,531.96 151.36,531.96 151.56,531.96 151.76,531.96 151.97,531.96 152.17,531.97 152.37,531.97 152.57,531.97 152.77,531.97 152.97,531.97 153.17,531.97 153.37,531.97 153.58,531.97 153.78,531.97 153.98,531.97 154.18,531.97 154.38,531.97 154.58,531.97 154.78,531.97 154.98,531.97 155.19,531.97 155.39,531.97 155.59,531.97 155.79,531.97 155.99,531.97 156.19,531.97 156.39,531.98 156.59,531.98 156.79,531.98 157,531.98 157.2,531.98 157.4,531.98 157.6,531.98 157.8,531.98 158,531.98 158.2,531.98 158.4,531.98 158.61,531.98 158.81,531.98 159.01,531.98 159.21,531.98 159.41,531.98 159.61,531.98 159.81,531.98 160.01,531.98 160.22,531.98 160.42,531.98 160.62,531.98 160.82,531.98 161.02,531.98 161.22,531.98 161.42,531.98 161.62,531.98 161.82,531.98 162.03,531.98 162.23,531.98 162.43,531.98 162.63,531.98 162.83,531.97 163.03,531.97 163.23,531.97 163.43,531.97 163.64,531.97 163.84,531.97 164.04,531.97 164.24,531.97 164.44,531.97 164.64,531.97 164.84,531.97 165.04,531.97 165.25,531.97 165.45,531.97 165.65,531.97 165.85,531.97 166.05,531.97 166.25,531.97 166.45,531.97 166.65,531.97 166.85,531.97 167.06,531.97 167.26,531.97 167.46,531.96 167.66,531.96 167.86,531.96 168.06,531.96 168.26,531.96 168.46,531.96 168.67,531.96 168.87,531.96 169.07,531.96 169.27,531.95 169.47,531.95 169.67,531.95 169.87,531.95 170.07,531.95 170.28,531.95 170.48,531.94 170.68,531.94 170.88,531.94 171.08,531.94 171.28,531.93 171.48,531.93 171.68,531.92 171.88,531.92 172.09,531.91 172.29,531.9 172.49,531.89 172.69,531.88 172.89,531.86 173.09,531.84 173.29,531.82 173.49,531.79 173.7,531.75 173.9,531.71 174.1,531.65 174.3,531.59 174.5,531.52 174.7,531.44 174.9,531.35 175.1,531.25 175.31,531.15 175.51,531.04 175.71,530.92 175.91,530.81 176.11,530.7 176.31,530.59 176.51,530.5 176.71,530.44 176.91,530.39 177.12,530.38 177.32,530.39 177.52,530.44 177.72,530.5 177.92,530.59 178.12,530.69 178.32,530.8 178.52,530.92 178.73,531.03 178.93,531.14 179.13,531.25 179.33,531.35 179.53,531.43 179.73,531.51 179.93,531.58 180.13,531.65 180.34,531.7 180.54,531.74 180.74,531.78 180.94,531.81 181.14,531.83 181.34,531.85 181.54,531.87 181.74,531.88 181.94,531.89 182.15,531.9 182.35,531.9 182.55,531.91 182.75,531.91 182.95,531.92 183.15,531.92 183.35,531.92 183.55,531.92 183.76,531.92 183.96,531.93 184.16,531.93 184.36,531.93 184.56,531.93 184.76,531.93 184.96,531.93 185.16,531.93 185.37,531.93 185.57,531.93 185.77,531.93 185.97,531.93 186.17,531.93 186.37,531.93 186.57,531.93 186.77,531.93 186.97,531.93 187.18,531.93 187.38,531.93 187.58,531.93 187.78,531.93 187.98,531.93 188.18,531.92 188.38,531.92 188.58,531.92 188.79,531.92 188.99,531.92 189.19,531.92 189.39,531.92 189.59,531.91 189.79,531.91 189.99,531.91 190.19,531.91 190.4,531.9 190.6,531.9 190.8,531.9 191,531.9 191.2,531.89 191.4,531.89 191.6,531.88 191.8,531.88 192,531.88 192.21,531.87 192.41,531.87 192.61,531.86 192.81,531.86 193.01,531.85 193.21,531.84 193.41,531.84 193.61,531.83 193.82,531.82 194.02,531.81 194.22,531.8 194.42,531.79 194.62,531.78 194.82,531.76 195.02,531.75 195.22,531.73 195.43,531.71 195.63,531.68 195.83,531.65 196.03,531.61 196.23,531.57 196.43,531.51 196.63,531.44 196.83,531.36 197.03,531.26 197.24,531.14 197.44,531 197.64,530.83 197.84,530.63 198.04,530.4 198.24,530.13 198.44,529.83 198.64,529.5 198.85,529.13 199.05,528.72 199.25,528.29 199.45,527.84 199.65,527.37 199.85,526.9 200.05,526.44 200.25,526 200.46,525.61 200.66,525.27 200.86,525.01 201.06,524.85 201.26,524.79 201.46,524.85 201.66,525.01 201.86,525.27 202.06,525.61 202.27,526 202.47,526.44 202.67,526.9 202.87,527.37 203.07,527.84 203.27,528.29 203.47,528.72 203.67,529.13 203.88,529.5 204.08,529.83 204.28,530.13 204.48,530.4 204.68,530.63 204.88,530.83 205.08,531 205.28,531.14 205.49,531.26 205.69,531.36 205.89,531.45 206.09,531.51 206.29,531.57 206.49,531.62 206.69,531.65 206.89,531.69 207.09,531.71 207.3,531.73 207.5,531.75 207.7,531.77 207.9,531.78 208.1,531.8 208.3,531.81 208.5,531.82 208.7,531.83 208.91,531.83 209.11,531.84 209.31,531.85 209.51,531.86 209.71,531.86 209.91,531.87 210.11,531.87 210.31,531.88 210.52,531.88 210.72,531.89 210.92,531.89 211.12,531.9 211.32,531.9 211.52,531.9 211.72,531.91 211.92,531.91 212.12,531.91 212.33,531.92 212.53,531.92 212.73,531.92 212.93,531.92 213.13,531.93 213.33,531.93 213.53,531.93 213.73,531.93 213.94,531.93 214.14,531.94 214.34,531.94 214.54,531.94 214.74,531.94 214.94,531.94 215.14,531.94 215.34,531.95 215.55,531.95 215.75,531.95 215.95,531.95 216.15,531.95 216.35,531.95 216.55,531.95 216.75,531.95 216.95,531.96 217.15,531.96 217.36,531.96 217.56,531.96 217.76,531.96 217.96,531.96 218.16,531.96 218.36,531.96 218.56,531.96 218.76,531.96 218.97,531.96 219.17,531.97 219.37,531.97 219.57,531.97 219.77,531.97 219.97,531.97 220.17,531.97 220.37,531.97 220.58,531.97 220.78,531.97 220.98,531.97 221.18,531.97 221.38,531.97 221.58,531.97 221.78,531.97 221.98,531.97 222.18,531.97 222.39,531.97 222.59,531.97 222.79,531.97 222.99,531.97 223.19,531.98 223.39,531.98 223.59,531.98 223.79,531.98 224,531.98 224.2,531.98 224.4,531.98 224.6,531.98 224.8,531.98 225,531.98 225.2,531.98 225.4,531.98 225.61,531.98 225.81,531.98 226.01,531.98 226.21,531.98 226.41,531.98 226.61,531.98 226.81,531.98 227.01,531.98 227.21,531.98 227.42,531.98 227.62,531.98 227.82,531.98 228.02,531.98 228.22,531.98 228.42,531.98 228.62,531.98 228.82,531.98 229.03,531.98 229.23,531.98 229.43,531.98 229.63,531.98 229.83,531.98 230.03,531.98 230.23,531.98 230.43,531.98 230.64,531.98 230.84,531.98 231.04,531.98 231.24,531.98 231.44,531.98 231.64,531.99 231.84,531.99 232.04,531.99 232.24,531.99 232.45,531.99 232.65,531.99 232.85,531.99 233.05,531.99 233.25,531.99 233.45,531.99 233.65,531.99 233.85,531.99 234.06,531.99 234.26,531.99 234.46,531.99 234.66,531.99 234.86,531.99 235.06,531.99 235.26,531.99 235.46,531.99 235.67,531.99 235.87,531.99 236.07,531.99 236.27,531.99 236.47,531.99 236.67,531.99 236.87,531.99 237.07,531.99 237.27,531.99 237.48,531.99 237.68,531.99 237.88,531.99 238.08,531.99 238.28,531.99 238.48,531.99 238.68,531.99 238.88,531.99 239.09,531.99 239.29,531.99 239.49,531.99 239.69,531.99 239.89,531.99 240.09,531.99 240.29,531.99 240.49,531.99 240.7,531.99 240.9,531.99 241.1,531.99 241.3,531.99 241.5,531.99 241.7,531.99 241.9,531.99 242.1,531.99 242.3,531.99 242.51,531.99 242.71,531.99 242.91,531.99 243.11,531.99 243.31,531.99 243.51,531.99 243.71,531.99 243.91,531.99 244.12,531.99 244.32,531.99 244.52,531.99 244.72,531.99 244.92,531.99 245.12,531.99 245.32,531.99 245.52,531.99 245.73,531.99 245.93,531.99 246.13,531.99 246.33,531.99 246.53,531.99 246.73,531.99 246.93,531.99 247.13,531.99 247.33,531.99 247.54,531.99 247.74,531.99 247.94,531.99 248.14,531.99 248.34,531.99 248.54,531.99 248.74,531.99 248.94,531.99 249.15,531.99 249.35,531.99 249.55,531.99 249.75,531.99 249.95,531.99 250.15,531.99 250.35,531.99 250.55,531.99 250.76,531.99 250.96,531.99 251.16,531.99 251.36,531.99 251.56,531.99 251.76,531.99 251.96,531.99 252.16,531.99 252.36,531.99 252.57,531.99 252.77,531.99 252.97,531.99 253.17,531.99 253.37,531.99 253.57,531.99 253.77,531.99 253.97,531.99 254.18,531.99 254.38,531.99 254.58,531.99 254.78,531.99 254.98,531.99 255.18,531.99 255.38,531.99 255.58,531.99 255.79,531.99 255.99,531.99 256.19,531.99 256.39,531.99 256.59,531.99 256.79,531.99 256.99,531.99 257.19,531.99 257.39,531.99 257.6,531.99 257.8,531.99 258,531.99 258.2,531.99 258.4,531.99 258.6,531.99 258.8,531.99 259,531.99 259.21,531.99 259.41,531.99 259.61,531.99 259.81,531.99 260.01,531.99 260.21,531.99 260.41,531.99 260.61,531.99 260.82,531.99 261.02,531.99 261.22,531.99 261.42,531.99 261.62,531.99 261.82,531.99 262.02,531.99 262.22,531.98 262.42,531.98 262.63,531.98 262.83,531.98 263.03,531.98 263.23,531.98 263.43,531.98 263.63,531.98 263.83,531.98 264.03,531.98 264.24,531.98 264.44,531.98 264.64,531.98 264.84,531.98 265.04,531.98 265.24,531.98 265.44,531.98 265.64,531.98 265.85,531.98 266.05,531.98 266.25,531.98 266.45,531.98 266.65,531.98 266.85,531.98 267.05,531.98 267.25,531.98 267.45,531.98 267.66,531.98 267.86,531.98 268.06,531.98 268.26,531.98 268.46,531.98 268.66,531.98 268.86,531.98 269.06,531.97 269.27,531.97 269.47,531.97 269.67,531.97 269.87,531.97 270.07,531.97 270.27,531.97 270.47,531.97 270.67,531.97 270.88,531.97 271.08,531.97 271.28,531.97 271.48,531.97 271.68,531.97 271.88,531.97 272.08,531.96 272.28,531.96 272.48,531.96 272.69,531.96 272.89,531.96 273.09,531.96 273.29,531.96 273.49,531.96 273.69,531.96 273.89,531.96 274.09,531.95 274.3,531.95 274.5,531.95 274.7,531.95 274.9,531.95 275.1,531.95 275.3,531.94 275.5,531.94 275.7,531.94 275.91,531.94 276.11,531.93 276.31,531.93 276.51,531.93 276.71,531.92 276.91,531.92 277.11,531.91 277.31,531.91 277.51,531.9 277.72,531.89 277.92,531.88 278.12,531.88 278.32,531.87 278.52,531.85 278.72,531.84 278.92,531.82 279.12,531.81 279.33,531.79 279.53,531.77 279.73,531.74 279.93,531.72 280.13,531.69 280.33,531.66 280.53,531.62 280.73,531.58 280.94,531.54 281.14,531.49 281.34,531.44 281.54,531.39 281.74,531.33 281.94,531.28 282.14,531.21 282.34,531.15 282.54,531.08 282.75,531.01 282.95,530.94 283.15,530.86 283.35,530.79 283.55,530.71 283.75,530.64 283.95,530.57 284.15,530.5 284.36,530.44 284.56,530.38 284.76,530.33 284.96,530.28 285.16,530.25 285.36,530.22 285.56,530.2 285.76,530.2 285.97,530.2 286.17,530.22 286.37,530.25 286.57,530.28 286.77,530.33 286.97,530.38 287.17,530.44 287.37,530.5 287.57,530.57 287.78,530.64 287.98,530.72 288.18,530.79 288.38,530.86 288.58,530.94 288.78,531.01 288.98,531.08 289.18,531.15 289.39,531.21 289.59,531.28 289.79,531.34 289.99,531.39 290.19,531.44 290.39,531.49 290.59,531.54 290.79,531.58 291,531.62 291.2,531.66 291.4,531.69 291.6,531.72 291.8,531.74 292,531.77 292.2,531.79 292.4,531.81 292.6,531.83 292.81,531.84 293.01,531.85 293.21,531.87 293.41,531.88 293.61,531.89 293.81,531.89 294.01,531.9 294.21,531.91 294.42,531.91 294.62,531.92 294.82,531.92 295.02,531.93 295.22,531.93 295.42,531.93 295.62,531.94 295.82,531.94 296.03,531.94 296.23,531.94 296.43,531.95 296.63,531.95 296.83,531.95 297.03,531.95 297.23,531.95 297.43,531.95 297.63,531.96 297.84,531.96 298.04,531.96 298.24,531.96 298.44,531.96 298.64,531.96 298.84,531.96 299.04,531.96 299.24,531.97 299.45,531.97 299.65,531.97 299.85,531.97 300.05,531.97 300.25,531.97 300.45,531.97 300.65,531.97 300.85,531.97 301.06,531.97 301.26,531.97 301.46,531.97 301.66,531.97 301.86,531.97 302.06,531.98 302.26,531.98 302.46,531.98 302.66,531.98 302.87,531.98 303.07,531.98 303.27,531.98 303.47,531.98 303.67,531.98 303.87,531.98 304.07,531.98 304.27,531.98 304.48,531.98 304.68,531.98 304.88,531.98 305.08,531.98 305.28,531.98 305.48,531.98 305.68,531.98 305.88,531.98 306.09,531.98 306.29,531.98 306.49,531.98 306.69,531.98 306.89,531.98 307.09,531.98 307.29,531.99 307.49,531.99 307.69,531.99 307.9,531.99 308.1,531.99 308.3,531.99 308.5,531.99 308.7,531.99 308.9,531.99 309.1,531.99 309.3,531.99 309.51,531.99 309.71,531.99 309.91,531.99 310.11,531.99 310.31,531.99 310.51,531.99 310.71,531.99 310.91,531.99 311.12,531.99 311.32,531.99 311.52,531.99 311.72,531.99" fill="none" stroke="#6fba2c" stroke-width="1.5" stroke-linejoin="round"/><rect x="58.5" y="392.3" width="255" height="159.7" fill="none" stroke="#000" stroke-width="1.5"/><line x1="90.6" y1="552" x2="90.6" y2="543.5" stroke="#000" stroke-width="1.5" /><line x1="90.6" y1="392.3" x2="90.6" y2="400.8" stroke="#000" stroke-width="1.5" /><text x="91.1" y="567.6" text-anchor="middle" fill="#000" stroke="#000" stroke-width="0.2" style="font-size:15px;" >10</text><line x1="191.2" y1="552" x2="191.2" y2="543.5" stroke="#000" stroke-width="1.5" /><line x1="191.2" y1="392.3" x2="191.2" y2="400.8" stroke="#000" stroke-width="1.5" /><text x="191.7" y="567.6" text-anchor="middle" fill="#000" stroke="#000" stroke-width="0.2" style="font-size:15px;" >20</text><line x1="291.8" y1="552" x2="291.8" y2="543.5" stroke="#000" stroke-width="1.5" /><line x1="291.8" y1="392.3" x2="291.8" y2="400.8" stroke="#000" stroke-width="1.5" /><text x="292.3" y="567.6" text-anchor="middle" fill="#000" stroke="#000" stroke-width="0.2" style="font-size:15px;" >30</text><text x="195.7" y="583.8" text-anchor="middle" fill="#000" stroke="#000" stroke-width="0.2" style="font-size:15.5px;" >Time (min)</text><text x="14.2" y="464.7" text-anchor="middle" fill="#000" stroke="#000" stroke-width="0.2" style="font-size:15.4px;" transform="rotate(-90 14.2 464.7)" >Rel. Abs. (at 360 nm)</text><text x="68.1" y="384.1" text-anchor="start" fill="#000" stroke="#000" stroke-width="0.2" style="font-size:20.2px;" >E</text><line x1="92.7" y1="384" x2="154.4" y2="384" stroke="#000" stroke-width="1.5" /><line x1="166.6" y1="384" x2="301.7" y2="384" stroke="#000" stroke-width="1.5" /><text x="125.2" y="378.4" text-anchor="middle" fill="#000" stroke="#000" stroke-width="0.2" style="font-size:14px;font-style:italic;" >syn</text><text x="235.2" y="378.4" text-anchor="middle" fill="#000" stroke="#000" stroke-width="0.2" style="font-size:14px;font-style:italic;" >anti</text><text x="109.5" y="408.3" text-anchor="middle" fill="#000" stroke="#000" stroke-width="0.2" style="font-size:13.5px;" >11</text><text x="117.4" y="426.4" text-anchor="middle" fill="#000" stroke="#000" stroke-width="0.2" style="font-size:13.5px;" >all</text><text x="144.2" y="432.3" text-anchor="middle" fill="#000" stroke="#000" stroke-width="0.2" style="font-size:13.5px;" >13</text><text x="177.4" y="431" text-anchor="middle" fill="#000" stroke="#000" stroke-width="0.2" style="font-size:13.5px;" >13</text><text x="200.7" y="429.2" text-anchor="middle" fill="#000" stroke="#000" stroke-width="0.2" style="font-size:13.5px;" >11</text><text x="284.3" y="430.3" text-anchor="middle" fill="#000" stroke="#000" stroke-width="0.2" style="font-size:13.5px;" >all</text><line x1="430.8" y1="419.8" x2="430.8" y2="541.5" stroke="#000" stroke-width="1.6" stroke-dasharray="1.2 1.1"/><line x1="484.98" y1="419.8" x2="484.98" y2="541.5" stroke="#000" stroke-width="1.6" stroke-dasharray="1.2 1.1"/><line x1="539.15" y1="419.8" x2="539.15" y2="541.5" stroke="#000" stroke-width="1.6" stroke-dasharray="1.2 1.1"/><line x1="593.33" y1="419.8" x2="593.33" y2="541.5" stroke="#000" stroke-width="1.6" stroke-dasharray="1.2 1.1"/><line x1="647.5" y1="419.8" x2="647.5" y2="541.5" stroke="#000" stroke-width="1.6" stroke-dasharray="1.2 1.1"/><rect x="430.8" y="428.1" width="184.85" height="22.5" fill="#231815" stroke="none" stroke-width="1"/><rect x="615.65" y="428.1" width="23.62" height="22.5" fill="#9e9e9f" stroke="#231815" stroke-width="1.3"/><rect x="639.27" y="428.1" width="8.23" height="22.5" fill="#fff" stroke="#231815" stroke-width="1.3"/><rect x="430.8" y="474" width="54.83" height="22.5" fill="#231815" stroke="none" stroke-width="1"/><rect x="485.63" y="474" width="150.61" height="22.5" fill="#9e9e9f" stroke="#231815" stroke-width="1.3"/><rect x="636.23" y="474" width="11.27" height="22.5" fill="#fff" stroke="#231815" stroke-width="1.3"/><rect x="430.8" y="519.6" width="173.79" height="21.9" fill="#231815" stroke="none" stroke-width="1"/><rect x="604.59" y="519.6" width="28.82" height="21.9" fill="#9e9e9f" stroke="#231815" stroke-width="1.3"/><rect x="633.41" y="519.6" width="14.09" height="21.9" fill="#fff" stroke="#231815" stroke-width="1.3"/><rect x="430.8" y="428.1" width="216.7" height="113.4" fill="none" stroke="#231815" stroke-width="1.5"/><line x1="430.8" y1="450.6" x2="647.5" y2="450.6" stroke="#231815" stroke-width="1.5" /><line x1="430.8" y1="474" x2="647.5" y2="474" stroke="#231815" stroke-width="1.5" /><line x1="430.8" y1="496.5" x2="647.5" y2="496.5" stroke="#231815" stroke-width="1.5" /><line x1="430.8" y1="519.6" x2="647.5" y2="519.6" stroke="#231815" stroke-width="1.5" /><line x1="615.65" y1="450.6" x2="485.63" y2="474" stroke="#231815" stroke-width="1.3" /><line x1="485.63" y1="496.5" x2="604.59" y2="519.6" stroke="#231815" stroke-width="1.3" /><line x1="639.27" y1="450.6" x2="636.23" y2="474" stroke="#231815" stroke-width="1.3" /><line x1="636.23" y1="496.5" x2="633.41" y2="519.6" stroke="#231815" stroke-width="1.3" /><line x1="640.5" y1="541.5" x2="640.5" y2="549.5" stroke="#231815" stroke-width="1.3" /><text x="434" y="415.2" text-anchor="middle" fill="#000" stroke="#000" stroke-width="0.2" style="font-size:14.6px;" >0%</text><text x="492" y="415.2" text-anchor="middle" fill="#000" stroke="#000" stroke-width="0.2" style="font-size:14.6px;" >25%</text><text x="544.5" y="415.2" text-anchor="middle" fill="#000" stroke="#000" stroke-width="0.2" style="font-size:14.6px;" >50%</text><text x="600" y="415.2" text-anchor="middle" fill="#000" stroke="#000" stroke-width="0.2" style="font-size:14.6px;" >75%</text><text x="655.2" y="415.2" text-anchor="middle" fill="#000" stroke="#000" stroke-width="0.2" style="font-size:14.6px;" >100%</text><text x="531.7" y="444.8" text-anchor="middle" fill="#fff" stroke="#fff" stroke-width="0.2" style="font-size:14.8px;" >11-cis</text><text x="570.2" y="490" text-anchor="middle" fill="#231815" stroke="#231815" stroke-width="0.2" style="font-size:15px;" >all-trans</text><text x="643.6" y="563.6" text-anchor="middle" fill="#000" stroke="#000" stroke-width="0.2" style="font-size:14.5px;" >13-cis</text><text x="374.9" y="442" text-anchor="middle" fill="#000" stroke="#000" stroke-width="0.2" style="font-size:15px;" >before irr.</text><text x="375.6" y="488.7" text-anchor="middle" fill="#000" stroke="#000" stroke-width="0.2" style="font-size:15px;" >UV light irr.</text><text x="377.5" y="536.6" text-anchor="middle" fill="#000" stroke="#000" stroke-width="0.2" style="font-size:15px;" >yellow light irr.</text><line x1="67.3" y1="742.3" x2="327.8" y2="742.3" stroke="#000" stroke-width="1.5" /><polyline points="67.91,678.38 68.52,676.5 69.14,694.53 69.75,686.36 70.36,683.22 70.97,697.93 71.59,697.32 72.2,687.58 72.81,675.41 73.42,700.22 74.04,684.11 74.65,686.63 75.26,690.56 75.87,694.45 76.48,700.63 77.1,687.32 77.71,694.77 78.32,716.45 78.93,691.49 79.55,701.82 80.16,696.31 80.77,677.56 81.38,692.71 82,714.15 82.61,700.02 83.22,706.39 83.83,688.11 84.45,725.32 85.06,692.24 85.67,696.8 86.28,700.3 86.89,693.85 87.51,682.33 88.12,712.77 88.73,701.52 89.34,697.4 89.96,696.86 90.57,699 91.18,692.95 91.79,695.5 92.41,699.85 93.02,711.02 93.63,690.65 94.24,684.27 94.85,686.31 95.47,691.98 96.08,685.82 96.69,706.06 97.3,688.38 97.92,691.6 98.53,694.46 99.14,685.23 99.75,694.81 100.37,696.11 100.98,700.5 101.59,706.16 102.2,695.97 102.81,679.98 103.43,679.02 104.04,696.19 104.65,690.54 105.26,680.79 105.88,698.2 106.49,693.96 107.1,700.15 107.71,679.52 108.33,694.32 108.94,692.24 109.55,689.79 110.16,694.89 110.78,672.49 111.39,681.32 112,675.06 112.61,701.14 113.22,683.14 113.84,688.7 114.45,694.25 115.06,686.62 115.67,677.12 116.29,679.6 116.9,689.35 117.51,665.78 118.12,679.1 118.74,690.16 119.35,690.02 119.96,688.56 120.57,685.17 121.19,687.32 121.8,687.72 122.41,678.78 123.02,687.13 123.63,682.71 124.25,686.42 124.86,684.24 125.47,676.74 126.08,682.4 126.7,678.49 127.31,682.48 127.92,676.59 128.53,681.91 129.15,676.25 129.76,687.25 130.37,676.15 130.98,678.94 131.59,684.74 132.21,683.37 132.82,688.58 133.43,681.1 134.04,678.99 134.66,681.48 135.27,675.05 135.88,686.61 136.49,678.91 137.11,681.98 137.72,678.75 138.33,673.19 138.94,675.55 139.55,669.44 140.17,675.16 140.78,675.37 141.39,673.16 142,676.53 142.62,673.47 143.23,669.72 143.84,665.23 144.45,671.09 145.07,669.66 145.68,670.95 146.29,669.12 146.9,663.15 147.52,661.5 148.13,659.18 148.74,659.92 149.35,653.84 149.96,662.38 150.58,654.86 151.19,651.03 151.8,653.03 152.41,648.73 153.03,649.28 153.64,647.99 154.25,644.33 154.86,645.67 155.48,642.33 156.09,639.18 156.7,644.4 157.31,637.34 157.92,634.94 158.54,632.69 159.15,639.18 159.76,633.64 160.37,643.88 160.99,641.9 161.6,636.53 162.21,640.44 162.82,639.57 163.44,639.63 164.05,636.96 164.66,637.97 165.27,638.87 165.89,635.54 166.5,637.16 167.11,635.24 167.72,634.14 168.33,633.29 168.95,636.03 169.56,636.82 170.17,636.88 170.78,639.3 171.4,633.99 172.01,635.92 172.62,632.2 173.23,634.97 173.85,637.91 174.46,633.37 175.07,637.56 175.68,637.04 176.29,635.54 176.91,636.79 177.52,640.85 178.13,636.36 178.74,638.12 179.36,640.24 179.97,641.58 180.58,640.78 181.19,647.54 181.81,638.51 182.42,652.48 183.03,648.22 183.64,649.01 184.26,645.17 184.87,647.32 185.48,647.13 186.09,653.47 186.7,645.94 187.32,647.75 187.93,658.8 188.54,651.55 189.15,659.58 189.77,655.45 190.38,652.31 190.99,654.89 191.6,660.34 192.22,658.94 192.83,654.14 193.44,658.77 194.05,658.84 194.66,669.51 195.28,664.29 195.89,667.82 196.5,673.97 197.11,667.88 197.73,674.92 198.34,673.81 198.95,680.59 199.56,679.41 200.18,680.83 200.79,684.8 201.4,685.65 202.01,686.44 202.63,689.19 203.24,694.47 203.85,690.25 204.46,693.02 205.07,692.94 205.69,697.8 206.3,691.03 206.91,694.38 207.52,694.01 208.14,693.57 208.75,697.85 209.36,703.53 209.97,708.1 210.59,701.09 211.2,705.24 211.81,704.5 212.42,703.97 213.03,710.19 213.65,713.87 214.26,710.38 214.87,714.32 215.48,716.7 216.1,713.55 216.71,716.69 217.32,715.08 217.93,721.48 218.55,719.09 219.16,720.49 219.77,720.61 220.38,723.46 221,720.03 221.61,728.04 222.22,722.45 222.83,721.06 223.44,725.64 224.06,726.12 224.67,729.78 225.28,727.08 225.89,727.24 226.51,728.91 227.12,729.02 227.73,729.24 228.34,731.15 228.96,738.94 229.57,737.39 230.18,734.77 230.79,727.93 231.41,732.37 232.02,736.85 232.63,738.17 233.24,739.68 233.85,736.85 234.47,739.97 235.08,739.83 235.69,742.01 236.3,741.6 236.92,743.03 237.53,743.07 238.14,742.66 238.75,740.23 239.37,742.13 239.98,741.21 240.59,744.34 241.2,743.31 241.81,745.22 242.43,744.74 243.04,744.94 243.65,747.86 244.26,744.99 244.88,747.44 245.49,744.48 246.1,746.64 246.71,748.39 247.33,747.74 247.94,747.23 248.55,743.01 249.16,747.97 249.78,746.4 250.39,745.43 251,746.09 251.61,745.91 252.22,744.56 252.84,747.13 253.45,742.7 254.06,743.4 254.67,745.54 255.29,743.45 255.9,745.73 256.51,746.74 257.12,748.17 257.74,747.23 258.35,744.98 258.96,745.44 259.57,743.14 260.18,743.22 260.8,744.46 261.41,745.86 262.02,742.86 262.63,746.19 263.25,750.5 263.86,746.62 264.47,745.3 265.08,745.11 265.7,745.11 266.31,744.74 266.92,750.89 267.53,741.99 268.14,745.16 268.76,746.03 269.37,749.72 269.98,744.68 270.59,748.08 271.21,749.84 271.82,745.12 272.43,745.21 273.04,746.43 273.66,747.84 274.27,745.38 274.88,746.01 275.49,745.47 276.11,745.3 276.72,748.78 277.33,745.17 277.94,748.26 278.55,745.04 279.17,746.54 279.78,746.72 280.39,742.74 281,745.28 281.62,745.25 282.23,744.11 282.84,741.47 283.45,750.65 284.07,744.38 284.68,745.15 285.29,743.08 285.9,745.04 286.51,745.12 287.13,743.86 287.74,744.94 288.35,746.44 288.96,744.7 289.58,741.24 290.19,743.52 290.8,748.83 291.41,744.76 292.03,746.28 292.64,742.69 293.25,746.5 293.86,744.52 294.48,743.38 295.09,742.75 295.7,745.42 296.31,743.74 296.92,740.03 297.54,745.45 298.15,744.11 298.76,745.78 299.37,744.49 299.99,743.19 300.6,744 301.21,742.84 301.82,746.44 302.44,743.76 303.05,744.6 303.66,749.36 304.27,741.92 304.88,743.75 305.5,745.05 306.11,741.92 306.72,742.9 307.33,748.3 307.95,743 308.56,739.32 309.17,743.26 309.78,742.24 310.4,746.96 311.01,746.72 311.62,746.47 312.23,741.74 312.85,742 313.46,748.47 314.07,742.04 314.68,747.68 315.29,746.39 315.91,743.9 316.52,745.02 317.13,743.8 317.74,743.29 318.36,741.46 318.97,744.59 319.58,744.94 320.19,745.02 320.81,739.05 321.42,741.39 322.03,741.32 322.64,742.51 323.25,743.1 323.87,740.83 324.48,743.69 325.09,746.45 325.7,746.61 326.32,738.74 326.93,745.54 327.54,744.85 328.15,743.86 328.77,741.53 329.38,745.7" fill="none" stroke="#2f5cb8" stroke-width="2.0" stroke-linejoin="round" clip-path="url(#cF)"/><polyline points="67.91,669.88 68.52,663.47 69.14,681.72 69.75,667.08 70.36,656.11 70.97,665.44 71.59,667.13 72.2,662.93 72.81,669.02 73.42,673.1 74.04,674.09 74.65,659.84 75.26,685.75 75.87,681.19 76.48,660.62 77.1,656.61 77.71,667.87 78.32,677.58 78.93,685.34 79.55,663.11 80.16,667.38 80.77,665.89 81.38,665.2 82,679.68 82.61,676.98 83.22,670.65 83.83,671.47 84.45,685.34 85.06,681.74 85.67,671.78 86.28,656.78 86.89,647.52 87.51,667.66 88.12,673.09 88.73,667.35 89.34,669.48 89.96,678.03 90.57,699.75 91.18,668.65 91.79,675.87 92.41,670.87 93.02,679.08 93.63,673.36 94.24,669.06 94.85,682.09 95.47,676.57 96.08,665.07 96.69,663.74 97.3,685.46 97.92,663.58 98.53,659.4 99.14,666.72 99.75,666.41 100.37,669.02 100.98,666.91 101.59,673.89 102.2,659.71 102.81,670.16 103.43,681.36 104.04,665.75 104.65,662.89 105.26,666.69 105.88,677.37 106.49,665.03 107.1,691.45 107.71,657.02 108.33,665.51 108.94,682.83 109.55,684.65 110.16,652.39 110.78,667.87 111.39,674.68 112,667.18 112.61,671.09 113.22,670.99 113.84,667.6 114.45,667.88 115.06,677.13 115.67,668.2 116.29,669.01 116.9,677.04 117.51,664.72 118.12,667.74 118.74,677.89 119.35,660.5 119.96,668.58 120.57,663.87 121.19,677.1 121.8,675.79 122.41,672.58 123.02,677.12 123.63,675.57 124.25,683.11 124.86,664.07 125.47,673.33 126.08,669.72 126.7,668.21 127.31,678.57 127.92,668.63 128.53,692.08 129.15,682.93 129.76,684.75 130.37,683.23 130.98,689.54 131.59,680.63 132.21,676.34 132.82,685.22 133.43,684.3 134.04,697.21 134.66,691.54 135.27,687.34 135.88,692.38 136.49,689.07 137.11,692.41 137.72,690.07 138.33,697.45 138.94,690.64 139.55,687.64 140.17,691.08 140.78,686.12 141.39,695.31 142,692.11 142.62,701.18 143.23,692.93 143.84,695.22 144.45,698.71 145.07,693.86 145.68,703.26 146.29,700.32 146.9,698.67 147.52,704.31 148.13,704.77 148.74,697.66 149.35,703.45 149.96,706.69 150.58,705.12 151.19,706.14 151.8,707.46 152.41,703.78 153.03,709.85 153.64,712.12 154.25,706.84 154.86,707.99 155.48,703.62 156.09,714.12 156.7,711.92 157.31,706.46 157.92,709.75 158.54,714.04 159.15,715.75 159.76,710.69 160.37,714.27 160.99,718.12 161.6,717.42 162.21,718.08 162.82,713.73 163.44,728.01 164.05,721.28 164.66,715.24 165.27,727.35 165.89,722.9 166.5,719.56 167.11,728.91 167.72,727.02 168.33,729.39 168.95,726.58 169.56,731.25 170.17,734.69 170.78,732.38 171.4,734.05 172.01,732.5 172.62,740.04 173.23,740.29 173.85,742.29 174.46,735.56 175.07,735.43 175.68,743.16 176.29,748.28 176.91,732.62 177.52,747.23 178.13,746.79 178.74,742.19 179.36,732.78 179.97,735.79 180.58,741.05 181.19,737.4 181.81,740.75 182.42,735.8 183.03,741.78 183.64,733.94 184.26,737.85 184.87,742.27 185.48,746.72 186.09,735.67 186.7,738.07 187.32,743.83 187.93,743.59 188.54,741.99 189.15,741.44 189.77,740.78 190.38,740.16 190.99,740.08 191.6,742.25 192.22,732.15 192.83,741.09 193.44,742.51 194.05,737.89 194.66,743.32 195.28,738.24 195.89,739.37 196.5,735.91 197.11,743.56 197.73,747.1 198.34,735.29 198.95,740.47 199.56,733.06 200.18,736.91 200.79,741.44 201.4,738.32 202.01,744.13 202.63,743.36 203.24,739.52 203.85,739.06 204.46,745.97 205.07,736.53 205.69,737.48 206.3,735.43 206.91,745 207.52,737.19 208.14,741.75 208.75,741.21 209.36,735.36 209.97,739.12 210.59,737.15 211.2,735.94 211.81,735.05 212.42,742.92 213.03,743.05 213.65,738.12 214.26,737.42 214.87,742.32 215.48,738.09 216.1,742.98 216.71,740.82 217.32,740.26 217.93,739.07 218.55,737.44 219.16,741.3 219.77,739.51 220.38,743.34 221,737.45 221.61,738.17 222.22,742.43 222.83,733.21 223.44,740.8 224.06,741.61 224.67,742.24 225.28,739.28 225.89,740.24 226.51,743.28 227.12,739.18 227.73,737.11 228.34,735.6 228.96,739.04 229.57,742.31 230.18,744.01 230.79,739.15 231.41,736.48 232.02,732.87 232.63,742.43 233.24,745.35 233.85,744.97 234.47,741.04 235.08,740.41 235.69,743.27 236.3,744.21 236.92,745.74 237.53,740.33 238.14,745 238.75,740.7 239.37,742.25 239.98,745.94 240.59,744.27 241.2,739.87 241.81,741.89 242.43,742.35 243.04,739.34 243.65,741.92 244.26,741.6 244.88,741.54 245.49,741.58 246.1,739.47 246.71,742.77 247.33,739.38 247.94,738.46 248.55,742.62 249.16,740.55 249.78,743.87 250.39,741.28 251,738.88 251.61,739.42 252.22,742.14 252.84,740.09 253.45,740.2 254.06,740.93 254.67,740.81 255.29,737.06 255.9,746.43 256.51,742.23 257.12,739.15 257.74,741.16 258.35,740.17 258.96,740.22 259.57,741.26 260.18,740.71 260.8,742.23 261.41,740.64 262.02,739 262.63,738.4 263.25,739.33 263.86,740.84 264.47,741.04 265.08,743.65 265.7,740.47 266.31,741.96 266.92,741.35 267.53,740.55 268.14,739.62 268.76,739.39 269.37,739.57 269.98,741.82 270.59,740.37 271.21,737.98 271.82,739.53 272.43,738.41 273.04,739.07 273.66,736.06 274.27,735.67 274.88,733.76 275.49,739.72 276.11,737.29 276.72,741.56 277.33,737.44 277.94,737.96 278.55,739.71 279.17,735.99 279.78,738.67 280.39,742.22 281,736.1 281.62,739.02 282.23,737.67 282.84,740.74 283.45,741.07 284.07,742.12 284.68,741.95 285.29,738.42 285.9,738.89 286.51,743.5 287.13,740.29 287.74,740.37 288.35,742.12 288.96,740.1 289.58,742.44 290.19,738.98 290.8,741.67 291.41,740.86 292.03,748.39 292.64,742.41 293.25,741.5 293.86,742.91 294.48,742.13 295.09,743.65 295.7,739.99 296.31,743.86 296.92,742.42 297.54,738.88 298.15,739.43 298.76,741.87 299.37,744.42 299.99,745.72 300.6,740.98 301.21,741.38 301.82,742.43 302.44,742.43 303.05,737.51 303.66,740 304.27,741.76 304.88,742.21 305.5,742.47 306.11,741.08 306.72,742.28 307.33,741.52 307.95,742.61 308.56,740.17 309.17,741.19 309.78,744 310.4,735.74 311.01,741.05 311.62,742.56 312.23,744.1 312.85,741.41 313.46,742.8 314.07,738.05 314.68,740.43 315.29,742.7 315.91,745.07 316.52,739.77 317.13,744.83 317.74,740.37 318.36,741.06 318.97,746.95 319.58,741.8 320.19,737.85 320.81,743.04 321.42,745.79 322.03,744.64 322.64,741.27 323.25,740.45 323.87,739.29 324.48,740.4 325.09,742.86 325.7,741.75 326.32,741.27 326.93,741.07 327.54,743.27 328.15,739.29 328.77,738.29 329.38,740.75" fill="none" stroke="#dc2b23" stroke-width="2.0" stroke-linejoin="round" clip-path="url(#cF)"/><polyline points="67.91,674.88 68.52,689.09 69.14,675.28 69.75,685.51 70.36,686.75 70.97,670.95 71.59,677.69 72.2,683.81 72.81,695.2 73.42,679.74 74.04,664.75 74.65,677.26 75.26,678.18 75.87,669.18 76.48,661.06 77.1,675.19 77.71,671.15 78.32,678.66 78.93,676.11 79.55,676.57 80.16,670.73 80.77,684.82 81.38,677.87 82,678.01 82.61,681.53 83.22,686.01 83.83,673.82 84.45,684.09 85.06,694.1 85.67,674.76 86.28,693.01 86.89,674.35 87.51,701.91 88.12,680.8 88.73,665.95 89.34,682.49 89.96,671.23 90.57,683.94 91.18,686.85 91.79,682.93 92.41,673.03 93.02,670.37 93.63,669.3 94.24,673.5 94.85,680.62 95.47,695.88 96.08,686.13 96.69,668.78 97.3,692.44 97.92,676.55 98.53,676.91 99.14,692.58 99.75,677.51 100.37,682.88 100.98,678.48 101.59,680.6 102.2,681.29 102.81,686.26 103.43,693.77 104.04,667.07 104.65,685.45 105.26,681.13 105.88,681.81 106.49,681.12 107.1,684.04 107.71,675.11 108.33,678.79 108.94,681.84 109.55,682.4 110.16,675.06 110.78,684.11 111.39,674.68 112,669.51 112.61,671.03 113.22,674.04 113.84,687.54 114.45,672.54 115.06,675.06 115.67,668.15 116.29,679.32 116.9,678.38 117.51,666.89 118.12,679.63 118.74,668.15 119.35,672.48 119.96,687.89 120.57,676.41 121.19,676.25 121.8,680.75 122.41,683.5 123.02,672.92 123.63,678.56 124.25,676.61 124.86,677.92 125.47,674.26 126.08,670.52 126.7,669.02 127.31,670.42 127.92,674.58 128.53,673.61 129.15,670.14 129.76,667.12 130.37,673.1 130.98,678.29 131.59,671.34 132.21,669.88 132.82,674.39 133.43,667.56 134.04,674.18 134.66,672.18 135.27,670.62 135.88,665.89 136.49,675.63 137.11,669.19 137.72,667.9 138.33,670.59 138.94,666.05 139.55,671.45 140.17,672.74 140.78,672.48 141.39,670.01 142,670.91 142.62,664.85 143.23,666.11 143.84,670.76 144.45,659.6 145.07,663.81 145.68,670 146.29,670.19 146.9,662.87 147.52,657.74 148.13,663.05 148.74,657.93 149.35,654.94 149.96,657.37 150.58,660.16 151.19,662.61 151.8,659.23 152.41,651.09 153.03,654.67 153.64,657.37 154.25,654.56 154.86,653.31 155.48,648.36 156.09,654.35 156.7,645.58 157.31,651.35 157.92,650.83 158.54,656.03 159.15,650.56 159.76,651.03 160.37,649.35 160.99,654.41 161.6,651.09 162.21,657.3 162.82,655.4 163.44,643.52 164.05,653.44 164.66,654.54 165.27,648.61 165.89,652.41 166.5,642.42 167.11,651.52 167.72,649.25 168.33,652.73 168.95,647.76 169.56,651.78 170.17,642.28 170.78,654.71 171.4,650.69 172.01,649.88 172.62,656.73 173.23,654.76 173.85,655.87 174.46,659.37 175.07,652.59 175.68,664.41 176.29,659.29 176.91,659.27 177.52,654.78 178.13,656.93 178.74,653.3 179.36,653.36 179.97,657.76 180.58,662.58 181.19,657.39 181.81,663.45 182.42,662.92 183.03,662.6 183.64,658.36 184.26,655.13 184.87,661.19 185.48,668.24 186.09,664.15 186.7,663.86 187.32,672.45 187.93,669.81 188.54,673.73 189.15,674.54 189.77,673.05 190.38,673.93 190.99,678.31 191.6,676.64 192.22,682.38 192.83,679.9 193.44,680.18 194.05,683.81 194.66,689.04 195.28,687.74 195.89,684.98 196.5,684.29 197.11,685.73 197.73,686.9 198.34,685.68 198.95,694.71 199.56,690.26 200.18,698.22 200.79,690.03 201.4,693.54 202.01,701.3 202.63,695.92 203.24,695.45 203.85,702.5 204.46,699.06 205.07,697.8 205.69,695.04 206.3,704.37 206.91,697.77 207.52,707.79 208.14,708.16 208.75,701.51 209.36,704.72 209.97,711.21 210.59,704.2 211.2,708.99 211.81,711.23 212.42,714.02 213.03,723.26 213.65,715.09 214.26,712.72 214.87,717.15 215.48,715.21 216.1,718.87 216.71,714.29 217.32,730.15 217.93,718.74 218.55,724.34 219.16,720.88 219.77,719.83 220.38,718.59 221,720.36 221.61,719.51 222.22,727.9 222.83,724.41 223.44,733.26 224.06,724.94 224.67,732.67 225.28,723.73 225.89,727.6 226.51,730.15 227.12,732.32 227.73,730.26 228.34,733.96 228.96,737.79 229.57,732.21 230.18,737.52 230.79,733.58 231.41,739.42 232.02,741.01 232.63,729.37 233.24,735.66 233.85,733.93 234.47,739.18 235.08,739.18 235.69,739.54 236.3,736.13 236.92,739.03 237.53,740.53 238.14,741.17 238.75,741.33 239.37,739.75 239.98,742.04 240.59,742.29 241.2,740.07 241.81,741.06 242.43,741.65 243.04,739.61 243.65,743.79 244.26,745.96 244.88,747.05 245.49,744.16 246.1,743.65 246.71,742.28 247.33,746.97 247.94,746.83 248.55,744.7 249.16,744.87 249.78,747.07 250.39,744.73 251,743.07 251.61,744.93 252.22,739.96 252.84,743.11 253.45,746.12 254.06,745 254.67,747.38 255.29,740.45 255.9,745.2 256.51,745.29 257.12,743.29 257.74,745.37 258.35,746.05 258.96,744.91 259.57,742.83 260.18,742.83 260.8,747.5 261.41,748.02 262.02,744 262.63,745.49 263.25,745.79 263.86,742.85 264.47,744.04 265.08,745.9 265.7,743.72 266.31,746.37 266.92,745.93 267.53,741.29 268.14,745.41 268.76,743.86 269.37,745.44 269.98,745.55 270.59,747.1 271.21,747.14 271.82,742.47 272.43,740.62 273.04,743.57 273.66,743.76 274.27,745.94 274.88,744.98 275.49,741.9 276.11,739.75 276.72,743.44 277.33,744 277.94,742.61 278.55,744.47 279.17,746.2 279.78,746.43 280.39,745.22 281,745.46 281.62,749.27 282.23,748.14 282.84,743.05 283.45,742.72 284.07,742.98 284.68,745 285.29,745.85 285.9,744.6 286.51,743.87 287.13,745.42 287.74,742.32 288.35,745.77 288.96,748.99 289.58,743.06 290.19,742.61 290.8,744.69 291.41,742.29 292.03,741.98 292.64,749.29 293.25,743.46 293.86,746.6 294.48,742.88 295.09,743.7 295.7,742.55 296.31,744.69 296.92,745.34 297.54,743.6 298.15,739.38 298.76,743.26 299.37,746.14 299.99,744.15 300.6,744.56 301.21,741.56 301.82,743.78 302.44,744.63 303.05,743.66 303.66,745.38 304.27,743.05 304.88,746.1 305.5,744.85 306.11,743.53 306.72,746.6 307.33,746.52 307.95,745.42 308.56,741.02 309.17,742.21 309.78,743.72 310.4,741.86 311.01,742.12 311.62,744.98 312.23,745.94 312.85,741.41 313.46,745.04 314.07,742.48 314.68,746.78 315.29,743.88 315.91,746.14 316.52,742.39 317.13,742.19 317.74,742.89 318.36,742.11 318.97,744.71 319.58,742.84 320.19,742.45 320.81,745.32 321.42,742.41 322.03,743.05 322.64,742.66 323.25,744.04 323.87,743.67 324.48,742.61 325.09,743.31 325.7,742.41 326.32,746.15 326.93,741.66 327.54,745.06 328.15,741.45 328.77,746.31 329.38,744.7" fill="none" stroke="#000" stroke-width="1.8" stroke-linejoin="round" clip-path="url(#cF)"/><rect x="67.3" y="625.3" width="260.5" height="131" fill="none" stroke="#000" stroke-width="1.5"/><line x1="112" y1="756.3" x2="112" y2="747.6" stroke="#000" stroke-width="1.5" /><line x1="112" y1="625.3" x2="112" y2="634" stroke="#000" stroke-width="1.5" /><line x1="173.23" y1="756.3" x2="173.23" y2="747.6" stroke="#000" stroke-width="1.5" /><line x1="173.23" y1="625.3" x2="173.23" y2="634" stroke="#000" stroke-width="1.5" /><line x1="234.47" y1="756.3" x2="234.47" y2="747.6" stroke="#000" stroke-width="1.5" /><line x1="234.47" y1="625.3" x2="234.47" y2="634" stroke="#000" stroke-width="1.5" /><line x1="295.7" y1="756.3" x2="295.7" y2="747.6" stroke="#000" stroke-width="1.5" /><line x1="295.7" y1="625.3" x2="295.7" y2="634" stroke="#000" stroke-width="1.5" /><line x1="67.3" y1="678.2" x2="76" y2="678.2" stroke="#000" stroke-width="1.5" /><line x1="327.8" y1="678.2" x2="319.1" y2="678.2" stroke="#000" stroke-width="1.5" /><text x="111.5" y="773" text-anchor="middle" fill="#000" stroke="#000" stroke-width="0.2" style="font-size:15px;" >400</text><text x="172.73" y="773" text-anchor="middle" fill="#000" stroke="#000" stroke-width="0.2" style="font-size:15px;" >500</text><text x="233.97" y="773" text-anchor="middle" fill="#000" stroke="#000" stroke-width="0.2" style="font-size:15px;" >600</text><text x="295.2" y="773" text-anchor="middle" fill="#000" stroke="#000" stroke-width="0.2" style="font-size:15px;" >700</text><text x="62" y="745.9" text-anchor="end" fill="#000" stroke="#000" stroke-width="0.2" style="font-size:15px;" >0.00</text><text x="62" y="683" text-anchor="end" fill="#000" stroke="#000" stroke-width="0.2" style="font-size:15px;" >0.01</text><text x="201.6" y="788.5" text-anchor="middle" fill="#000" stroke="#000" stroke-width="0.2" style="font-size:15.3px;" >Wavelength (nm)</text><text x="13.1" y="694.5" text-anchor="middle" fill="#000" stroke="#000" stroke-width="0.2" style="font-size:15.3px;" transform="rotate(-90 13.1 694.5)" >Absorbance</text><text x="81" y="647.6" text-anchor="start" fill="#000" stroke="#000" stroke-width="0.2" style="font-size:20.2px;" >F</text><rect x="246.7" y="629.3" width="77.6" height="78.9" fill="#fff" stroke="none" stroke-width="1"/><polyline points="245.31,665.55 245.65,665.47 245.99,665.91 246.34,666.14 246.68,665.36 247.02,665.15 247.37,666.13 247.71,666.29 248.05,665.98 248.39,665.74 248.74,666.58 249.08,666.2 249.42,665.35 249.77,666.09 250.11,666.1 250.45,664.91 250.8,665.13 251.14,664.84 251.48,665.69 251.82,665.76 252.17,665.9 252.51,666.43 252.85,666.76 253.2,665.73 253.54,666.09 253.88,665.37 254.23,665.2 254.57,666.48 254.91,666.41 255.25,665.6 255.6,665 255.94,664.93 256.28,666.08 256.63,665.71 256.97,665.03 257.31,666.15 257.66,666.29 258,665.13 258.34,666.2 258.68,666.48 259.03,665.09 259.37,666.16 259.71,666.2 260.06,665.75 260.4,665.34 260.74,665.78 261.09,666.14 261.43,666.14 261.77,666.24 262.11,666.43 262.46,667.58 262.8,666.69 263.14,667.69 263.49,667.55 263.83,667.29 264.17,667.61 264.52,667.57 264.86,667.99 265.2,667.97 265.54,667.53 265.89,669.28 266.23,668.45 266.57,668.36 266.92,669.83 267.26,670.13 267.6,670.36 267.95,670.46 268.29,671.46 268.63,671.73 268.97,672.03 269.32,672.48 269.66,672.33 270,673.87 270.35,673.8 270.69,674.46 271.03,675.43 271.38,676.17 271.72,677.39 272.06,678.11 272.4,678.37 272.75,679.26 273.09,680.37 273.43,680.52 273.78,681.92 274.12,682.86 274.46,683.87 274.81,684.16 275.15,685.31 275.49,686.32 275.83,687.98 276.18,687.32 276.52,689.69 276.86,689.55 277.21,691.07 277.55,691.93 277.89,693.38 278.24,692.26 278.58,692.67 278.92,693.41 279.26,693.8 279.61,694.51 279.95,694.02 280.29,694.22 280.64,694.84 280.98,694.25 281.32,694.01 281.67,694.15 282.01,692.7 282.35,693.51 282.69,691.39 283.04,691.25 283.38,691.45 283.72,689.72 284.07,689.25 284.41,688.43 284.75,688.15 285.1,687.91 285.44,687.62 285.78,685.52 286.12,684.83 286.47,684.17 286.81,681.93 287.15,681.82 287.5,681.95 287.84,680.39 288.18,679.21 288.53,679.28 288.87,677.75 289.21,677.26 289.55,677.1 289.9,675.45 290.24,674.66 290.58,675.68 290.93,673.57 291.27,673.53 291.61,672.9 291.96,673.09 292.3,672.32 292.64,670.53 292.98,670.69 293.33,670.79 293.67,670.36 294.01,670.55 294.36,669.94 294.7,670.09 295.04,669.33 295.39,669.84 295.73,669.02 296.07,668.59 296.41,669.02 296.76,668.65 297.1,668.51 297.44,668.84 297.79,669.21 298.13,667.9 298.47,668.34 298.82,668.49 299.16,667.67 299.5,668.68 299.84,668.49 300.19,668.56 300.53,668.71 300.87,668.24 301.22,668.48 301.56,667.44 301.9,668.46 302.25,667.5 302.59,668.57 302.93,668.28 303.27,668.09 303.62,668.54 303.96,667.76 304.3,668.39 304.65,668.43 304.99,667.75 305.33,668.47 305.68,667.78 306.02,667.55 306.36,667.69 306.7,667.38 307.05,668.29 307.39,667.46 307.73,668.35 308.08,668.91 308.42,668.17 308.76,667.11 309.11,668.59 309.45,667.2 309.79,668.8 310.13,667.64 310.48,667.84 310.82,668.31 311.16,669.22 311.51,667.76 311.85,667.77 312.19,667.84 312.54,667.6 312.88,668.5 313.22,667.09 313.56,667.64 313.91,668.48 314.25,667 314.59,668.08 314.94,667.86 315.28,667.67 315.62,668.52 315.97,668.54 316.31,668.17 316.65,668.66 316.99,668.19 317.34,667.4 317.68,668.66 318.02,668.05 318.37,668.37 318.71,667.67 319.05,668.68 319.4,668.65 319.74,668.18 320.08,667.09 320.42,668.58 320.77,668.97 321.11,668.61 321.45,667.76 321.8,667.66 322.14,668.15 322.48,667.99 322.83,668.82 323.17,667.92 323.51,668.2 323.85,668.44 324.2,667.62 324.54,667.6 324.88,668.36 325.23,668.01 325.57,669.09 325.91,668.65 326.26,667.48 326.6,668.69" fill="none" stroke="#dc2b23" stroke-width="2.0" stroke-linejoin="round" clip-path="url(#cIF)"/><polyline points="245.31,673.59 245.65,672.57 245.99,674.28 246.34,673.48 246.68,672.76 247.02,673.36 247.37,673.57 247.71,673.66 248.05,673.03 248.39,673.61 248.74,672.98 249.08,673.21 249.42,673.13 249.77,672.57 250.11,673.36 250.45,673.6 250.8,673.12 251.14,672.99 251.48,673.21 251.82,673.96 252.17,672.77 252.51,673.98 252.85,674.09 253.2,672.63 253.54,672.34 253.88,673.22 254.23,673.49 254.57,672.37 254.91,673.71 255.25,673.05 255.6,673.31 255.94,672.71 256.28,672.83 256.63,673.35 256.97,672.38 257.31,672.52 257.66,672.85 258,672.95 258.34,672.79 258.68,673.32 259.03,672.74 259.37,672.66 259.71,672.16 260.06,672.43 260.4,672.41 260.74,671.93 261.09,671.41 261.43,671.43 261.77,671.57 262.11,671.5 262.46,670.36 262.8,670.77 263.14,671.09 263.49,670.07 263.83,670.74 264.17,669.77 264.52,668.83 264.86,668.86 265.2,668.55 265.54,667.61 265.89,666.97 266.23,667.6 266.57,667.23 266.92,666.55 267.26,666.27 267.6,664.95 267.95,664.28 268.29,664.13 268.63,664.01 268.97,663.64 269.32,662.27 269.66,661.88 270,660.52 270.35,660.6 270.69,659.43 271.03,658.5 271.38,656.9 271.72,656.1 272.06,655.29 272.4,654.44 272.75,653.19 273.09,653.38 273.43,650.98 273.78,650.47 274.12,648.53 274.46,647.73 274.81,646.5 275.15,646.37 275.49,643.53 275.83,643.66 276.18,642.81 276.52,642.29 276.86,640.92 277.21,641.3 277.55,638.8 277.89,638.5 278.24,638.13 278.58,636.86 278.92,636.8 279.26,636.45 279.61,636.64 279.95,636.02 280.29,636.67 280.64,636.64 280.98,636.11 281.32,636.68 281.67,637.34 282.01,637.15 282.35,638.45 282.69,637.31 283.04,639.18 283.38,639.89 283.72,639.47 284.07,641.82 284.41,643.09 284.75,642.94 285.1,644.06 285.44,644.44 285.78,646.03 286.12,647.86 286.47,648.08 286.81,649.34 287.15,649.67 287.5,651.2 287.84,652.87 288.18,653.77 288.53,654.43 288.87,655.62 289.21,656.25 289.55,657.12 289.9,658.7 290.24,658.83 290.58,659.32 290.93,661.06 291.27,661.88 291.61,661.43 291.96,662.14 292.3,662.51 292.64,662.62 292.98,664.04 293.33,664.94 293.67,664.71 294.01,665.53 294.36,665.34 294.7,665.46 295.04,666.05 295.39,666.06 295.73,666.56 296.07,666.63 296.41,667.5 296.76,666.25 297.1,667.56 297.44,667.55 297.79,667.8 298.13,667.67 298.47,667.84 298.82,668.68 299.16,666.97 299.5,667.61 299.84,667.99 300.19,667.9 300.53,667.4 300.87,667.52 301.22,667.82 301.56,667.54 301.9,669.29 302.25,667.59 302.59,668.15 302.93,668.42 303.27,668.57 303.62,668.02 303.96,668.93 304.3,667.91 304.65,668.47 304.99,667.72 305.33,668.97 305.68,667.9 306.02,668.32 306.36,668.69 306.7,667.48 307.05,667.55 307.39,668.57 307.73,668.26 308.08,667.38 308.42,668.06 308.76,668.43 309.11,668.59 309.45,668.5 309.79,667.83 310.13,667.66 310.48,668.31 310.82,668.65 311.16,668.53 311.51,669.03 311.85,667.91 312.19,668.15 312.54,667.6 312.88,667.01 313.22,667.47 313.56,668.35 313.91,668.32 314.25,668.81 314.59,669.19 314.94,667.21 315.28,668.03 315.62,668.93 315.97,667.81 316.31,669.22 316.65,668.28 316.99,668.12 317.34,668.5 317.68,668.44 318.02,667.78 318.37,668.44 318.71,667.6 319.05,669.08 319.4,668.39 319.74,667.32 320.08,668.69 320.42,668.69 320.77,668.17 321.11,668.41 321.45,668.06 321.8,667.68 322.14,667.9 322.48,668.08 322.83,668.38 323.17,668.08 323.51,667.72 323.85,668.63 324.2,668.4 324.54,668.75 324.88,668.18 325.23,668.1 325.57,668.46 325.91,668.73 326.26,668.56 326.6,667.84" fill="none" stroke="#2f5cb8" stroke-width="2.0" stroke-linejoin="round" clip-path="url(#cIF)"/><line x1="246.7" y1="668.1" x2="324.3" y2="668.1" stroke="#000" stroke-width="1.4" /><rect x="246.7" y="629.3" width="77.6" height="78.9" fill="none" stroke="#000" stroke-width="1.6"/><line x1="261.6" y1="708.2" x2="261.6" y2="702.7" stroke="#000" stroke-width="1.4" /><line x1="261.6" y1="629.3" x2="261.6" y2="634.8" stroke="#000" stroke-width="1.4" /><line x1="295.9" y1="708.2" x2="295.9" y2="702.7" stroke="#000" stroke-width="1.4" /><line x1="295.9" y1="629.3" x2="295.9" y2="634.8" stroke="#000" stroke-width="1.4" /><line x1="246.7" y1="688.1" x2="252.2" y2="688.1" stroke="#000" stroke-width="1.4" /><line x1="324.3" y1="688.1" x2="318.8" y2="688.1" stroke="#000" stroke-width="1.4" /><line x1="246.7" y1="648.1" x2="252.2" y2="648.1" stroke="#000" stroke-width="1.4" /><line x1="324.3" y1="648.1" x2="318.8" y2="648.1" stroke="#000" stroke-width="1.4" /><text x="244.6" y="692.7" text-anchor="end" fill="#000" stroke="#000" stroke-width="0.2" style="font-size:13px;" >-0.01</text><text x="244.6" y="672.7" text-anchor="end" fill="#000" stroke="#000" stroke-width="0.2" style="font-size:13px;" >0.00</text><text x="244.6" y="652.7" text-anchor="end" fill="#000" stroke="#000" stroke-width="0.2" style="font-size:13px;" >0.01</text><text x="261.8" y="719.3" text-anchor="middle" fill="#000" stroke="#000" stroke-width="0.2" style="font-size:13px;" >400</text><text x="298" y="719.3" text-anchor="middle" fill="#000" stroke="#000" stroke-width="0.2" style="font-size:13px;" >600</text><text x="278.6" y="728.8" text-anchor="middle" fill="#000" stroke="#000" stroke-width="0.2" style="font-size:12.1px;" >Wavelength (nm)</text><text x="216" y="658.8" text-anchor="middle" fill="#000" stroke="#000" stroke-width="0.2" style="font-size:12.3px;" transform="rotate(-90 216 658.8)" >Diff. Abs.</text><rect x="402.3" y="622.7" width="258.7" height="137.8" fill="none" stroke="#000" stroke-width="1.5"/><line x1="402.3" y1="747" x2="661" y2="747" stroke="#000" stroke-width="1.5" /><line x1="407.7" y1="760.5" x2="407.7" y2="750" stroke="#000" stroke-width="1.5" /><line x1="407.7" y1="622.7" x2="407.7" y2="633.7" stroke="#000" stroke-width="1.5" /><line x1="531.15" y1="760.5" x2="531.15" y2="750" stroke="#000" stroke-width="1.5" /><line x1="531.15" y1="622.7" x2="531.15" y2="633.7" stroke="#000" stroke-width="1.5" /><line x1="654.6" y1="760.5" x2="654.6" y2="750" stroke="#000" stroke-width="1.5" /><line x1="654.6" y1="622.7" x2="654.6" y2="633.7" stroke="#000" stroke-width="1.5" /><line x1="402.3" y1="707.47" x2="413.3" y2="707.47" stroke="#000" stroke-width="1.5" /><line x1="661" y1="707.47" x2="650" y2="707.47" stroke="#000" stroke-width="1.5" /><line x1="402.3" y1="667.93" x2="413.3" y2="667.93" stroke="#000" stroke-width="1.5" /><line x1="661" y1="667.93" x2="650" y2="667.93" stroke="#000" stroke-width="1.5" /><line x1="402.3" y1="628.4" x2="413.3" y2="628.4" stroke="#000" stroke-width="1.5" /><line x1="661" y1="628.4" x2="650" y2="628.4" stroke="#000" stroke-width="1.5" /><text x="407.7" y="777" text-anchor="middle" fill="#000" stroke="#000" stroke-width="0.2" style="font-size:13.5px;" >0</text><text x="531.15" y="777" text-anchor="middle" fill="#000" stroke="#000" stroke-width="0.2" style="font-size:13.5px;" >4</text><text x="654.6" y="777" text-anchor="middle" fill="#000" stroke="#000" stroke-width="0.2" style="font-size:13.5px;" >8</text><text x="396.6" y="751.8" text-anchor="end" fill="#000" stroke="#000" stroke-width="0.2" style="font-size:13.5px;" >0</text><text x="396.6" y="712.27" text-anchor="end" fill="#000" stroke="#000" stroke-width="0.2" style="font-size:13.5px;" >20</text><text x="396.6" y="672.73" text-anchor="end" fill="#000" stroke="#000" stroke-width="0.2" style="font-size:13.5px;" >40</text><text x="396.6" y="633.2" text-anchor="end" fill="#000" stroke="#000" stroke-width="0.2" style="font-size:13.5px;" >60</text><text x="536" y="793.2" text-anchor="middle" fill="#000" stroke="#000" stroke-width="0.2" style="font-size:13.6px;" >Time (min)</text><text x="354" y="690.8" text-anchor="middle" fill="#000" stroke="#000" stroke-width="0.2" style="font-size:13.6px;" transform="rotate(-90 354 690.8)" >GTP<tspan font-size="12.5">γ</tspan>S bound (fmol)</text><text x="358.4" y="620" text-anchor="start" fill="#000" stroke="#000" stroke-width="0.2" style="font-size:20.2px;" >G</text><polyline points="407.7,721.9 531.15,683.75 654.6,650.14" fill="none" stroke="#d9372a" stroke-width="1.6" stroke-linejoin="round"/><polyline points="407.7,723.28 531.15,715.37 654.6,708.46" fill="none" stroke="#000" stroke-width="1.9" stroke-linejoin="round"/><polyline points="407.7,722.69 531.15,713.4 654.6,707.47" fill="none" stroke="#3daa55" stroke-width="1.9" stroke-linejoin="round"/><line x1="407.7" y1="725.85" x2="407.7" y2="717.94" stroke="#d9372a" stroke-width="1.3" /><line x1="404.2" y1="725.85" x2="411.2" y2="725.85" stroke="#d9372a" stroke-width="1.3" /><line x1="404.2" y1="717.94" x2="411.2" y2="717.94" stroke="#d9372a" stroke-width="1.3" /><rect x="404.3" y="718.5" width="6.8" height="6.8" fill="none" stroke="#d9372a" stroke-width="1.3"/><line x1="531.15" y1="689.28" x2="531.15" y2="678.21" stroke="#d9372a" stroke-width="1.3" /><line x1="527.65" y1="689.28" x2="534.65" y2="689.28" stroke="#d9372a" stroke-width="1.3" /><line x1="527.65" y1="678.21" x2="534.65" y2="678.21" stroke="#d9372a" stroke-width="1.3" /><rect x="527.75" y="680.35" width="6.8" height="6.8" fill="none" stroke="#d9372a" stroke-width="1.3"/><line x1="654.6" y1="657.65" x2="654.6" y2="642.63" stroke="#d9372a" stroke-width="1.3" /><line x1="651.1" y1="657.65" x2="658.1" y2="657.65" stroke="#d9372a" stroke-width="1.3" /><line x1="651.1" y1="642.63" x2="658.1" y2="642.63" stroke="#d9372a" stroke-width="1.3" /><rect x="651.2" y="646.74" width="6.8" height="6.8" fill="none" stroke="#d9372a" stroke-width="1.3"/><line x1="407.7" y1="727.63" x2="407.7" y2="718.93" stroke="#000" stroke-width="1.3" /><line x1="404.2" y1="727.63" x2="411.2" y2="727.63" stroke="#000" stroke-width="1.3" /><line x1="404.2" y1="718.93" x2="411.2" y2="718.93" stroke="#000" stroke-width="1.3" /><circle cx="407.7" cy="723.28" r="3.3" fill="none" stroke="#000" stroke-width="1.3"/><line x1="531.15" y1="722.29" x2="531.15" y2="708.46" stroke="#000" stroke-width="1.3" /><line x1="527.65" y1="722.29" x2="534.65" y2="722.29" stroke="#000" stroke-width="1.3" /><line x1="527.65" y1="708.46" x2="534.65" y2="708.46" stroke="#000" stroke-width="1.3" /><circle cx="531.15" cy="715.37" r="3.3" fill="none" stroke="#000" stroke-width="1.3"/><line x1="654.6" y1="713.4" x2="654.6" y2="703.51" stroke="#000" stroke-width="1.3" /><line x1="651.1" y1="713.4" x2="658.1" y2="713.4" stroke="#000" stroke-width="1.3" /><line x1="651.1" y1="703.51" x2="658.1" y2="703.51" stroke="#000" stroke-width="1.3" /><circle cx="654.6" cy="708.46" r="3.3" fill="none" stroke="#000" stroke-width="1.3"/><line x1="407.7" y1="728.62" x2="407.7" y2="716.76" stroke="#3daa55" stroke-width="1.3" /><line x1="404.2" y1="728.62" x2="411.2" y2="728.62" stroke="#3daa55" stroke-width="1.3" /><line x1="404.2" y1="716.76" x2="411.2" y2="716.76" stroke="#3daa55" stroke-width="1.3" /><polygon points="407.7,718.69 411.7,725.69 403.7,725.69" fill="none" stroke="#3daa55" stroke-width="1.3"/><line x1="531.15" y1="723.28" x2="531.15" y2="703.51" stroke="#3daa55" stroke-width="1.3" /><line x1="527.65" y1="723.28" x2="534.65" y2="723.28" stroke="#3daa55" stroke-width="1.3" /><line x1="527.65" y1="703.51" x2="534.65" y2="703.51" stroke="#3daa55" stroke-width="1.3" /><polygon points="531.15,709.4 535.15,716.4 527.15,716.4" fill="none" stroke="#3daa55" stroke-width="1.3"/><polygon points="531.15,709.4 535.15,713.4 531.15,717.4 527.15,713.4" fill="#3daa55"/><line x1="654.6" y1="715.37" x2="654.6" y2="699.56" stroke="#3daa55" stroke-width="1.3" /><line x1="651.1" y1="715.37" x2="658.1" y2="715.37" stroke="#3daa55" stroke-width="1.3" /><line x1="651.1" y1="699.56" x2="658.1" y2="699.56" stroke="#3daa55" stroke-width="1.3" /><polygon points="654.6,703.47 658.6,710.47 650.6,710.47" fill="none" stroke="#3daa55" stroke-width="1.3"/><polygon points="654.6,703.47 658.6,707.47 654.6,711.47 650.6,707.47" fill="#3daa55"/><line x1="414.3" y1="639.2" x2="439.2" y2="639.2" stroke="#000" stroke-width="1.5" /><circle cx="426.7" cy="639.2" r="3.1" fill="none" stroke="#000" stroke-width="1.4"/><text x="445.6" y="644" text-anchor="start" fill="#000" stroke="#000" stroke-width="0.2" style="font-size:13.7px;" >before irr.</text><line x1="414.3" y1="655.2" x2="439.2" y2="655.2" stroke="#d9372a" stroke-width="1.5" /><rect x="423.4" y="651.9" width="6.6" height="6.6" fill="none" stroke="#d9372a" stroke-width="1.4"/><text x="445.6" y="660" text-anchor="start" fill="#000" stroke="#000" stroke-width="0.2" style="font-size:13.7px;" >UV light irr.</text><line x1="414.3" y1="669.8" x2="439.2" y2="669.8" stroke="#3daa55" stroke-width="1.5" /><polygon points="426.7,665.6 430.9,672.8 422.5,672.8" fill="none" stroke="#3daa55" stroke-width="1.4"/><text x="445.6" y="674.6" text-anchor="start" fill="#000" stroke="#000" stroke-width="0.2" style="font-size:13.7px;" >yellow light irr.</text>
</svg></body></html>
